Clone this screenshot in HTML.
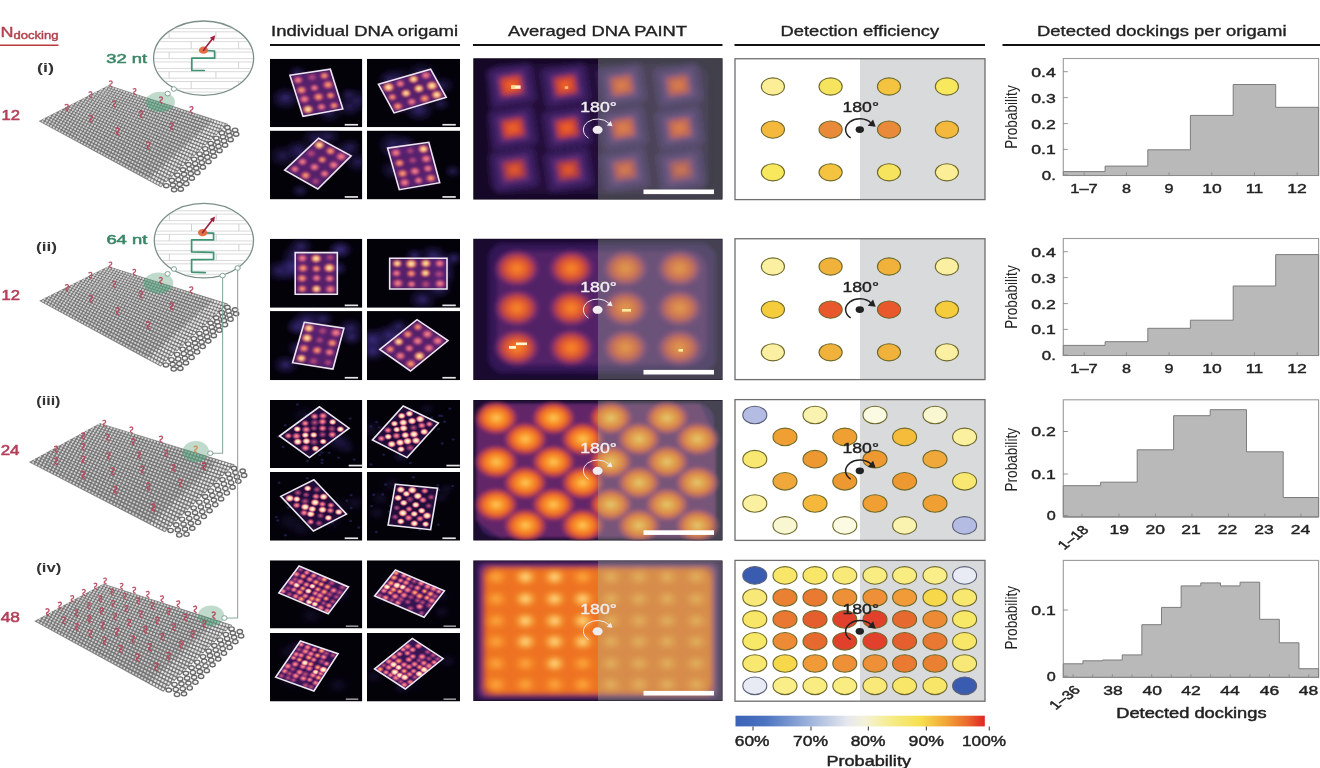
<!DOCTYPE html>
<html><head><meta charset="utf-8"><title>DNA origami figure</title>
<style>
html,body{margin:0;padding:0;background:#fff;}
body{width:1320px;height:768px;overflow:hidden;}
svg{display:block;font-family:"Liberation Sans", sans-serif;filter:blur(0.55px);}
</style></head><body>
<svg width="1320" height="768" viewBox="0 0 1320 768">
<rect width="1320" height="768" fill="#fff"/>
<text x="0.5" y="36.5" font-size="15" fill="#b3404e" textLength="13" lengthAdjust="spacingAndGlyphs" stroke="#b3404e" stroke-width="0.42">N</text>
<text x="13.5" y="38.5" font-size="10.5" fill="#b3404e" textLength="45" lengthAdjust="spacingAndGlyphs" stroke="#b3404e" stroke-width="0.42">docking</text>
<line x1="0" y1="45.2" x2="58.5" y2="45.2" stroke="#b83a3c" stroke-width="1.6" />
<text x="271" y="35.8" font-size="13.9" fill="#222" textLength="187" lengthAdjust="spacingAndGlyphs" stroke="#222" stroke-width="0.33">Individual DNA origami</text>
<line x1="270" y1="45" x2="460" y2="45" stroke="#111" stroke-width="2" />
<text x="508" y="35.8" font-size="13.9" fill="#222" textLength="179" lengthAdjust="spacingAndGlyphs" stroke="#222" stroke-width="0.33">Averaged DNA PAINT</text>
<line x1="473" y1="45" x2="722.5" y2="45" stroke="#111" stroke-width="2" />
<text x="780.5" y="35.8" font-size="13.9" fill="#222" textLength="158.7" lengthAdjust="spacingAndGlyphs" stroke="#222" stroke-width="0.33">Detection efficiency</text>
<line x1="734.5" y1="45" x2="985" y2="45" stroke="#111" stroke-width="2" />
<text x="1037" y="35.8" font-size="13.9" fill="#222" textLength="249.5" lengthAdjust="spacingAndGlyphs" stroke="#222" stroke-width="0.33">Detected dockings per origami</text>
<line x1="1002.5" y1="45" x2="1320" y2="45" stroke="#111" stroke-width="2" />
<text x="37" y="71.5" font-size="13.5" fill="#333" font-weight="bold" textLength="17" lengthAdjust="spacingAndGlyphs">(i)</text>
<text x="36" y="251" font-size="13.5" fill="#333" font-weight="bold" textLength="21" lengthAdjust="spacingAndGlyphs">(ii)</text>
<text x="36.3" y="405" font-size="13.5" fill="#333" font-weight="bold" textLength="24.2" lengthAdjust="spacingAndGlyphs">(iii)</text>
<text x="36.3" y="572.3" font-size="13.5" fill="#333" font-weight="bold" textLength="25.1" lengthAdjust="spacingAndGlyphs">(iv)</text>
<text x="1.5" y="120.3" font-size="13.8" fill="#b3405a" textLength="18.5" lengthAdjust="spacingAndGlyphs" stroke="#b3405a" stroke-width="0.55">12</text>
<text x="1.5" y="300.4" font-size="13.8" fill="#b3405a" textLength="18.5" lengthAdjust="spacingAndGlyphs" stroke="#b3405a" stroke-width="0.55">12</text>
<text x="0.7" y="454.7" font-size="13.8" fill="#b3405a" textLength="18.8" lengthAdjust="spacingAndGlyphs" stroke="#b3405a" stroke-width="0.55">24</text>
<text x="0.7" y="621.6" font-size="13.8" fill="#b3405a" textLength="19.3" lengthAdjust="spacingAndGlyphs" stroke="#b3405a" stroke-width="0.55">48</text>
<rect x="1063.3" y="58.5" width="255.3" height="117" fill="#fff" stroke="#9a9a9a" stroke-width="1.1"/>
<path d="M1063.3 175.5 L1063.3 171.6 L1105.1 171.6 L1105.1 166.1 L1147.8 166.1 L1147.8 149.8 L1190.4 149.8 L1190.4 115.4 L1233.2 115.4 L1233.2 84.5 L1275.7 84.5 L1275.7 107.3 L1318.6 107.3 L1318.6 175.5 Z" fill="#b9b9b9" stroke="#7c7c7c" stroke-width="1" stroke-linejoin="miter"/>
<line x1="1063.3" y1="175.5" x2="1318.6" y2="175.5" stroke="#8a8a8a" stroke-width="1.2" />
<line x1="1084.2" y1="175.5" x2="1084.2" y2="172.3" stroke="#8a8a8a" stroke-width="0.9" />
<line x1="1126.45" y1="175.5" x2="1126.45" y2="172.3" stroke="#8a8a8a" stroke-width="0.9" />
<line x1="1169.1" y1="175.5" x2="1169.1" y2="172.3" stroke="#8a8a8a" stroke-width="0.9" />
<line x1="1211.8" y1="175.5" x2="1211.8" y2="172.3" stroke="#8a8a8a" stroke-width="0.9" />
<line x1="1254.45" y1="175.5" x2="1254.45" y2="172.3" stroke="#8a8a8a" stroke-width="0.9" />
<line x1="1297.15" y1="175.5" x2="1297.15" y2="172.3" stroke="#8a8a8a" stroke-width="0.9" />
<line x1="1063.3" y1="71.7" x2="1067.8" y2="71.7" stroke="#8a8a8a" stroke-width="0.9" />
<text x="1031.3" y="76.6" font-size="13.5" fill="#222" textLength="24.5" lengthAdjust="spacingAndGlyphs" stroke="#222" stroke-width="0.42">0.4</text>
<line x1="1063.3" y1="97.6" x2="1067.8" y2="97.6" stroke="#8a8a8a" stroke-width="0.9" />
<text x="1031.3" y="102.5" font-size="13.5" fill="#222" textLength="24.5" lengthAdjust="spacingAndGlyphs" stroke="#222" stroke-width="0.42">0.3</text>
<line x1="1063.3" y1="123.6" x2="1067.8" y2="123.6" stroke="#8a8a8a" stroke-width="0.9" />
<text x="1031.3" y="128.5" font-size="13.5" fill="#222" textLength="24.5" lengthAdjust="spacingAndGlyphs" stroke="#222" stroke-width="0.42">0.2</text>
<line x1="1063.3" y1="149.4" x2="1067.8" y2="149.4" stroke="#8a8a8a" stroke-width="0.9" />
<text x="1031.3" y="154.3" font-size="13.5" fill="#222" textLength="24.5" lengthAdjust="spacingAndGlyphs" stroke="#222" stroke-width="0.42">0.1</text>
<line x1="1063.3" y1="175" x2="1067.8" y2="175" stroke="#8a8a8a" stroke-width="0.9" />
<text x="1041.8" y="179.9" font-size="13.5" fill="#222" textLength="14" lengthAdjust="spacingAndGlyphs" stroke="#222" stroke-width="0.42">0.</text>
<text x="1070.25" y="192.8" font-size="13.5" fill="#222" textLength="27.5" lengthAdjust="spacingAndGlyphs" stroke="#222" stroke-width="0.42">1–7</text>
<text x="1122.1" y="192.8" font-size="13.5" fill="#222" textLength="9" lengthAdjust="spacingAndGlyphs" stroke="#222" stroke-width="0.42">8</text>
<text x="1164.5" y="192.8" font-size="13.5" fill="#222" textLength="9" lengthAdjust="spacingAndGlyphs" stroke="#222" stroke-width="0.42">9</text>
<text x="1202.25" y="192.8" font-size="13.5" fill="#222" textLength="19.5" lengthAdjust="spacingAndGlyphs" stroke="#222" stroke-width="0.42">10</text>
<text x="1245.75" y="192.8" font-size="13.5" fill="#222" textLength="17.5" lengthAdjust="spacingAndGlyphs" stroke="#222" stroke-width="0.42">11</text>
<text x="1287.25" y="192.8" font-size="13.5" fill="#222" textLength="19.5" lengthAdjust="spacingAndGlyphs" stroke="#222" stroke-width="0.42">12</text>
<g transform="translate(1017.4 148.8) scale(1.3 1) rotate(-90)"><text x="0" y="0" font-size="12.3" fill="#222" textLength="63.5" lengthAdjust="spacingAndGlyphs">Probability</text></g>
<rect x="1063.3" y="238.5" width="255.3" height="117" fill="#fff" stroke="#9a9a9a" stroke-width="1.1"/>
<path d="M1063.3 355.5 L1063.3 345.4 L1105.1 345.4 L1105.1 341.7 L1147.8 341.7 L1147.8 328.3 L1190.4 328.3 L1190.4 320.2 L1233.2 320.2 L1233.2 286 L1275.7 286 L1275.7 254.6 L1318.6 254.6 L1318.6 355.5 Z" fill="#b9b9b9" stroke="#7c7c7c" stroke-width="1" stroke-linejoin="miter"/>
<line x1="1063.3" y1="355.5" x2="1318.6" y2="355.5" stroke="#8a8a8a" stroke-width="1.2" />
<line x1="1084.2" y1="355.5" x2="1084.2" y2="352.3" stroke="#8a8a8a" stroke-width="0.9" />
<line x1="1126.45" y1="355.5" x2="1126.45" y2="352.3" stroke="#8a8a8a" stroke-width="0.9" />
<line x1="1169.1" y1="355.5" x2="1169.1" y2="352.3" stroke="#8a8a8a" stroke-width="0.9" />
<line x1="1211.8" y1="355.5" x2="1211.8" y2="352.3" stroke="#8a8a8a" stroke-width="0.9" />
<line x1="1254.45" y1="355.5" x2="1254.45" y2="352.3" stroke="#8a8a8a" stroke-width="0.9" />
<line x1="1297.15" y1="355.5" x2="1297.15" y2="352.3" stroke="#8a8a8a" stroke-width="0.9" />
<line x1="1063.3" y1="251.7" x2="1067.8" y2="251.7" stroke="#8a8a8a" stroke-width="0.9" />
<text x="1031.3" y="256.6" font-size="13.5" fill="#222" textLength="24.5" lengthAdjust="spacingAndGlyphs" stroke="#222" stroke-width="0.42">0.4</text>
<line x1="1063.3" y1="277.6" x2="1067.8" y2="277.6" stroke="#8a8a8a" stroke-width="0.9" />
<text x="1031.3" y="282.5" font-size="13.5" fill="#222" textLength="24.5" lengthAdjust="spacingAndGlyphs" stroke="#222" stroke-width="0.42">0.3</text>
<line x1="1063.3" y1="303.6" x2="1067.8" y2="303.6" stroke="#8a8a8a" stroke-width="0.9" />
<text x="1031.3" y="308.5" font-size="13.5" fill="#222" textLength="24.5" lengthAdjust="spacingAndGlyphs" stroke="#222" stroke-width="0.42">0.2</text>
<line x1="1063.3" y1="329.4" x2="1067.8" y2="329.4" stroke="#8a8a8a" stroke-width="0.9" />
<text x="1031.3" y="334.3" font-size="13.5" fill="#222" textLength="24.5" lengthAdjust="spacingAndGlyphs" stroke="#222" stroke-width="0.42">0.1</text>
<line x1="1063.3" y1="355" x2="1067.8" y2="355" stroke="#8a8a8a" stroke-width="0.9" />
<text x="1041.8" y="359.9" font-size="13.5" fill="#222" textLength="14" lengthAdjust="spacingAndGlyphs" stroke="#222" stroke-width="0.42">0.</text>
<text x="1070.25" y="372.8" font-size="13.5" fill="#222" textLength="27.5" lengthAdjust="spacingAndGlyphs" stroke="#222" stroke-width="0.42">1–7</text>
<text x="1122.1" y="372.8" font-size="13.5" fill="#222" textLength="9" lengthAdjust="spacingAndGlyphs" stroke="#222" stroke-width="0.42">8</text>
<text x="1164.5" y="372.8" font-size="13.5" fill="#222" textLength="9" lengthAdjust="spacingAndGlyphs" stroke="#222" stroke-width="0.42">9</text>
<text x="1202.25" y="372.8" font-size="13.5" fill="#222" textLength="19.5" lengthAdjust="spacingAndGlyphs" stroke="#222" stroke-width="0.42">10</text>
<text x="1245.75" y="372.8" font-size="13.5" fill="#222" textLength="17.5" lengthAdjust="spacingAndGlyphs" stroke="#222" stroke-width="0.42">11</text>
<text x="1287.25" y="372.8" font-size="13.5" fill="#222" textLength="19.5" lengthAdjust="spacingAndGlyphs" stroke="#222" stroke-width="0.42">12</text>
<g transform="translate(1017.4 328.8) scale(1.3 1) rotate(-90)"><text x="0" y="0" font-size="12.3" fill="#222" textLength="63.5" lengthAdjust="spacingAndGlyphs">Probability</text></g>
<rect x="1063.3" y="399.8" width="255.3" height="117" fill="#fff" stroke="#9a9a9a" stroke-width="1.1"/>
<path d="M1063.3 516.8 L1063.3 485.7 L1100.6 485.7 L1100.6 482.2 L1137.2 482.2 L1137.2 449.8 L1173.6 449.8 L1173.6 415.7 L1210.2 415.7 L1210.2 409.7 L1246.5 409.7 L1246.5 451.8 L1283.2 451.8 L1283.2 497.5 L1318.6 497.5 L1318.6 516.8 Z" fill="#b9b9b9" stroke="#7c7c7c" stroke-width="1" stroke-linejoin="miter"/>
<line x1="1063.3" y1="516.8" x2="1318.6" y2="516.8" stroke="#8a8a8a" stroke-width="1.2" />
<line x1="1081.95" y1="516.8" x2="1081.95" y2="513.6" stroke="#8a8a8a" stroke-width="0.9" />
<line x1="1118.9" y1="516.8" x2="1118.9" y2="513.6" stroke="#8a8a8a" stroke-width="0.9" />
<line x1="1155.4" y1="516.8" x2="1155.4" y2="513.6" stroke="#8a8a8a" stroke-width="0.9" />
<line x1="1191.9" y1="516.8" x2="1191.9" y2="513.6" stroke="#8a8a8a" stroke-width="0.9" />
<line x1="1228.35" y1="516.8" x2="1228.35" y2="513.6" stroke="#8a8a8a" stroke-width="0.9" />
<line x1="1264.85" y1="516.8" x2="1264.85" y2="513.6" stroke="#8a8a8a" stroke-width="0.9" />
<line x1="1300.9" y1="516.8" x2="1300.9" y2="513.6" stroke="#8a8a8a" stroke-width="0.9" />
<line x1="1063.3" y1="431.5" x2="1067.8" y2="431.5" stroke="#8a8a8a" stroke-width="0.9" />
<text x="1031.3" y="436.4" font-size="13.5" fill="#222" textLength="24.5" lengthAdjust="spacingAndGlyphs" stroke="#222" stroke-width="0.42">0.2</text>
<line x1="1063.3" y1="474" x2="1067.8" y2="474" stroke="#8a8a8a" stroke-width="0.9" />
<text x="1031.3" y="478.9" font-size="13.5" fill="#222" textLength="24.5" lengthAdjust="spacingAndGlyphs" stroke="#222" stroke-width="0.42">0.1</text>
<line x1="1063.3" y1="515.5" x2="1067.8" y2="515.5" stroke="#8a8a8a" stroke-width="0.9" />
<text x="1046.8" y="520.4" font-size="13.5" fill="#222" textLength="9" lengthAdjust="spacingAndGlyphs" stroke="#222" stroke-width="0.42">0</text>
<text x="1109.45" y="534" font-size="13.5" fill="#222" textLength="19.5" lengthAdjust="spacingAndGlyphs" stroke="#222" stroke-width="0.42">19</text>
<text x="1145.55" y="534" font-size="13.5" fill="#222" textLength="19.5" lengthAdjust="spacingAndGlyphs" stroke="#222" stroke-width="0.42">20</text>
<text x="1181.25" y="534" font-size="13.5" fill="#222" textLength="19.5" lengthAdjust="spacingAndGlyphs" stroke="#222" stroke-width="0.42">21</text>
<text x="1217.75" y="534" font-size="13.5" fill="#222" textLength="19.5" lengthAdjust="spacingAndGlyphs" stroke="#222" stroke-width="0.42">22</text>
<text x="1254.25" y="534" font-size="13.5" fill="#222" textLength="19.5" lengthAdjust="spacingAndGlyphs" stroke="#222" stroke-width="0.42">23</text>
<text x="1290.75" y="534" font-size="13.5" fill="#222" textLength="19.5" lengthAdjust="spacingAndGlyphs" stroke="#222" stroke-width="0.42">24</text>
<g transform="translate(1077 540.5) scale(1.3 1) rotate(-45)"><text x="0" y="0" font-size="12.4" fill="#222" text-anchor="middle" stroke="#222" stroke-width="0.42">1–18</text></g>
<g transform="translate(1017.4 491.5) scale(1.3 1) rotate(-90)"><text x="0" y="0" font-size="12.3" fill="#222" textLength="63.5" lengthAdjust="spacingAndGlyphs">Probability</text></g>
<rect x="1063.3" y="560.4" width="255.3" height="117" fill="#fff" stroke="#9a9a9a" stroke-width="1.1"/>
<path d="M1063.3 677.4 L1063.3 663.8 L1082.94 663.8 L1082.94 660.8 L1102.58 660.8 L1102.58 660 L1122.22 660 L1122.22 654.9 L1141.85 654.9 L1141.85 624.7 L1161.49 624.7 L1161.49 607.4 L1181.13 607.4 L1181.13 585.9 L1200.77 585.9 L1200.77 582.9 L1220.41 582.9 L1220.41 585.9 L1240.05 585.9 L1240.05 582.2 L1259.68 582.2 L1259.68 619.3 L1279.32 619.3 L1279.32 642.8 L1298.96 642.8 L1298.96 668.7 L1318.6 668.7 L1318.6 677.4 Z" fill="#b9b9b9" stroke="#7c7c7c" stroke-width="1" stroke-linejoin="miter"/>
<line x1="1063.3" y1="677.4" x2="1318.6" y2="677.4" stroke="#8a8a8a" stroke-width="1.2" />
<line x1="1073.12" y1="677.4" x2="1073.12" y2="674.2" stroke="#8a8a8a" stroke-width="0.9" />
<line x1="1092.76" y1="677.4" x2="1092.76" y2="674.2" stroke="#8a8a8a" stroke-width="0.9" />
<line x1="1112.4" y1="677.4" x2="1112.4" y2="674.2" stroke="#8a8a8a" stroke-width="0.9" />
<line x1="1132.03" y1="677.4" x2="1132.03" y2="674.2" stroke="#8a8a8a" stroke-width="0.9" />
<line x1="1151.67" y1="677.4" x2="1151.67" y2="674.2" stroke="#8a8a8a" stroke-width="0.9" />
<line x1="1171.31" y1="677.4" x2="1171.31" y2="674.2" stroke="#8a8a8a" stroke-width="0.9" />
<line x1="1190.95" y1="677.4" x2="1190.95" y2="674.2" stroke="#8a8a8a" stroke-width="0.9" />
<line x1="1210.59" y1="677.4" x2="1210.59" y2="674.2" stroke="#8a8a8a" stroke-width="0.9" />
<line x1="1230.23" y1="677.4" x2="1230.23" y2="674.2" stroke="#8a8a8a" stroke-width="0.9" />
<line x1="1249.87" y1="677.4" x2="1249.87" y2="674.2" stroke="#8a8a8a" stroke-width="0.9" />
<line x1="1269.5" y1="677.4" x2="1269.5" y2="674.2" stroke="#8a8a8a" stroke-width="0.9" />
<line x1="1289.14" y1="677.4" x2="1289.14" y2="674.2" stroke="#8a8a8a" stroke-width="0.9" />
<line x1="1308.78" y1="677.4" x2="1308.78" y2="674.2" stroke="#8a8a8a" stroke-width="0.9" />
<line x1="1063.3" y1="610" x2="1067.8" y2="610" stroke="#8a8a8a" stroke-width="0.9" />
<text x="1031.3" y="614.9" font-size="13.5" fill="#222" textLength="24.5" lengthAdjust="spacingAndGlyphs" stroke="#222" stroke-width="0.42">0.1</text>
<line x1="1063.3" y1="676.2" x2="1067.8" y2="676.2" stroke="#8a8a8a" stroke-width="0.9" />
<text x="1046.8" y="681.1" font-size="13.5" fill="#222" textLength="9" lengthAdjust="spacingAndGlyphs" stroke="#222" stroke-width="0.42">0</text>
<text x="1103.25" y="695" font-size="13.5" fill="#222" textLength="19.5" lengthAdjust="spacingAndGlyphs" stroke="#222" stroke-width="0.42">38</text>
<text x="1142.55" y="695" font-size="13.5" fill="#222" textLength="19.5" lengthAdjust="spacingAndGlyphs" stroke="#222" stroke-width="0.42">40</text>
<text x="1181.25" y="695" font-size="13.5" fill="#222" textLength="19.5" lengthAdjust="spacingAndGlyphs" stroke="#222" stroke-width="0.42">42</text>
<text x="1220.25" y="695" font-size="13.5" fill="#222" textLength="19.5" lengthAdjust="spacingAndGlyphs" stroke="#222" stroke-width="0.42">44</text>
<text x="1259.75" y="695" font-size="13.5" fill="#222" textLength="19.5" lengthAdjust="spacingAndGlyphs" stroke="#222" stroke-width="0.42">46</text>
<text x="1298.85" y="695" font-size="13.5" fill="#222" textLength="19.5" lengthAdjust="spacingAndGlyphs" stroke="#222" stroke-width="0.42">48</text>
<g transform="translate(1068.5 700.5) scale(1.3 1) rotate(-45)"><text x="0" y="0" font-size="12.4" fill="#222" text-anchor="middle" stroke="#222" stroke-width="0.42">1–36</text></g>
<g transform="translate(1017.4 649.5) scale(1.3 1) rotate(-90)"><text x="0" y="0" font-size="12.3" fill="#222" textLength="63.5" lengthAdjust="spacingAndGlyphs">Probability</text></g>
<text x="1116.2" y="717.7" font-size="14.2" fill="#222" textLength="150.4" lengthAdjust="spacingAndGlyphs" stroke="#222" stroke-width="0.45">Detected dockings</text>
<rect x="735" y="58.75" width="250" height="140.85" fill="#fff"/>
<rect x="860" y="58.75" width="125" height="140.85" fill="#d9dadc"/>
<ellipse cx="772.9" cy="86.5" rx="11.6" ry="8.6" fill="#fbee96" stroke="#6f6a2c" stroke-width="1.1"/>
<ellipse cx="830.6" cy="86.5" rx="11.6" ry="8.6" fill="#f7e45e" stroke="#6f6a2c" stroke-width="1.1"/>
<ellipse cx="889" cy="86.5" rx="11.6" ry="8.6" fill="#f4c440" stroke="#6f6a2c" stroke-width="1.1"/>
<ellipse cx="946.9" cy="86.5" rx="11.6" ry="8.6" fill="#f8e85e" stroke="#6f6a2c" stroke-width="1.1"/>
<ellipse cx="772.9" cy="129.6" rx="11.6" ry="8.6" fill="#f3b83c" stroke="#6f6a2c" stroke-width="1.1"/>
<ellipse cx="830.6" cy="129.6" rx="11.6" ry="8.6" fill="#e98a3a" stroke="#6f6a2c" stroke-width="1.1"/>
<ellipse cx="889" cy="129.6" rx="11.6" ry="8.6" fill="#e98a3a" stroke="#6f6a2c" stroke-width="1.1"/>
<ellipse cx="946.9" cy="129.6" rx="11.6" ry="8.6" fill="#f3b83c" stroke="#6f6a2c" stroke-width="1.1"/>
<ellipse cx="772.9" cy="172.3" rx="11.6" ry="8.6" fill="#f8e85e" stroke="#6f6a2c" stroke-width="1.1"/>
<ellipse cx="830.6" cy="172.3" rx="11.6" ry="8.6" fill="#f4c440" stroke="#6f6a2c" stroke-width="1.1"/>
<ellipse cx="889" cy="172.3" rx="11.6" ry="8.6" fill="#f7e45e" stroke="#6f6a2c" stroke-width="1.1"/>
<ellipse cx="946.9" cy="172.3" rx="11.6" ry="8.6" fill="#fbee96" stroke="#6f6a2c" stroke-width="1.1"/>
<rect x="735" y="58.75" width="250" height="140.85" fill="none" stroke="#6e6e6e" stroke-width="1.3"/>
<text x="842.5" y="112" font-size="13.8" fill="#222" textLength="36.5" lengthAdjust="spacingAndGlyphs" stroke="#222" stroke-width="0.4">180°</text>
<path d="M850.67 137.87 A14.2 10.8 0 1 1 870.99 122.95" fill="none" stroke="#222" stroke-width="1.5"/>
<path d="M875.69 126.75 L867.69 125.75 L873.09 119.55 Z" fill="#222"/>
<ellipse cx="859.8" cy="129.6" rx="4.2" ry="3.36" fill="#222"/>
<rect x="735" y="238.75" width="250" height="140.85" fill="#fff"/>
<rect x="860" y="238.75" width="125" height="140.85" fill="#d9dadc"/>
<ellipse cx="772.9" cy="266.5" rx="11.6" ry="8.6" fill="#fbf0a2" stroke="#6f6a2c" stroke-width="1.1"/>
<ellipse cx="830.6" cy="266.5" rx="11.6" ry="8.6" fill="#f1b23c" stroke="#6f6a2c" stroke-width="1.1"/>
<ellipse cx="889" cy="266.5" rx="11.6" ry="8.6" fill="#f1b23c" stroke="#6f6a2c" stroke-width="1.1"/>
<ellipse cx="946.9" cy="266.5" rx="11.6" ry="8.6" fill="#fbf0a2" stroke="#6f6a2c" stroke-width="1.1"/>
<ellipse cx="772.9" cy="309.6" rx="11.6" ry="8.6" fill="#f5cc3c" stroke="#6f6a2c" stroke-width="1.1"/>
<ellipse cx="830.6" cy="309.6" rx="11.6" ry="8.6" fill="#e8582c" stroke="#6f6a2c" stroke-width="1.1"/>
<ellipse cx="889" cy="309.6" rx="11.6" ry="8.6" fill="#e8582c" stroke="#6f6a2c" stroke-width="1.1"/>
<ellipse cx="946.9" cy="309.6" rx="11.6" ry="8.6" fill="#f5cc3c" stroke="#6f6a2c" stroke-width="1.1"/>
<ellipse cx="772.9" cy="352.3" rx="11.6" ry="8.6" fill="#fbf0a2" stroke="#6f6a2c" stroke-width="1.1"/>
<ellipse cx="830.6" cy="352.3" rx="11.6" ry="8.6" fill="#f1b23c" stroke="#6f6a2c" stroke-width="1.1"/>
<ellipse cx="889" cy="352.3" rx="11.6" ry="8.6" fill="#f1b23c" stroke="#6f6a2c" stroke-width="1.1"/>
<ellipse cx="946.9" cy="352.3" rx="11.6" ry="8.6" fill="#fbf0a2" stroke="#6f6a2c" stroke-width="1.1"/>
<rect x="735" y="238.75" width="250" height="140.85" fill="none" stroke="#6e6e6e" stroke-width="1.3"/>
<text x="842.5" y="292" font-size="13.8" fill="#222" textLength="36.5" lengthAdjust="spacingAndGlyphs" stroke="#222" stroke-width="0.4">180°</text>
<path d="M850.67 317.87 A14.2 10.8 0 1 1 870.99 302.95" fill="none" stroke="#222" stroke-width="1.5"/>
<path d="M875.69 306.75 L867.69 305.75 L873.09 299.55 Z" fill="#222"/>
<ellipse cx="859.8" cy="309.6" rx="4.2" ry="3.36" fill="#222"/>
<rect x="735" y="399.6" width="250" height="140.8" fill="#fff"/>
<rect x="860" y="399.6" width="125" height="140.8" fill="#d9dadc"/>
<ellipse cx="754.8" cy="415" rx="12" ry="8.8" fill="#b4bce4" stroke="#5a6078" stroke-width="1.1"/>
<ellipse cx="815" cy="415" rx="12" ry="8.8" fill="#faf3b0" stroke="#6f6a2c" stroke-width="1.1"/>
<ellipse cx="875" cy="415" rx="12" ry="8.8" fill="#fbfae2" stroke="#6f6a2c" stroke-width="1.1"/>
<ellipse cx="935" cy="415" rx="12" ry="8.8" fill="#f8f7d2" stroke="#6f6a2c" stroke-width="1.1"/>
<ellipse cx="785" cy="436.9" rx="12" ry="8.8" fill="#f0a032" stroke="#6f6a2c" stroke-width="1.1"/>
<ellipse cx="844.8" cy="436.9" rx="12" ry="8.8" fill="#f0a032" stroke="#6f6a2c" stroke-width="1.1"/>
<ellipse cx="904.6" cy="436.9" rx="12" ry="8.8" fill="#f5bb3a" stroke="#6f6a2c" stroke-width="1.1"/>
<ellipse cx="964.6" cy="436.9" rx="12" ry="8.8" fill="#faf0a0" stroke="#6f6a2c" stroke-width="1.1"/>
<ellipse cx="754.8" cy="459.2" rx="12" ry="8.8" fill="#f8e872" stroke="#6f6a2c" stroke-width="1.1"/>
<ellipse cx="815" cy="459.2" rx="12" ry="8.8" fill="#ee9832" stroke="#6f6a2c" stroke-width="1.1"/>
<ellipse cx="875" cy="459.2" rx="12" ry="8.8" fill="#ee9832" stroke="#6f6a2c" stroke-width="1.1"/>
<ellipse cx="935" cy="459.2" rx="12" ry="8.8" fill="#f0a83a" stroke="#6f6a2c" stroke-width="1.1"/>
<ellipse cx="785" cy="481.3" rx="12" ry="8.8" fill="#f0a83a" stroke="#6f6a2c" stroke-width="1.1"/>
<ellipse cx="844.8" cy="481.3" rx="12" ry="8.8" fill="#ee9832" stroke="#6f6a2c" stroke-width="1.1"/>
<ellipse cx="904.6" cy="481.3" rx="12" ry="8.8" fill="#ee9832" stroke="#6f6a2c" stroke-width="1.1"/>
<ellipse cx="964.6" cy="481.3" rx="12" ry="8.8" fill="#f8e872" stroke="#6f6a2c" stroke-width="1.1"/>
<ellipse cx="754.8" cy="503.5" rx="12" ry="8.8" fill="#faf0a0" stroke="#6f6a2c" stroke-width="1.1"/>
<ellipse cx="815" cy="503.5" rx="12" ry="8.8" fill="#f5b83a" stroke="#6f6a2c" stroke-width="1.1"/>
<ellipse cx="875" cy="503.5" rx="12" ry="8.8" fill="#f0a032" stroke="#6f6a2c" stroke-width="1.1"/>
<ellipse cx="935" cy="503.5" rx="12" ry="8.8" fill="#f0a032" stroke="#6f6a2c" stroke-width="1.1"/>
<ellipse cx="785" cy="525.4" rx="12" ry="8.8" fill="#f8f7d2" stroke="#6f6a2c" stroke-width="1.1"/>
<ellipse cx="844.8" cy="525.4" rx="12" ry="8.8" fill="#fbfae2" stroke="#6f6a2c" stroke-width="1.1"/>
<ellipse cx="904.6" cy="525.4" rx="12" ry="8.8" fill="#faf3b0" stroke="#6f6a2c" stroke-width="1.1"/>
<ellipse cx="964.6" cy="525.4" rx="12" ry="8.8" fill="#b4bce4" stroke="#5a6078" stroke-width="1.1"/>
<rect x="735" y="399.6" width="250" height="140.8" fill="none" stroke="#6e6e6e" stroke-width="1.3"/>
<text x="842.5" y="452.6" font-size="13.8" fill="#222" textLength="36.5" lengthAdjust="spacingAndGlyphs" stroke="#222" stroke-width="0.4">180°</text>
<path d="M850.67 479.07 A14.2 10.8 0 1 1 870.99 464.15" fill="none" stroke="#222" stroke-width="1.5"/>
<path d="M875.69 467.95 L867.69 466.95 L873.09 460.75 Z" fill="#222"/>
<ellipse cx="859.8" cy="470.8" rx="4.2" ry="3.36" fill="#222"/>
<rect x="735" y="560.4" width="250" height="140.8" fill="#fff"/>
<rect x="860" y="560.4" width="125" height="140.8" fill="#d9dadc"/>
<ellipse cx="754.8" cy="575.4" rx="12" ry="8.8" fill="#3a5cb0" stroke="#5a6078" stroke-width="1.1"/>
<ellipse cx="785" cy="575.4" rx="12" ry="8.8" fill="#f8e668" stroke="#6f6a2c" stroke-width="1.1"/>
<ellipse cx="815" cy="575.4" rx="12" ry="8.8" fill="#f8e668" stroke="#6f6a2c" stroke-width="1.1"/>
<ellipse cx="844.8" cy="575.4" rx="12" ry="8.8" fill="#f9e978" stroke="#6f6a2c" stroke-width="1.1"/>
<ellipse cx="875" cy="575.4" rx="12" ry="8.8" fill="#f9ec80" stroke="#6f6a2c" stroke-width="1.1"/>
<ellipse cx="904.6" cy="575.4" rx="12" ry="8.8" fill="#f9ec80" stroke="#6f6a2c" stroke-width="1.1"/>
<ellipse cx="935" cy="575.4" rx="12" ry="8.8" fill="#faee88" stroke="#6f6a2c" stroke-width="1.1"/>
<ellipse cx="964.6" cy="575.4" rx="12" ry="8.8" fill="#e8eaf4" stroke="#5a6078" stroke-width="1.1"/>
<ellipse cx="754.8" cy="597.5" rx="12" ry="8.8" fill="#f8e878" stroke="#6f6a2c" stroke-width="1.1"/>
<ellipse cx="785" cy="597.5" rx="12" ry="8.8" fill="#ea8032" stroke="#6f6a2c" stroke-width="1.1"/>
<ellipse cx="815" cy="597.5" rx="12" ry="8.8" fill="#ea7a32" stroke="#6f6a2c" stroke-width="1.1"/>
<ellipse cx="844.8" cy="597.5" rx="12" ry="8.8" fill="#ee9038" stroke="#6f6a2c" stroke-width="1.1"/>
<ellipse cx="875" cy="597.5" rx="12" ry="8.8" fill="#ee9038" stroke="#6f6a2c" stroke-width="1.1"/>
<ellipse cx="904.6" cy="597.5" rx="12" ry="8.8" fill="#f09a38" stroke="#6f6a2c" stroke-width="1.1"/>
<ellipse cx="935" cy="597.5" rx="12" ry="8.8" fill="#f6d84a" stroke="#6f6a2c" stroke-width="1.1"/>
<ellipse cx="964.6" cy="597.5" rx="12" ry="8.8" fill="#f8e870" stroke="#6f6a2c" stroke-width="1.1"/>
<ellipse cx="754.8" cy="619.4" rx="12" ry="8.8" fill="#f8e668" stroke="#6f6a2c" stroke-width="1.1"/>
<ellipse cx="785" cy="619.4" rx="12" ry="8.8" fill="#e87832" stroke="#6f6a2c" stroke-width="1.1"/>
<ellipse cx="815" cy="619.4" rx="12" ry="8.8" fill="#e45e2e" stroke="#6f6a2c" stroke-width="1.1"/>
<ellipse cx="844.8" cy="619.4" rx="12" ry="8.8" fill="#e0402c" stroke="#6f6a2c" stroke-width="1.1"/>
<ellipse cx="875" cy="619.4" rx="12" ry="8.8" fill="#e0402c" stroke="#6f6a2c" stroke-width="1.1"/>
<ellipse cx="904.6" cy="619.4" rx="12" ry="8.8" fill="#e66a30" stroke="#6f6a2c" stroke-width="1.1"/>
<ellipse cx="935" cy="619.4" rx="12" ry="8.8" fill="#ec8a36" stroke="#6f6a2c" stroke-width="1.1"/>
<ellipse cx="964.6" cy="619.4" rx="12" ry="8.8" fill="#f8e868" stroke="#6f6a2c" stroke-width="1.1"/>
<ellipse cx="754.8" cy="641.3" rx="12" ry="8.8" fill="#f8e868" stroke="#6f6a2c" stroke-width="1.1"/>
<ellipse cx="785" cy="641.3" rx="12" ry="8.8" fill="#ec8a36" stroke="#6f6a2c" stroke-width="1.1"/>
<ellipse cx="815" cy="641.3" rx="12" ry="8.8" fill="#e66a30" stroke="#6f6a2c" stroke-width="1.1"/>
<ellipse cx="844.8" cy="641.3" rx="12" ry="8.8" fill="#e0402c" stroke="#6f6a2c" stroke-width="1.1"/>
<ellipse cx="875" cy="641.3" rx="12" ry="8.8" fill="#e0402c" stroke="#6f6a2c" stroke-width="1.1"/>
<ellipse cx="904.6" cy="641.3" rx="12" ry="8.8" fill="#e45e2e" stroke="#6f6a2c" stroke-width="1.1"/>
<ellipse cx="935" cy="641.3" rx="12" ry="8.8" fill="#e87832" stroke="#6f6a2c" stroke-width="1.1"/>
<ellipse cx="964.6" cy="641.3" rx="12" ry="8.8" fill="#f8e668" stroke="#6f6a2c" stroke-width="1.1"/>
<ellipse cx="754.8" cy="663.5" rx="12" ry="8.8" fill="#f8e870" stroke="#6f6a2c" stroke-width="1.1"/>
<ellipse cx="785" cy="663.5" rx="12" ry="8.8" fill="#f6d84a" stroke="#6f6a2c" stroke-width="1.1"/>
<ellipse cx="815" cy="663.5" rx="12" ry="8.8" fill="#f09a38" stroke="#6f6a2c" stroke-width="1.1"/>
<ellipse cx="844.8" cy="663.5" rx="12" ry="8.8" fill="#ee9038" stroke="#6f6a2c" stroke-width="1.1"/>
<ellipse cx="875" cy="663.5" rx="12" ry="8.8" fill="#ee9038" stroke="#6f6a2c" stroke-width="1.1"/>
<ellipse cx="904.6" cy="663.5" rx="12" ry="8.8" fill="#ea7a32" stroke="#6f6a2c" stroke-width="1.1"/>
<ellipse cx="935" cy="663.5" rx="12" ry="8.8" fill="#ea8032" stroke="#6f6a2c" stroke-width="1.1"/>
<ellipse cx="964.6" cy="663.5" rx="12" ry="8.8" fill="#f8e878" stroke="#6f6a2c" stroke-width="1.1"/>
<ellipse cx="754.8" cy="685.8" rx="12" ry="8.8" fill="#e8eaf4" stroke="#5a6078" stroke-width="1.1"/>
<ellipse cx="785" cy="685.8" rx="12" ry="8.8" fill="#faee88" stroke="#6f6a2c" stroke-width="1.1"/>
<ellipse cx="815" cy="685.8" rx="12" ry="8.8" fill="#f9ec80" stroke="#6f6a2c" stroke-width="1.1"/>
<ellipse cx="844.8" cy="685.8" rx="12" ry="8.8" fill="#f9ec80" stroke="#6f6a2c" stroke-width="1.1"/>
<ellipse cx="875" cy="685.8" rx="12" ry="8.8" fill="#f9e978" stroke="#6f6a2c" stroke-width="1.1"/>
<ellipse cx="904.6" cy="685.8" rx="12" ry="8.8" fill="#f8e668" stroke="#6f6a2c" stroke-width="1.1"/>
<ellipse cx="935" cy="685.8" rx="12" ry="8.8" fill="#f8e668" stroke="#6f6a2c" stroke-width="1.1"/>
<ellipse cx="964.6" cy="685.8" rx="12" ry="8.8" fill="#3a5cb0" stroke="#5a6078" stroke-width="1.1"/>
<rect x="735" y="560.4" width="250" height="140.8" fill="none" stroke="#6e6e6e" stroke-width="1.3"/>
<text x="842.5" y="613.6" font-size="13.8" fill="#222" textLength="36.5" lengthAdjust="spacingAndGlyphs" stroke="#222" stroke-width="0.4">180°</text>
<path d="M850.67 639.57 A14.2 10.8 0 1 1 870.99 624.65" fill="none" stroke="#222" stroke-width="1.5"/>
<path d="M875.69 628.45 L867.69 627.45 L873.09 621.25 Z" fill="#222"/>
<ellipse cx="859.8" cy="631.3" rx="4.2" ry="3.36" fill="#222"/>
<defs><linearGradient id="cbar" x1="0" x2="1" y1="0" y2="0"><stop offset="0" stop-color="#3a62b8"/><stop offset="0.12" stop-color="#4c74c0"/><stop offset="0.3" stop-color="#9fb4dc"/><stop offset="0.45" stop-color="#e6e8ee"/><stop offset="0.52" stop-color="#f4f2d8"/><stop offset="0.62" stop-color="#f6ec8c"/><stop offset="0.74" stop-color="#f6e04e"/><stop offset="0.84" stop-color="#f2a838"/><stop offset="0.93" stop-color="#ea6a2c"/><stop offset="1" stop-color="#df2424"/></linearGradient></defs>
<rect x="735.5" y="715.7" width="249.3" height="10.7" fill="url(#cbar)"/>
<line x1="753" y1="726.4" x2="753" y2="730.6" stroke="#555" stroke-width="1.2" />
<line x1="811" y1="726.4" x2="811" y2="730.6" stroke="#555" stroke-width="1.2" />
<line x1="868.4" y1="726.4" x2="868.4" y2="730.6" stroke="#555" stroke-width="1.2" />
<line x1="926.4" y1="726.4" x2="926.4" y2="730.6" stroke="#555" stroke-width="1.2" />
<line x1="989.3" y1="726.4" x2="989.3" y2="730.6" stroke="#555" stroke-width="1.2" />
<text x="734.8" y="745.8" font-size="14.2" fill="#222" textLength="34.7" lengthAdjust="spacingAndGlyphs" stroke="#222" stroke-width="0.42">60%</text>
<text x="793" y="745.8" font-size="14.2" fill="#222" textLength="35" lengthAdjust="spacingAndGlyphs" stroke="#222" stroke-width="0.42">70%</text>
<text x="850.7" y="745.8" font-size="14.2" fill="#222" textLength="34.8" lengthAdjust="spacingAndGlyphs" stroke="#222" stroke-width="0.42">80%</text>
<text x="908.6" y="745.8" font-size="14.2" fill="#222" textLength="35.3" lengthAdjust="spacingAndGlyphs" stroke="#222" stroke-width="0.42">90%</text>
<text x="962" y="745.8" font-size="14.2" fill="#222" textLength="44" lengthAdjust="spacingAndGlyphs" stroke="#222" stroke-width="0.42">100%</text>
<text x="826.4" y="765.6" font-size="14.4" fill="#222" textLength="84.6" lengthAdjust="spacingAndGlyphs" stroke="#222" stroke-width="0.42">Probability</text>
<defs>
<radialGradient id="gHaloP"><stop offset="0" stop-color="#6a3590" stop-opacity="0.95"/><stop offset="0.55" stop-color="#53287e" stop-opacity="0.8"/><stop offset="1" stop-color="#3a1a60" stop-opacity="0"/></radialGradient>
<radialGradient id="gCoreO"><stop offset="0" stop-color="#f6742c" stop-opacity="1"/><stop offset="0.5" stop-color="#e85a2a" stop-opacity="0.95"/><stop offset="0.8" stop-color="#c03c50" stop-opacity="0.6"/><stop offset="1" stop-color="#8a3070" stop-opacity="0"/></radialGradient>
<radialGradient id="gCoreO2"><stop offset="0" stop-color="#f78c2c" stop-opacity="1"/><stop offset="0.3" stop-color="#ee6a28" stop-opacity="1"/><stop offset="0.6" stop-color="#d24a3c" stop-opacity="0.9"/><stop offset="0.82" stop-color="#8e3470" stop-opacity="0.6"/><stop offset="1" stop-color="#5a2a78" stop-opacity="0"/></radialGradient>
<radialGradient id="gHaze"><stop offset="0" stop-color="#5a2a80" stop-opacity="0.9"/><stop offset="0.7" stop-color="#4a2272" stop-opacity="0.8"/><stop offset="1" stop-color="#2a1048" stop-opacity="0"/></radialGradient>
<radialGradient id="gSpot3"><stop offset="0" stop-color="#fdc858" stop-opacity="1"/><stop offset="0.28" stop-color="#fa9a2c" stop-opacity="1"/><stop offset="0.55" stop-color="#ee6c28" stop-opacity="1"/><stop offset="0.75" stop-color="#d04a44" stop-opacity="0.8"/><stop offset="0.9" stop-color="#9a3468" stop-opacity="0.45"/><stop offset="1" stop-color="#7a2870" stop-opacity="0"/></radialGradient>
<radialGradient id="gSpot4"><stop offset="0" stop-color="#fdb444" stop-opacity="0.95"/><stop offset="0.45" stop-color="#f99430" stop-opacity="0.7"/><stop offset="1" stop-color="#f07a22" stop-opacity="0"/></radialGradient>
<radialGradient id="gSpot4b"><stop offset="0" stop-color="#fde498" stop-opacity="1"/><stop offset="0.35" stop-color="#fdbc50" stop-opacity="0.85"/><stop offset="1" stop-color="#f07a22" stop-opacity="0"/></radialGradient>
</defs>
<clipPath id="avc1"><rect x="473.3" y="58.3" width="249.2" height="141.3"/></clipPath>
<filter id="avb1" x="-5%" y="-5%" width="110%" height="110%"><feGaussianBlur stdDeviation="2.7"/></filter>
<g clip-path="url(#avc1)">
<rect x="473.3" y="58.3" width="249.2" height="141.3" fill="#150826"/>
<g filter="url(#avb1)">
<rect x="488" y="64" width="220" height="130" fill="#26103e" fill-opacity="0.8" rx="14"/>
<g transform="rotate(-9 511.4 85.4)">
<rect x="488.4" y="65.4" width="46" height="40" fill="#40206a" fill-opacity="0.75" rx="6"/>
<rect x="495.4" y="71.4" width="32" height="28" fill="#62307f" fill-opacity="0.7" rx="4"/>
<rect x="500.9" y="76.4" width="21" height="18" fill="#d2442e" fill-opacity="1" rx="3"/>
<rect x="505.9" y="80.9" width="11" height="9" fill="#ee602a" fill-opacity="1" rx="2"/>
</g>
<g transform="rotate(-9 565.5 85.4)">
<rect x="542.5" y="65.4" width="46" height="40" fill="#40206a" fill-opacity="0.75" rx="6"/>
<rect x="549.5" y="71.4" width="32" height="28" fill="#62307f" fill-opacity="0.7" rx="4"/>
<rect x="555" y="76.4" width="21" height="18" fill="#d2442e" fill-opacity="0.95" rx="3"/>
<rect x="560" y="80.9" width="11" height="9" fill="#ee602a" fill-opacity="0.95" rx="2"/>
</g>
<g transform="rotate(-9 621.8 85.4)">
<rect x="598.8" y="65.4" width="46" height="40" fill="#40206a" fill-opacity="0.75" rx="6"/>
<rect x="605.8" y="71.4" width="32" height="28" fill="#62307f" fill-opacity="0.7" rx="4"/>
<rect x="611.3" y="76.4" width="21" height="18" fill="#d2442e" fill-opacity="0.95" rx="3"/>
<rect x="616.3" y="80.9" width="11" height="9" fill="#ee602a" fill-opacity="0.95" rx="2"/>
</g>
<g transform="rotate(-9 678.1 85.4)">
<rect x="655.1" y="65.4" width="46" height="40" fill="#40206a" fill-opacity="0.75" rx="6"/>
<rect x="662.1" y="71.4" width="32" height="28" fill="#62307f" fill-opacity="0.7" rx="4"/>
<rect x="667.6" y="76.4" width="21" height="18" fill="#d2442e" fill-opacity="0.9" rx="3"/>
<rect x="672.6" y="80.9" width="11" height="9" fill="#ee602a" fill-opacity="0.9" rx="2"/>
</g>
<g transform="rotate(-9 512.9 128.1)">
<rect x="489.9" y="108.1" width="46" height="40" fill="#40206a" fill-opacity="0.75" rx="6"/>
<rect x="496.9" y="114.1" width="32" height="28" fill="#62307f" fill-opacity="0.7" rx="4"/>
<rect x="502.4" y="119.1" width="21" height="18" fill="#d2442e" fill-opacity="0.95" rx="3"/>
<rect x="507.4" y="123.6" width="11" height="9" fill="#ee602a" fill-opacity="0.95" rx="2"/>
</g>
<g transform="rotate(-9 567 128.1)">
<rect x="544" y="108.1" width="46" height="40" fill="#40206a" fill-opacity="0.75" rx="6"/>
<rect x="551" y="114.1" width="32" height="28" fill="#62307f" fill-opacity="0.7" rx="4"/>
<rect x="556.5" y="119.1" width="21" height="18" fill="#d2442e" fill-opacity="0.95" rx="3"/>
<rect x="561.5" y="123.6" width="11" height="9" fill="#ee602a" fill-opacity="0.95" rx="2"/>
</g>
<g transform="rotate(-9 623.3 128.1)">
<rect x="600.3" y="108.1" width="46" height="40" fill="#40206a" fill-opacity="0.75" rx="6"/>
<rect x="607.3" y="114.1" width="32" height="28" fill="#62307f" fill-opacity="0.7" rx="4"/>
<rect x="612.8" y="119.1" width="21" height="18" fill="#d2442e" fill-opacity="1" rx="3"/>
<rect x="617.8" y="123.6" width="11" height="9" fill="#ee602a" fill-opacity="1" rx="2"/>
</g>
<g transform="rotate(-9 679.6 128.1)">
<rect x="656.6" y="108.1" width="46" height="40" fill="#40206a" fill-opacity="0.75" rx="6"/>
<rect x="663.6" y="114.1" width="32" height="28" fill="#62307f" fill-opacity="0.7" rx="4"/>
<rect x="669.1" y="119.1" width="21" height="18" fill="#d2442e" fill-opacity="0.95" rx="3"/>
<rect x="674.1" y="123.6" width="11" height="9" fill="#ee602a" fill-opacity="0.95" rx="2"/>
</g>
<g transform="rotate(-9 514.4 169.8)">
<rect x="491.4" y="149.8" width="46" height="40" fill="#40206a" fill-opacity="0.75" rx="6"/>
<rect x="498.4" y="155.8" width="32" height="28" fill="#62307f" fill-opacity="0.7" rx="4"/>
<rect x="503.9" y="160.8" width="21" height="18" fill="#d2442e" fill-opacity="0.75" rx="3"/>
<rect x="508.9" y="165.3" width="11" height="9" fill="#ee602a" fill-opacity="0.75" rx="2"/>
</g>
<g transform="rotate(-9 568.5 169.8)">
<rect x="545.5" y="149.8" width="46" height="40" fill="#40206a" fill-opacity="0.75" rx="6"/>
<rect x="552.5" y="155.8" width="32" height="28" fill="#62307f" fill-opacity="0.7" rx="4"/>
<rect x="558" y="160.8" width="21" height="18" fill="#d2442e" fill-opacity="0.75" rx="3"/>
<rect x="563" y="165.3" width="11" height="9" fill="#ee602a" fill-opacity="0.75" rx="2"/>
</g>
<g transform="rotate(-9 624.8 169.8)">
<rect x="601.8" y="149.8" width="46" height="40" fill="#40206a" fill-opacity="0.75" rx="6"/>
<rect x="608.8" y="155.8" width="32" height="28" fill="#62307f" fill-opacity="0.7" rx="4"/>
<rect x="614.3" y="160.8" width="21" height="18" fill="#d2442e" fill-opacity="0.8" rx="3"/>
<rect x="619.3" y="165.3" width="11" height="9" fill="#ee602a" fill-opacity="0.8" rx="2"/>
</g>
<g transform="rotate(-9 681.1 169.8)">
<rect x="658.1" y="149.8" width="46" height="40" fill="#40206a" fill-opacity="0.75" rx="6"/>
<rect x="665.1" y="155.8" width="32" height="28" fill="#62307f" fill-opacity="0.7" rx="4"/>
<rect x="670.6" y="160.8" width="21" height="18" fill="#d2442e" fill-opacity="0.65" rx="3"/>
<rect x="675.6" y="165.3" width="11" height="9" fill="#ee602a" fill-opacity="0.65" rx="2"/>
</g>
</g>
<rect x="598" y="58.3" width="124.5" height="141.3" fill="#a9c2a2" fill-opacity="0.3"/>
<rect x="473.3" y="58.3" width="249.2" height="141.3" fill="none" stroke="#15101c" stroke-width="1.2" stroke-opacity="0.8"/>
<rect x="643.5" y="189.5" width="70.5" height="4.6" fill="#fff"/>
</g>
<text x="580.3" y="112" font-size="13.8" fill="#f0ecf0" textLength="36.5" lengthAdjust="spacingAndGlyphs" stroke="#f0ecf0" stroke-width="0.4">180°</text>
<path d="M588.47 138.07 A14.2 10.8 0 1 1 608.79 123.15" fill="none" stroke="#f0ecf0" stroke-width="1.0"/>
<path d="M612.59 126.22 L606.83 125.5 L610.72 121.04 Z" fill="#f0ecf0"/>
<ellipse cx="597.6" cy="129.8" rx="5" ry="4" fill="#f0ecf0"/><rect x="511.2" y="85.4" width="9.4" height="3.4" fill="#fff6d0"/><rect x="511.2" y="85.4" width="4" height="3.4" fill="#fdd890"/><rect x="564.8" y="86.3" width="3.4" height="2.6" fill="#fdc070"/>
<clipPath id="avc2"><rect x="473.3" y="238.75" width="249.2" height="141.25"/></clipPath>
<filter id="avb2" x="-5%" y="-5%" width="110%" height="110%"><feGaussianBlur stdDeviation="2.2"/></filter>
<g clip-path="url(#avc2)">
<rect x="473.3" y="238.75" width="249.2" height="141.25" fill="#1a0a30"/>
<g filter="url(#avb2)">
<rect x="488" y="243" width="228" height="130" fill="#34165a" fill-opacity="0.9" rx="16"/>
<rect x="497" y="251" width="210" height="114" fill="#56226a" fill-opacity="0.85" rx="18"/>
<rect x="493" y="249" width="48" height="39" fill="url(#gCoreO2)" rx="14"/>
<rect x="547.3" y="249" width="48" height="39" fill="url(#gCoreO2)" rx="14"/>
<rect x="601.4" y="249" width="48" height="39" fill="url(#gCoreO2)" rx="14"/>
<rect x="655.6" y="249" width="48" height="39" fill="url(#gCoreO2)" rx="14"/>
<rect x="493" y="288.6" width="48" height="39" fill="url(#gCoreO2)" rx="14"/>
<rect x="547.3" y="288.6" width="48" height="39" fill="url(#gCoreO2)" rx="14"/>
<rect x="601.4" y="288.6" width="48" height="39" fill="url(#gCoreO2)" rx="14"/>
<rect x="655.6" y="288.6" width="48" height="39" fill="url(#gCoreO2)" rx="14"/>
<rect x="493" y="328.2" width="48" height="39" fill="url(#gCoreO2)" rx="14"/>
<rect x="547.3" y="328.2" width="48" height="39" fill="url(#gCoreO2)" rx="14"/>
<rect x="601.4" y="328.2" width="48" height="39" fill="url(#gCoreO2)" rx="14"/>
<rect x="655.6" y="328.2" width="48" height="39" fill="url(#gCoreO2)" rx="14"/>
</g>
<rect x="598" y="238.75" width="124.5" height="141.25" fill="#a9c2a2" fill-opacity="0.3"/>
<rect x="473.3" y="238.75" width="249.2" height="141.25" fill="none" stroke="#15101c" stroke-width="1.2" stroke-opacity="0.8"/>
<rect x="643.5" y="369.9" width="70.5" height="4.6" fill="#fff"/>
</g>
<text x="580.3" y="292" font-size="13.8" fill="#f0ecf0" textLength="36.5" lengthAdjust="spacingAndGlyphs" stroke="#f0ecf0" stroke-width="0.4">180°</text>
<path d="M588.47 318.07 A14.2 10.8 0 1 1 608.79 303.15" fill="none" stroke="#f0ecf0" stroke-width="1.0"/>
<path d="M612.59 306.22 L606.83 305.5 L610.72 301.04 Z" fill="#f0ecf0"/>
<ellipse cx="597.6" cy="309.8" rx="5" ry="4" fill="#f0ecf0"/><rect x="516" y="342.5" width="11" height="2.6" fill="#fff6d0"/><rect x="509" y="346" width="7" height="2.8" fill="#fff6d0"/><rect x="622" y="309" width="9" height="2.6" fill="#fde9a0"/><rect x="678.5" y="349" width="4.5" height="2.6" fill="#fdf0a0"/>
<clipPath id="avc3"><rect x="473.3" y="400" width="249.2" height="140.4"/></clipPath>
<filter id="avb3" x="-5%" y="-5%" width="110%" height="110%"><feGaussianBlur stdDeviation="1.8"/></filter>
<g clip-path="url(#avc3)">
<rect x="473.3" y="400" width="249.2" height="140.4" fill="#1c0c30"/>
<g filter="url(#avb3)">
<rect x="478" y="403" width="236" height="134" fill="#3e1a5e" fill-opacity="0.95" rx="18"/>
<polygon points="485,404 700,404 716,440 716,520 690,538 500,538 476,520 476,420" fill="#642668" fill-opacity="0.95"/>
<ellipse cx="496.3" cy="418" rx="23" ry="17.8" fill="url(#gSpot3)"/>
<ellipse cx="553.5" cy="418" rx="23" ry="17.8" fill="url(#gSpot3)"/>
<ellipse cx="610.8" cy="418" rx="23" ry="17.8" fill="url(#gSpot3)"/>
<ellipse cx="667" cy="418" rx="23" ry="17.8" fill="url(#gSpot3)"/>
<ellipse cx="525.4" cy="439" rx="23" ry="17.8" fill="url(#gSpot3)"/>
<ellipse cx="582.7" cy="439" rx="23" ry="17.8" fill="url(#gSpot3)"/>
<ellipse cx="639" cy="439" rx="23" ry="17.8" fill="url(#gSpot3)"/>
<ellipse cx="697.3" cy="439" rx="23" ry="17.8" fill="url(#gSpot3)"/>
<ellipse cx="496.3" cy="461.9" rx="23" ry="17.8" fill="url(#gSpot3)"/>
<ellipse cx="553.5" cy="461.9" rx="23" ry="17.8" fill="url(#gSpot3)"/>
<ellipse cx="610.8" cy="461.9" rx="23" ry="17.8" fill="url(#gSpot3)"/>
<ellipse cx="667" cy="461.9" rx="23" ry="17.8" fill="url(#gSpot3)"/>
<ellipse cx="525.4" cy="482.7" rx="23" ry="17.8" fill="url(#gSpot3)"/>
<ellipse cx="582.7" cy="482.7" rx="23" ry="17.8" fill="url(#gSpot3)"/>
<ellipse cx="639" cy="482.7" rx="23" ry="17.8" fill="url(#gSpot3)"/>
<ellipse cx="697.3" cy="482.7" rx="23" ry="17.8" fill="url(#gSpot3)"/>
<ellipse cx="496.3" cy="504.6" rx="23" ry="17.8" fill="url(#gSpot3)"/>
<ellipse cx="553.5" cy="504.6" rx="23" ry="17.8" fill="url(#gSpot3)"/>
<ellipse cx="610.8" cy="504.6" rx="23" ry="17.8" fill="url(#gSpot3)"/>
<ellipse cx="667" cy="504.6" rx="23" ry="17.8" fill="url(#gSpot3)"/>
<ellipse cx="525.4" cy="525.4" rx="23" ry="17.8" fill="url(#gSpot3)"/>
<ellipse cx="582.7" cy="525.4" rx="23" ry="17.8" fill="url(#gSpot3)"/>
<ellipse cx="639" cy="525.4" rx="23" ry="17.8" fill="url(#gSpot3)"/>
<ellipse cx="697.3" cy="525.4" rx="23" ry="17.8" fill="url(#gSpot3)"/>
</g>
<rect x="598" y="400" width="124.5" height="140.4" fill="#a9c2a2" fill-opacity="0.3"/>
<rect x="473.3" y="400" width="249.2" height="140.4" fill="none" stroke="#15101c" stroke-width="1.2" stroke-opacity="0.8"/>
<rect x="643.5" y="530.3" width="70.5" height="4.6" fill="#fff"/>
</g>
<text x="580.3" y="452.6" font-size="13.8" fill="#f0ecf0" textLength="36.5" lengthAdjust="spacingAndGlyphs" stroke="#f0ecf0" stroke-width="0.4">180°</text>
<path d="M588.47 479.07 A14.2 10.8 0 1 1 608.79 464.15" fill="none" stroke="#f0ecf0" stroke-width="1.0"/>
<path d="M612.59 467.22 L606.83 466.5 L610.72 462.04 Z" fill="#f0ecf0"/>
<ellipse cx="597.6" cy="470.8" rx="5" ry="4" fill="#f0ecf0"/>
<clipPath id="avc4"><rect x="473.3" y="560.4" width="249.2" height="140.6"/></clipPath>
<filter id="avb4" x="-5%" y="-5%" width="110%" height="110%"><feGaussianBlur stdDeviation="2.2"/></filter>
<g clip-path="url(#avc4)">
<rect x="473.3" y="560.4" width="249.2" height="140.6" fill="#2a123e"/>
<g filter="url(#avb4)">
<rect x="478" y="563" width="240" height="135" fill="#5a2a78" rx="6"/>
<rect x="482" y="566" width="232" height="130" fill="#b8483c" rx="8"/>
<rect x="486" y="569" width="225" height="124" fill="#ee7220" rx="10"/>
<ellipse cx="496.25" cy="577.08" rx="14" ry="10.5" fill="url(#gSpot4)"/>
<ellipse cx="525.42" cy="577.08" rx="14" ry="10.5" fill="url(#gSpot4b)"/>
<ellipse cx="554.58" cy="577.08" rx="14" ry="10.5" fill="url(#gSpot4b)"/>
<ellipse cx="582.71" cy="577.08" rx="14" ry="10.5" fill="url(#gSpot4)"/>
<ellipse cx="610.83" cy="577.08" rx="14" ry="10.5" fill="url(#gSpot4)"/>
<ellipse cx="638.96" cy="577.08" rx="14" ry="10.5" fill="url(#gSpot4)"/>
<ellipse cx="667.08" cy="577.08" rx="14" ry="10.5" fill="url(#gSpot4)"/>
<ellipse cx="696.25" cy="577.08" rx="14" ry="10.5" fill="url(#gSpot4)"/>
<ellipse cx="496.25" cy="598.96" rx="14" ry="10.5" fill="url(#gSpot4)"/>
<ellipse cx="525.42" cy="598.96" rx="14" ry="10.5" fill="url(#gSpot4b)"/>
<ellipse cx="554.58" cy="598.96" rx="14" ry="10.5" fill="url(#gSpot4b)"/>
<ellipse cx="582.71" cy="598.96" rx="14" ry="10.5" fill="url(#gSpot4b)"/>
<ellipse cx="610.83" cy="598.96" rx="14" ry="10.5" fill="url(#gSpot4)"/>
<ellipse cx="638.96" cy="598.96" rx="14" ry="10.5" fill="url(#gSpot4)"/>
<ellipse cx="667.08" cy="598.96" rx="14" ry="10.5" fill="url(#gSpot4)"/>
<ellipse cx="696.25" cy="598.96" rx="14" ry="10.5" fill="url(#gSpot4)"/>
<ellipse cx="496.25" cy="620.83" rx="14" ry="10.5" fill="url(#gSpot4)"/>
<ellipse cx="525.42" cy="620.83" rx="14" ry="10.5" fill="url(#gSpot4b)"/>
<ellipse cx="554.58" cy="620.83" rx="14" ry="10.5" fill="url(#gSpot4b)"/>
<ellipse cx="582.71" cy="620.83" rx="14" ry="10.5" fill="url(#gSpot4b)"/>
<ellipse cx="610.83" cy="620.83" rx="14" ry="10.5" fill="url(#gSpot4)"/>
<ellipse cx="638.96" cy="620.83" rx="14" ry="10.5" fill="url(#gSpot4)"/>
<ellipse cx="667.08" cy="620.83" rx="14" ry="10.5" fill="url(#gSpot4)"/>
<ellipse cx="696.25" cy="620.83" rx="14" ry="10.5" fill="url(#gSpot4)"/>
<ellipse cx="496.25" cy="641.67" rx="14" ry="10.5" fill="url(#gSpot4)"/>
<ellipse cx="525.42" cy="641.67" rx="14" ry="10.5" fill="url(#gSpot4b)"/>
<ellipse cx="554.58" cy="641.67" rx="14" ry="10.5" fill="url(#gSpot4b)"/>
<ellipse cx="582.71" cy="641.67" rx="14" ry="10.5" fill="url(#gSpot4b)"/>
<ellipse cx="610.83" cy="641.67" rx="14" ry="10.5" fill="url(#gSpot4)"/>
<ellipse cx="638.96" cy="641.67" rx="14" ry="10.5" fill="url(#gSpot4)"/>
<ellipse cx="667.08" cy="641.67" rx="14" ry="10.5" fill="url(#gSpot4)"/>
<ellipse cx="696.25" cy="641.67" rx="14" ry="10.5" fill="url(#gSpot4)"/>
<ellipse cx="496.25" cy="663.54" rx="14" ry="10.5" fill="url(#gSpot4)"/>
<ellipse cx="525.42" cy="663.54" rx="14" ry="10.5" fill="url(#gSpot4)"/>
<ellipse cx="554.58" cy="663.54" rx="14" ry="10.5" fill="url(#gSpot4b)"/>
<ellipse cx="582.71" cy="663.54" rx="14" ry="10.5" fill="url(#gSpot4)"/>
<ellipse cx="610.83" cy="663.54" rx="14" ry="10.5" fill="url(#gSpot4)"/>
<ellipse cx="638.96" cy="663.54" rx="14" ry="10.5" fill="url(#gSpot4)"/>
<ellipse cx="667.08" cy="663.54" rx="14" ry="10.5" fill="url(#gSpot4)"/>
<ellipse cx="696.25" cy="663.54" rx="14" ry="10.5" fill="url(#gSpot4)"/>
<ellipse cx="496.25" cy="684.38" rx="14" ry="10.5" fill="url(#gSpot4)"/>
<ellipse cx="525.42" cy="684.38" rx="14" ry="10.5" fill="url(#gSpot4)"/>
<ellipse cx="554.58" cy="684.38" rx="14" ry="10.5" fill="url(#gSpot4)"/>
<ellipse cx="582.71" cy="684.38" rx="14" ry="10.5" fill="url(#gSpot4)"/>
<ellipse cx="610.83" cy="684.38" rx="14" ry="10.5" fill="url(#gSpot4)"/>
<ellipse cx="638.96" cy="684.38" rx="14" ry="10.5" fill="url(#gSpot4)"/>
<ellipse cx="667.08" cy="684.38" rx="14" ry="10.5" fill="url(#gSpot4)"/>
<ellipse cx="696.25" cy="684.38" rx="14" ry="10.5" fill="url(#gSpot4)"/>
</g>
<rect x="598" y="560.4" width="124.5" height="140.6" fill="#a9c2a2" fill-opacity="0.33"/>
<rect x="473.3" y="560.4" width="249.2" height="140.6" fill="none" stroke="#15101c" stroke-width="1.2" stroke-opacity="0.8"/>
<rect x="643.5" y="690.9" width="70.5" height="4.6" fill="#fff"/>
</g>
<text x="580.3" y="613.6" font-size="13.8" fill="#f0ecf0" textLength="36.5" lengthAdjust="spacingAndGlyphs" stroke="#f0ecf0" stroke-width="0.4">180°</text>
<path d="M588.47 639.57 A14.2 10.8 0 1 1 608.79 624.65" fill="none" stroke="#f0ecf0" stroke-width="1.0"/>
<path d="M612.59 627.72 L606.83 627 L610.72 622.54 Z" fill="#f0ecf0"/>
<ellipse cx="597.6" cy="631.3" rx="5" ry="4" fill="#f0ecf0"/>
<defs>
<radialGradient id="sB"><stop offset="0" stop-color="#fffbe0"/><stop offset="0.3" stop-color="#fdd28a"/><stop offset="0.55" stop-color="#f4845c" stop-opacity="0.95"/><stop offset="0.8" stop-color="#c0407a" stop-opacity="0.6"/><stop offset="1" stop-color="#7a2a80" stop-opacity="0"/></radialGradient>
<radialGradient id="sM"><stop offset="0" stop-color="#fdc08a"/><stop offset="0.35" stop-color="#f27a60" stop-opacity="0.95"/><stop offset="0.7" stop-color="#b83a7a" stop-opacity="0.6"/><stop offset="1" stop-color="#6a2a80" stop-opacity="0"/></radialGradient>
<radialGradient id="sD"><stop offset="0" stop-color="#e0607a" stop-opacity="0.9"/><stop offset="0.6" stop-color="#a0387e" stop-opacity="0.5"/><stop offset="1" stop-color="#5a2a80" stop-opacity="0"/></radialGradient>
<radialGradient id="hz"><stop offset="0" stop-color="#3a2c7c" stop-opacity="0.85"/><stop offset="1" stop-color="#1a1040" stop-opacity="0"/></radialGradient>
<radialGradient id="sW"><stop offset="0" stop-color="#fffdf0"/><stop offset="0.35" stop-color="#fde0b8"/><stop offset="0.6" stop-color="#f08a88" stop-opacity="0.95"/><stop offset="0.82" stop-color="#b03a84" stop-opacity="0.55"/><stop offset="1" stop-color="#5a2280" stop-opacity="0"/></radialGradient>
<radialGradient id="sP"><stop offset="0" stop-color="#f8a090"/><stop offset="0.4" stop-color="#e0607e" stop-opacity="0.95"/><stop offset="0.75" stop-color="#a0367e" stop-opacity="0.55"/><stop offset="1" stop-color="#5a2280" stop-opacity="0"/></radialGradient>
<filter id="smb12" x="-10%" y="-10%" width="120%" height="120%"><feGaussianBlur stdDeviation="0.85"/></filter>
<filter id="smb24" x="-10%" y="-10%" width="120%" height="120%"><feGaussianBlur stdDeviation="0.5"/></filter>
<filter id="smb48" x="-10%" y="-10%" width="120%" height="120%"><feGaussianBlur stdDeviation="0.7"/></filter>
</defs>
<clipPath id="sc00"><rect x="270" y="58.75" width="92.3" height="68.45"/></clipPath>
<g clip-path="url(#sc00)">
<rect x="270" y="58.75" width="92.3" height="68.45" fill="#030208"/>
<g filter="url(#smb12)">
<ellipse cx="285.19" cy="99.24" rx="17.61" ry="13.55" fill="url(#hz)" opacity="0.75"/>
<ellipse cx="285.61" cy="97.21" rx="14.98" ry="11.52" fill="url(#hz)" opacity="0.75"/>
<ellipse cx="329.16" cy="112.95" rx="15.31" ry="11.78" fill="url(#hz)" opacity="0.75"/>
<ellipse cx="322.5" cy="77.13" rx="12.77" ry="9.82" fill="url(#hz)" opacity="0.75"/>
<ellipse cx="348.75" cy="107" rx="15.81" ry="12.16" fill="url(#hz)" opacity="0.75"/>
<ellipse cx="357.16" cy="100.16" rx="17.93" ry="13.79" fill="url(#hz)" opacity="0.75"/>
<ellipse cx="297.2" cy="72.66" rx="11.63" ry="8.94" fill="url(#hz)" opacity="0.75"/>
<ellipse cx="348.43" cy="94.56" rx="10.86" ry="8.36" fill="url(#hz)" opacity="0.75"/>
<ellipse cx="325.95" cy="109.33" rx="10.63" ry="8.18" fill="url(#hz)" opacity="0.75"/>
<polygon points="289.9,75.2 330.3,69.2 342.8,109 303,116.3" fill="#5c2274" fill-opacity="0.9"/>
<ellipse cx="298.1" cy="80.09" rx="5.98" ry="4.67" fill="url(#sP)"/>
<ellipse cx="312.1" cy="77.24" rx="6.55" ry="5.11" fill="url(#sD)"/>
<ellipse cx="324.38" cy="75.74" rx="5.74" ry="4.47" fill="url(#sM)"/>
<ellipse cx="301.48" cy="90.13" rx="6.56" ry="5.11" fill="url(#sM)"/>
<ellipse cx="314.46" cy="87.93" rx="5.31" ry="4.14" fill="url(#sP)"/>
<ellipse cx="328.01" cy="84.78" rx="6.76" ry="5.27" fill="url(#sM)"/>
<ellipse cx="304.5" cy="99.17" rx="6.46" ry="5.04" fill="url(#sP)"/>
<ellipse cx="318.49" cy="96.96" rx="6.73" ry="5.25" fill="url(#sM)"/>
<ellipse cx="330.58" cy="95.52" rx="5.46" ry="4.26" fill="url(#sM)"/>
<ellipse cx="307.99" cy="109.37" rx="6.13" ry="4.78" fill="url(#sB)"/>
<ellipse cx="321.47" cy="106.93" rx="5.5" ry="4.29" fill="url(#sP)"/>
<ellipse cx="334.03" cy="105.6" rx="5.62" ry="4.38" fill="url(#sM)"/>
</g>
<polygon points="289.9,75.2 330.3,69.2 342.8,109 303,116.3" fill="none" stroke="#ece6f0" stroke-width="1.6" stroke-linejoin="miter"/>
<rect x="344.7" y="123.9" width="13.4" height="1.7" fill="#e8e4e8"/>
</g>
<clipPath id="sc01"><rect x="367" y="58.75" width="93" height="68.45"/></clipPath>
<g clip-path="url(#sc01)">
<rect x="367" y="58.75" width="93" height="68.45" fill="#030208"/>
<g filter="url(#smb12)">
<ellipse cx="421.28" cy="72.85" rx="17.3" ry="13.31" fill="url(#hz)" opacity="0.75"/>
<ellipse cx="419.46" cy="110.85" rx="17.06" ry="13.13" fill="url(#hz)" opacity="0.75"/>
<ellipse cx="398.14" cy="78.51" rx="18.12" ry="13.94" fill="url(#hz)" opacity="0.75"/>
<ellipse cx="418.33" cy="108.86" rx="16.43" ry="12.64" fill="url(#hz)" opacity="0.75"/>
<ellipse cx="399.52" cy="107.65" rx="10.97" ry="8.44" fill="url(#hz)" opacity="0.75"/>
<ellipse cx="440.43" cy="103.53" rx="12.3" ry="9.46" fill="url(#hz)" opacity="0.75"/>
<ellipse cx="389.34" cy="78.92" rx="13.94" ry="10.72" fill="url(#hz)" opacity="0.75"/>
<ellipse cx="442.42" cy="85.35" rx="14.88" ry="11.45" fill="url(#hz)" opacity="0.75"/>
<ellipse cx="428.69" cy="78.09" rx="11.6" ry="8.92" fill="url(#hz)" opacity="0.75"/>
<polygon points="378.5,84.3 430.6,69.2 446.2,97.3 394.1,112.9" fill="#5c2274" fill-opacity="0.9"/>
<ellipse cx="388.54" cy="87.31" rx="6.71" ry="5.23" fill="url(#sB)"/>
<ellipse cx="392.33" cy="97.16" rx="5.46" ry="4.26" fill="url(#sM)"/>
<ellipse cx="397.83" cy="106.41" rx="6.35" ry="4.95" fill="url(#sM)"/>
<ellipse cx="400.26" cy="83.71" rx="5.74" ry="4.48" fill="url(#sP)"/>
<ellipse cx="406.02" cy="93.24" rx="5.65" ry="4.4" fill="url(#sB)"/>
<ellipse cx="411.74" cy="101.84" rx="5.72" ry="4.46" fill="url(#sP)"/>
<ellipse cx="413.54" cy="79.17" rx="5.71" ry="4.45" fill="url(#sB)"/>
<ellipse cx="418.89" cy="88.59" rx="5.85" ry="4.56" fill="url(#sB)"/>
<ellipse cx="424.69" cy="98.56" rx="6.62" ry="5.16" fill="url(#sM)"/>
<ellipse cx="425.9" cy="75.39" rx="6.17" ry="4.81" fill="url(#sP)"/>
<ellipse cx="431.95" cy="85.8" rx="6.65" ry="5.19" fill="url(#sB)"/>
<ellipse cx="436.75" cy="94.82" rx="6.25" ry="4.87" fill="url(#sB)"/>
</g>
<polygon points="378.5,84.3 430.6,69.2 446.2,97.3 394.1,112.9" fill="none" stroke="#ece6f0" stroke-width="1.6" stroke-linejoin="miter"/>
<rect x="442.4" y="123.9" width="13.4" height="1.7" fill="#e8e4e8"/>
</g>
<clipPath id="sc10"><rect x="270" y="130.6" width="92.3" height="68.8"/></clipPath>
<g clip-path="url(#sc10)">
<rect x="270" y="130.6" width="92.3" height="68.8" fill="#030208"/>
<g filter="url(#smb12)">
<ellipse cx="300.23" cy="190.55" rx="10.99" ry="8.45" fill="url(#hz)" opacity="0.75"/>
<ellipse cx="282.89" cy="155.93" rx="17.42" ry="13.4" fill="url(#hz)" opacity="0.75"/>
<ellipse cx="315.14" cy="138.03" rx="16.59" ry="12.76" fill="url(#hz)" opacity="0.75"/>
<ellipse cx="342.3" cy="153.2" rx="15.74" ry="12.11" fill="url(#hz)" opacity="0.75"/>
<ellipse cx="350.25" cy="146.99" rx="13.65" ry="10.5" fill="url(#hz)" opacity="0.75"/>
<ellipse cx="328" cy="136.35" rx="14.87" ry="11.44" fill="url(#hz)" opacity="0.75"/>
<ellipse cx="297.65" cy="148.93" rx="14.94" ry="11.5" fill="url(#hz)" opacity="0.75"/>
<ellipse cx="300.87" cy="153.43" rx="15.39" ry="11.84" fill="url(#hz)" opacity="0.75"/>
<ellipse cx="357.86" cy="162.15" rx="16.08" ry="12.37" fill="url(#hz)" opacity="0.75"/>
<polygon points="284.7,170.2 318.6,138.2 351.1,155.9 317.8,189" fill="#5c2274" fill-opacity="0.9"/>
<ellipse cx="294.88" cy="169.19" rx="5.35" ry="4.17" fill="url(#sP)"/>
<ellipse cx="305.61" cy="175.51" rx="6.34" ry="4.94" fill="url(#sM)"/>
<ellipse cx="315.73" cy="181.29" rx="5.69" ry="4.43" fill="url(#sD)"/>
<ellipse cx="302.53" cy="161.76" rx="5.61" ry="4.37" fill="url(#sP)"/>
<ellipse cx="314.53" cy="167.13" rx="5.96" ry="4.65" fill="url(#sP)"/>
<ellipse cx="324.64" cy="173.77" rx="5.6" ry="4.37" fill="url(#sP)"/>
<ellipse cx="311.21" cy="153.43" rx="6.61" ry="5.15" fill="url(#sD)"/>
<ellipse cx="322.19" cy="159.72" rx="5.51" ry="4.3" fill="url(#sM)"/>
<ellipse cx="333.71" cy="165.02" rx="6.36" ry="4.96" fill="url(#sP)"/>
<ellipse cx="319.37" cy="145.05" rx="5.97" ry="4.66" fill="url(#sB)"/>
<ellipse cx="330.47" cy="151.06" rx="6.23" ry="4.86" fill="url(#sM)"/>
<ellipse cx="341.16" cy="156.66" rx="6.76" ry="5.27" fill="url(#sP)"/>
</g>
<polygon points="284.7,170.2 318.6,138.2 351.1,155.9 317.8,189" fill="none" stroke="#ece6f0" stroke-width="1.6" stroke-linejoin="miter"/>
<rect x="344.7" y="196.1" width="13.4" height="1.7" fill="#e8e4e8"/>
</g>
<clipPath id="sc11"><rect x="367" y="130.6" width="93" height="68.8"/></clipPath>
<g clip-path="url(#sc11)">
<rect x="367" y="130.6" width="93" height="68.8" fill="#030208"/>
<g filter="url(#smb12)">
<ellipse cx="452.77" cy="171.21" rx="10.72" ry="8.25" fill="url(#hz)" opacity="0.75"/>
<ellipse cx="405.37" cy="143.18" rx="12.81" ry="9.85" fill="url(#hz)" opacity="0.75"/>
<ellipse cx="419.22" cy="151.5" rx="11.46" ry="8.82" fill="url(#hz)" opacity="0.75"/>
<ellipse cx="393.74" cy="169.84" rx="16.87" ry="12.98" fill="url(#hz)" opacity="0.75"/>
<ellipse cx="415.71" cy="182.25" rx="10.77" ry="8.28" fill="url(#hz)" opacity="0.75"/>
<ellipse cx="393.02" cy="150.2" rx="15.31" ry="11.78" fill="url(#hz)" opacity="0.75"/>
<ellipse cx="392.36" cy="143.37" rx="17.88" ry="13.75" fill="url(#hz)" opacity="0.75"/>
<ellipse cx="403.93" cy="149.65" rx="14.11" ry="10.85" fill="url(#hz)" opacity="0.75"/>
<ellipse cx="422.79" cy="178.83" rx="14.08" ry="10.83" fill="url(#hz)" opacity="0.75"/>
<polygon points="387.6,148.1 428.8,142.3 439.7,182.7 399.3,189.7" fill="#5c2274" fill-opacity="0.9"/>
<ellipse cx="395.94" cy="152.85" rx="6.43" ry="5.01" fill="url(#sP)"/>
<ellipse cx="410.36" cy="150.8" rx="5.44" ry="4.24" fill="url(#sD)"/>
<ellipse cx="423.43" cy="149.06" rx="5.98" ry="4.66" fill="url(#sB)"/>
<ellipse cx="399.57" cy="163.06" rx="6.15" ry="4.79" fill="url(#sM)"/>
<ellipse cx="412.7" cy="160.29" rx="5.99" ry="4.67" fill="url(#sD)"/>
<ellipse cx="426.18" cy="158.84" rx="6.52" ry="5.08" fill="url(#sP)"/>
<ellipse cx="402.58" cy="173.49" rx="6.64" ry="5.17" fill="url(#sM)"/>
<ellipse cx="414.96" cy="171.25" rx="6.48" ry="5.05" fill="url(#sP)"/>
<ellipse cx="428.01" cy="168.52" rx="5.82" ry="4.54" fill="url(#sP)"/>
<ellipse cx="404.64" cy="182.56" rx="6.44" ry="5.02" fill="url(#sP)"/>
<ellipse cx="418.51" cy="180.48" rx="5.4" ry="4.21" fill="url(#sP)"/>
<ellipse cx="430.82" cy="178.19" rx="6.47" ry="5.05" fill="url(#sM)"/>
</g>
<polygon points="387.6,148.1 428.8,142.3 439.7,182.7 399.3,189.7" fill="none" stroke="#ece6f0" stroke-width="1.6" stroke-linejoin="miter"/>
<rect x="442.4" y="196.1" width="13.4" height="1.7" fill="#e8e4e8"/>
</g>
<clipPath id="sc20"><rect x="270" y="238.75" width="92.3" height="69.05"/></clipPath>
<g clip-path="url(#sc20)">
<rect x="270" y="238.75" width="92.3" height="69.05" fill="#030208"/>
<g filter="url(#smb12)">
<ellipse cx="280.06" cy="270.74" rx="16.95" ry="13.04" fill="url(#hz)" opacity="1.0"/>
<ellipse cx="300.89" cy="246.34" rx="14.24" ry="10.96" fill="url(#hz)" opacity="1.0"/>
<ellipse cx="337.42" cy="268.46" rx="12.13" ry="9.33" fill="url(#hz)" opacity="1.0"/>
<ellipse cx="289.81" cy="270.24" rx="16.08" ry="12.37" fill="url(#hz)" opacity="1.0"/>
<ellipse cx="295.71" cy="256.12" rx="16.98" ry="13.06" fill="url(#hz)" opacity="1.0"/>
<ellipse cx="290.88" cy="266.31" rx="13.37" ry="10.29" fill="url(#hz)" opacity="1.0"/>
<ellipse cx="338.96" cy="249.9" rx="12.02" ry="9.25" fill="url(#hz)" opacity="1.0"/>
<ellipse cx="340.98" cy="249.61" rx="14.49" ry="11.15" fill="url(#hz)" opacity="1.0"/>
<ellipse cx="293.98" cy="265.64" rx="14.58" ry="11.22" fill="url(#hz)" opacity="1.0"/>
<polygon points="295.2,252.6 337.3,252.6 337.3,294.2 295.2,294.2" fill="#5c2274" fill-opacity="0.9"/>
<ellipse cx="302.34" cy="258.24" rx="6.14" ry="4.79" fill="url(#sP)"/>
<ellipse cx="316.11" cy="258.56" rx="6.1" ry="4.76" fill="url(#sB)"/>
<ellipse cx="330.1" cy="257.56" rx="5.71" ry="4.45" fill="url(#sD)"/>
<ellipse cx="303" cy="268.24" rx="6.51" ry="5.08" fill="url(#sM)"/>
<ellipse cx="316.44" cy="268.78" rx="5.59" ry="4.36" fill="url(#sM)"/>
<ellipse cx="329.38" cy="267.9" rx="6.46" ry="5.04" fill="url(#sB)"/>
<ellipse cx="302.07" cy="278.36" rx="6.32" ry="4.93" fill="url(#sM)"/>
<ellipse cx="316.62" cy="278.08" rx="5.46" ry="4.26" fill="url(#sP)"/>
<ellipse cx="329.66" cy="278.57" rx="5.68" ry="4.43" fill="url(#sP)"/>
<ellipse cx="302.22" cy="288.83" rx="5.86" ry="4.57" fill="url(#sM)"/>
<ellipse cx="316.46" cy="288.96" rx="5.61" ry="4.37" fill="url(#sB)"/>
<ellipse cx="330.32" cy="289.22" rx="6.57" ry="5.12" fill="url(#sP)"/>
</g>
<polygon points="295.2,252.6 337.3,252.6 337.3,294.2 295.2,294.2" fill="none" stroke="#ece6f0" stroke-width="1.6" stroke-linejoin="miter"/>
<rect x="344.7" y="304.5" width="13.4" height="1.7" fill="#e8e4e8"/>
</g>
<clipPath id="sc21"><rect x="367" y="238.75" width="93" height="69.05"/></clipPath>
<g clip-path="url(#sc21)">
<rect x="367" y="238.75" width="93" height="69.05" fill="#030208"/>
<g filter="url(#smb12)">
<ellipse cx="422.35" cy="299.45" rx="16.72" ry="12.86" fill="url(#hz)" opacity="1.0"/>
<ellipse cx="440.77" cy="262.55" rx="12.86" ry="9.89" fill="url(#hz)" opacity="1.0"/>
<ellipse cx="440.66" cy="265.35" rx="18.19" ry="13.99" fill="url(#hz)" opacity="1.0"/>
<ellipse cx="436.12" cy="262.94" rx="12.27" ry="9.44" fill="url(#hz)" opacity="1.0"/>
<ellipse cx="414.52" cy="255.4" rx="11.16" ry="8.58" fill="url(#hz)" opacity="1.0"/>
<ellipse cx="433.02" cy="255.41" rx="16.56" ry="12.74" fill="url(#hz)" opacity="1.0"/>
<ellipse cx="438.94" cy="288.37" rx="15.74" ry="12.11" fill="url(#hz)" opacity="1.0"/>
<ellipse cx="443.04" cy="275.6" rx="15.72" ry="12.09" fill="url(#hz)" opacity="1.0"/>
<ellipse cx="453.84" cy="258.06" rx="11.3" ry="8.69" fill="url(#hz)" opacity="1.0"/>
<polygon points="389.7,258.3 447,258.3 447,289 389.7,289" fill="#5c2274" fill-opacity="0.9"/>
<ellipse cx="397.23" cy="263.54" rx="5.37" ry="4.18" fill="url(#sB)"/>
<ellipse cx="396.64" cy="273.29" rx="5.53" ry="4.31" fill="url(#sP)"/>
<ellipse cx="397.83" cy="283.3" rx="6.77" ry="5.28" fill="url(#sP)"/>
<ellipse cx="411.22" cy="263.84" rx="6.71" ry="5.23" fill="url(#sB)"/>
<ellipse cx="411.31" cy="273.57" rx="6" ry="4.68" fill="url(#sM)"/>
<ellipse cx="411.6" cy="284.19" rx="5.33" ry="4.16" fill="url(#sP)"/>
<ellipse cx="425.8" cy="263.41" rx="5.98" ry="4.66" fill="url(#sB)"/>
<ellipse cx="425.44" cy="273.07" rx="5.55" ry="4.33" fill="url(#sB)"/>
<ellipse cx="425.74" cy="284.21" rx="6.49" ry="5.06" fill="url(#sD)"/>
<ellipse cx="439.71" cy="263.52" rx="5.91" ry="4.61" fill="url(#sP)"/>
<ellipse cx="439.16" cy="274.14" rx="6.5" ry="5.07" fill="url(#sD)"/>
<ellipse cx="440.05" cy="283.67" rx="6.46" ry="5.03" fill="url(#sP)"/>
</g>
<polygon points="389.7,258.3 447,258.3 447,289 389.7,289" fill="none" stroke="#ece6f0" stroke-width="1.6" stroke-linejoin="miter"/>
<rect x="442.4" y="304.5" width="13.4" height="1.7" fill="#e8e4e8"/>
</g>
<clipPath id="sc30"><rect x="270" y="311.1" width="92.3" height="69.1"/></clipPath>
<g clip-path="url(#sc30)">
<rect x="270" y="311.1" width="92.3" height="69.1" fill="#030208"/>
<g filter="url(#smb12)">
<ellipse cx="350.14" cy="328.5" rx="15.82" ry="12.17" fill="url(#hz)" opacity="1.0"/>
<ellipse cx="322.47" cy="319.34" rx="13.56" ry="10.43" fill="url(#hz)" opacity="1.0"/>
<ellipse cx="314.67" cy="330.25" rx="13.07" ry="10.05" fill="url(#hz)" opacity="1.0"/>
<ellipse cx="298.19" cy="348.36" rx="13.17" ry="10.13" fill="url(#hz)" opacity="1.0"/>
<ellipse cx="296.42" cy="327.05" rx="12.21" ry="9.39" fill="url(#hz)" opacity="1.0"/>
<ellipse cx="351.45" cy="337.08" rx="13.03" ry="10.03" fill="url(#hz)" opacity="1.0"/>
<ellipse cx="300.71" cy="325.88" rx="14.56" ry="11.2" fill="url(#hz)" opacity="1.0"/>
<ellipse cx="285.75" cy="364.71" rx="15.41" ry="11.85" fill="url(#hz)" opacity="1.0"/>
<ellipse cx="307.2" cy="320.47" rx="18.04" ry="13.88" fill="url(#hz)" opacity="1.0"/>
<polygon points="304.3,322.3 343.9,328.1 332.9,369 292.6,362.7" fill="#5c2274" fill-opacity="0.9"/>
<ellipse cx="308.88" cy="328.25" rx="5.86" ry="4.57" fill="url(#sB)"/>
<ellipse cx="322.64" cy="331.05" rx="6.12" ry="4.77" fill="url(#sD)"/>
<ellipse cx="335.94" cy="332.79" rx="6.78" ry="5.28" fill="url(#sP)"/>
<ellipse cx="307.08" cy="337.99" rx="6.19" ry="4.83" fill="url(#sB)"/>
<ellipse cx="319.78" cy="340.11" rx="5.55" ry="4.32" fill="url(#sD)"/>
<ellipse cx="332.27" cy="343.02" rx="6.21" ry="4.84" fill="url(#sM)"/>
<ellipse cx="303.97" cy="348.36" rx="6.09" ry="4.75" fill="url(#sM)"/>
<ellipse cx="317.12" cy="350.28" rx="6.28" ry="4.89" fill="url(#sM)"/>
<ellipse cx="329.46" cy="352.25" rx="5.75" ry="4.48" fill="url(#sP)"/>
<ellipse cx="301.36" cy="358.38" rx="5.54" ry="4.32" fill="url(#sB)"/>
<ellipse cx="313.51" cy="361.15" rx="6.41" ry="5" fill="url(#sD)"/>
<ellipse cx="328.14" cy="362.54" rx="5.42" ry="4.22" fill="url(#sD)"/>
</g>
<polygon points="304.3,322.3 343.9,328.1 332.9,369 292.6,362.7" fill="none" stroke="#ece6f0" stroke-width="1.6" stroke-linejoin="miter"/>
<rect x="344.7" y="376.9" width="13.4" height="1.7" fill="#e8e4e8"/>
</g>
<clipPath id="sc31"><rect x="367" y="311.1" width="93" height="69.1"/></clipPath>
<g clip-path="url(#sc31)">
<rect x="367" y="311.1" width="93" height="69.1" fill="#030208"/>
<g filter="url(#smb12)">
<ellipse cx="372.33" cy="349.32" rx="12.3" ry="9.46" fill="url(#hz)" opacity="1.0"/>
<ellipse cx="373.15" cy="340.93" rx="16.04" ry="12.34" fill="url(#hz)" opacity="1.0"/>
<ellipse cx="372.62" cy="351.04" rx="16.77" ry="12.9" fill="url(#hz)" opacity="1.0"/>
<ellipse cx="395.58" cy="335.36" rx="15.27" ry="11.75" fill="url(#hz)" opacity="1.0"/>
<ellipse cx="389.88" cy="350.01" rx="10.81" ry="8.31" fill="url(#hz)" opacity="1.0"/>
<ellipse cx="391.04" cy="342.31" rx="13.85" ry="10.66" fill="url(#hz)" opacity="1.0"/>
<ellipse cx="398.79" cy="326.47" rx="12.44" ry="9.57" fill="url(#hz)" opacity="1.0"/>
<ellipse cx="388.03" cy="334.83" rx="16.47" ry="12.67" fill="url(#hz)" opacity="1.0"/>
<ellipse cx="372.17" cy="339.42" rx="17.83" ry="13.72" fill="url(#hz)" opacity="1.0"/>
<polygon points="379.8,349.4 417,319.7 448,340.6 410.5,371" fill="#5c2274" fill-opacity="0.9"/>
<ellipse cx="390.16" cy="349.27" rx="5.71" ry="4.45" fill="url(#sM)"/>
<ellipse cx="400.41" cy="355.92" rx="6.24" ry="4.87" fill="url(#sP)"/>
<ellipse cx="410.81" cy="363.85" rx="6.76" ry="5.27" fill="url(#sM)"/>
<ellipse cx="398.68" cy="341.75" rx="5.4" ry="4.21" fill="url(#sB)"/>
<ellipse cx="409.29" cy="348.37" rx="5.46" ry="4.26" fill="url(#sP)"/>
<ellipse cx="419.47" cy="356.08" rx="6.31" ry="4.92" fill="url(#sB)"/>
<ellipse cx="407.78" cy="334.3" rx="6.02" ry="4.69" fill="url(#sM)"/>
<ellipse cx="417.75" cy="341.01" rx="6.55" ry="5.1" fill="url(#sP)"/>
<ellipse cx="429.05" cy="348.11" rx="6.23" ry="4.86" fill="url(#sP)"/>
<ellipse cx="417.92" cy="326.97" rx="5.69" ry="4.44" fill="url(#sM)"/>
<ellipse cx="427.37" cy="334.11" rx="6.77" ry="5.28" fill="url(#sP)"/>
<ellipse cx="437.75" cy="340.83" rx="6.67" ry="5.2" fill="url(#sP)"/>
</g>
<polygon points="379.8,349.4 417,319.7 448,340.6 410.5,371" fill="none" stroke="#ece6f0" stroke-width="1.6" stroke-linejoin="miter"/>
<rect x="442.4" y="376.9" width="13.4" height="1.7" fill="#e8e4e8"/>
</g>
<clipPath id="sc40"><rect x="270" y="400" width="92.3" height="68"/></clipPath>
<g clip-path="url(#sc40)">
<rect x="270" y="400" width="92.3" height="68" fill="#030208"/>
<g filter="url(#smb24)">
<ellipse cx="346.96" cy="448.21" rx="11.01" ry="8.47" fill="url(#hz)" opacity="0.3"/>
<ellipse cx="342.87" cy="443.71" rx="14.18" ry="10.91" fill="url(#hz)" opacity="0.3"/>
<ellipse cx="303.7" cy="414.64" rx="16.45" ry="12.65" fill="url(#hz)" opacity="0.3"/>
<ellipse cx="336.67" cy="440.3" rx="15.56" ry="11.97" fill="url(#hz)" opacity="0.3"/>
<ellipse cx="337.99" cy="441.55" rx="16.05" ry="12.35" fill="url(#hz)" opacity="0.3"/>
<ellipse cx="332.89" cy="420.54" rx="1.5" ry="1.2" fill="#34307e" opacity="0.5"/>
<ellipse cx="285.33" cy="425.18" rx="1.5" ry="1.2" fill="#34307e" opacity="0.5"/>
<ellipse cx="335.65" cy="425.72" rx="1.5" ry="1.2" fill="#34307e" opacity="0.5"/>
<ellipse cx="283.13" cy="446.98" rx="1.5" ry="1.2" fill="#34307e" opacity="0.5"/>
<ellipse cx="322.13" cy="459.95" rx="1.5" ry="1.2" fill="#34307e" opacity="0.5"/>
<ellipse cx="354.12" cy="459.63" rx="1.5" ry="1.2" fill="#34307e" opacity="0.5"/>
<ellipse cx="310.8" cy="452.79" rx="1.5" ry="1.2" fill="#34307e" opacity="0.5"/>
<ellipse cx="299.3" cy="422.69" rx="1.5" ry="1.2" fill="#34307e" opacity="0.5"/>
<ellipse cx="307.48" cy="460.95" rx="1.5" ry="1.2" fill="#34307e" opacity="0.5"/>
<ellipse cx="350.21" cy="418.39" rx="1.5" ry="1.2" fill="#34307e" opacity="0.5"/>
<ellipse cx="304.21" cy="425.66" rx="1.5" ry="1.2" fill="#34307e" opacity="0.5"/>
<ellipse cx="304.35" cy="427.53" rx="1.5" ry="1.2" fill="#34307e" opacity="0.5"/>
<ellipse cx="306.45" cy="415.09" rx="1.5" ry="1.2" fill="#34307e" opacity="0.5"/>
<ellipse cx="321.66" cy="452.42" rx="1.5" ry="1.2" fill="#34307e" opacity="0.5"/>
<ellipse cx="319.65" cy="454.86" rx="1.5" ry="1.2" fill="#34307e" opacity="0.5"/>
<ellipse cx="321.57" cy="413.95" rx="1.5" ry="1.2" fill="#34307e" opacity="0.5"/>
<ellipse cx="338.5" cy="457.62" rx="1.5" ry="1.2" fill="#34307e" opacity="0.5"/>
<ellipse cx="297.29" cy="404.38" rx="1.5" ry="1.2" fill="#34307e" opacity="0.5"/>
<ellipse cx="317.5" cy="436.74" rx="1.5" ry="1.2" fill="#34307e" opacity="0.5"/>
<ellipse cx="321.97" cy="462.92" rx="1.5" ry="1.2" fill="#34307e" opacity="0.5"/>
<ellipse cx="329.2" cy="452.87" rx="1.5" ry="1.2" fill="#34307e" opacity="0.5"/>
<ellipse cx="278.53" cy="436.9" rx="1.5" ry="1.2" fill="#34307e" opacity="0.5"/>
<polygon points="279.5,436 319.4,406.8 349.1,428.2 309.5,457.6" fill="#220e3c" fill-opacity="0.9"/>
<ellipse cx="288.33" cy="435.83" rx="4.21" ry="3.37" fill="url(#sP)"/>
<ellipse cx="297.25" cy="429.11" rx="4.3" ry="3.44" fill="url(#sW)"/>
<ellipse cx="305.19" cy="423.32" rx="4.49" ry="3.59" fill="url(#sP)"/>
<ellipse cx="314.52" cy="416.41" rx="4.61" ry="3.68" fill="url(#sP)"/>
<ellipse cx="296.46" cy="436.05" rx="5.08" ry="4.06" fill="url(#sP)"/>
<ellipse cx="306.2" cy="429.54" rx="5.01" ry="4.01" fill="url(#sP)"/>
<ellipse cx="314.71" cy="422.53" rx="5.13" ry="4.1" fill="url(#sD)"/>
<ellipse cx="323.1" cy="415.84" rx="4.95" ry="3.96" fill="url(#sP)"/>
<ellipse cx="297.74" cy="441.78" rx="4.88" ry="3.91" fill="url(#sW)"/>
<ellipse cx="305.35" cy="435.12" rx="4.28" ry="3.42" fill="url(#sW)"/>
<ellipse cx="313.96" cy="428.31" rx="4.12" ry="3.29" fill="url(#sD)"/>
<ellipse cx="322.54" cy="421.7" rx="4.92" ry="3.94" fill="url(#sP)"/>
<ellipse cx="306.42" cy="441.17" rx="4.71" ry="3.77" fill="url(#sW)"/>
<ellipse cx="313.75" cy="434.95" rx="4.26" ry="3.41" fill="url(#sW)"/>
<ellipse cx="322.62" cy="428.34" rx="4.72" ry="3.78" fill="url(#sP)"/>
<ellipse cx="332.64" cy="422.01" rx="4.24" ry="3.4" fill="url(#sW)"/>
<ellipse cx="305.48" cy="447.98" rx="4.97" ry="3.98" fill="url(#sP)"/>
<ellipse cx="314.02" cy="441.9" rx="5.08" ry="4.06" fill="url(#sD)"/>
<ellipse cx="322.6" cy="434.57" rx="4.59" ry="3.67" fill="url(#sD)"/>
<ellipse cx="331.8" cy="428.79" rx="4.95" ry="3.96" fill="url(#sD)"/>
<ellipse cx="315.46" cy="448.54" rx="4.36" ry="3.49" fill="url(#sW)"/>
<ellipse cx="323.15" cy="441.54" rx="4.06" ry="3.25" fill="url(#sW)"/>
<ellipse cx="332.28" cy="434.65" rx="4.85" ry="3.88" fill="url(#sP)"/>
<ellipse cx="340.35" cy="429.24" rx="4.41" ry="3.53" fill="url(#sW)"/>
</g>
<polygon points="279.5,436 319.4,406.8 349.1,428.2 309.5,457.6" fill="none" stroke="#ece6f0" stroke-width="1.6" stroke-linejoin="miter"/>
<rect x="348.7" y="464.7" width="13.4" height="1.7" fill="#e8e4e8"/>
</g>
<clipPath id="sc41"><rect x="367" y="400" width="93" height="68"/></clipPath>
<g clip-path="url(#sc41)">
<rect x="367" y="400" width="93" height="68" fill="#030208"/>
<g filter="url(#smb24)">
<ellipse cx="371" cy="429.16" rx="18.15" ry="13.96" fill="url(#hz)" opacity="0.3"/>
<ellipse cx="401.96" cy="454.24" rx="11.58" ry="8.9" fill="url(#hz)" opacity="0.3"/>
<ellipse cx="407.91" cy="417.32" rx="16.81" ry="12.93" fill="url(#hz)" opacity="0.3"/>
<ellipse cx="427.21" cy="409.22" rx="11.04" ry="8.49" fill="url(#hz)" opacity="0.3"/>
<ellipse cx="400.78" cy="457" rx="11.16" ry="8.58" fill="url(#hz)" opacity="0.3"/>
<ellipse cx="411.77" cy="432.06" rx="1.5" ry="1.2" fill="#34307e" opacity="0.5"/>
<ellipse cx="453.13" cy="439.37" rx="1.5" ry="1.2" fill="#34307e" opacity="0.5"/>
<ellipse cx="444.59" cy="421.82" rx="1.5" ry="1.2" fill="#34307e" opacity="0.5"/>
<ellipse cx="438.67" cy="428.85" rx="1.5" ry="1.2" fill="#34307e" opacity="0.5"/>
<ellipse cx="449.76" cy="408.64" rx="1.5" ry="1.2" fill="#34307e" opacity="0.5"/>
<ellipse cx="441.89" cy="415.92" rx="1.5" ry="1.2" fill="#34307e" opacity="0.5"/>
<ellipse cx="417.27" cy="435.59" rx="1.5" ry="1.2" fill="#34307e" opacity="0.5"/>
<ellipse cx="383.71" cy="454.58" rx="1.5" ry="1.2" fill="#34307e" opacity="0.5"/>
<ellipse cx="397.09" cy="422.27" rx="1.5" ry="1.2" fill="#34307e" opacity="0.5"/>
<ellipse cx="376.61" cy="421.95" rx="1.5" ry="1.2" fill="#34307e" opacity="0.5"/>
<ellipse cx="410.65" cy="447.34" rx="1.5" ry="1.2" fill="#34307e" opacity="0.5"/>
<ellipse cx="401.29" cy="445.6" rx="1.5" ry="1.2" fill="#34307e" opacity="0.5"/>
<ellipse cx="379.2" cy="427.44" rx="1.5" ry="1.2" fill="#34307e" opacity="0.5"/>
<ellipse cx="410.17" cy="462.95" rx="1.5" ry="1.2" fill="#34307e" opacity="0.5"/>
<ellipse cx="442.19" cy="443.54" rx="1.5" ry="1.2" fill="#34307e" opacity="0.5"/>
<ellipse cx="371.07" cy="426.38" rx="1.5" ry="1.2" fill="#34307e" opacity="0.5"/>
<ellipse cx="431.77" cy="417.72" rx="1.5" ry="1.2" fill="#34307e" opacity="0.5"/>
<ellipse cx="419.08" cy="431.4" rx="1.5" ry="1.2" fill="#34307e" opacity="0.5"/>
<ellipse cx="370.91" cy="464.48" rx="1.5" ry="1.2" fill="#34307e" opacity="0.5"/>
<ellipse cx="439.55" cy="415.82" rx="1.5" ry="1.2" fill="#34307e" opacity="0.5"/>
<ellipse cx="423.6" cy="421" rx="1.5" ry="1.2" fill="#34307e" opacity="0.5"/>
<ellipse cx="402.71" cy="436.47" rx="1.5" ry="1.2" fill="#34307e" opacity="0.5"/>
<polygon points="372.5,439.9 403.2,406 438.4,423 407.1,457.6" fill="#220e3c" fill-opacity="0.9"/>
<ellipse cx="381.36" cy="438.56" rx="4.42" ry="3.54" fill="url(#sP)"/>
<ellipse cx="387.96" cy="430.23" rx="4.42" ry="3.54" fill="url(#sP)"/>
<ellipse cx="394.49" cy="423.64" rx="4.16" ry="3.32" fill="url(#sW)"/>
<ellipse cx="401.7" cy="415.88" rx="4.5" ry="3.6" fill="url(#sW)"/>
<ellipse cx="388.2" cy="436.67" rx="4.3" ry="3.44" fill="url(#sW)"/>
<ellipse cx="396.76" cy="429.56" rx="4.13" ry="3.31" fill="url(#sW)"/>
<ellipse cx="403.3" cy="422.59" rx="4.78" ry="3.82" fill="url(#sW)"/>
<ellipse cx="409.4" cy="413.7" rx="4.42" ry="3.54" fill="url(#sW)"/>
<ellipse cx="391.71" cy="444.14" rx="4.84" ry="3.87" fill="url(#sW)"/>
<ellipse cx="396.48" cy="435.79" rx="4.73" ry="3.79" fill="url(#sP)"/>
<ellipse cx="403.58" cy="428.24" rx="4.78" ry="3.83" fill="url(#sW)"/>
<ellipse cx="412.06" cy="420.99" rx="4.94" ry="3.95" fill="url(#sW)"/>
<ellipse cx="400.12" cy="442.54" rx="4.91" ry="3.93" fill="url(#sW)"/>
<ellipse cx="405.36" cy="435.16" rx="4.61" ry="3.69" fill="url(#sW)"/>
<ellipse cx="413.55" cy="427.71" rx="4.63" ry="3.7" fill="url(#sD)"/>
<ellipse cx="420.27" cy="419.05" rx="5.11" ry="4.09" fill="url(#sW)"/>
<ellipse cx="401.07" cy="449.21" rx="4.33" ry="3.46" fill="url(#sW)"/>
<ellipse cx="407.54" cy="441.17" rx="5.1" ry="4.08" fill="url(#sW)"/>
<ellipse cx="413.98" cy="434.21" rx="5.15" ry="4.12" fill="url(#sW)"/>
<ellipse cx="421.85" cy="425.52" rx="4.68" ry="3.74" fill="url(#sP)"/>
<ellipse cx="410.21" cy="447.82" rx="5.17" ry="4.13" fill="url(#sD)"/>
<ellipse cx="416.01" cy="440.6" rx="4.98" ry="3.98" fill="url(#sW)"/>
<ellipse cx="424.16" cy="431.77" rx="4.7" ry="3.76" fill="url(#sW)"/>
<ellipse cx="429.36" cy="424.07" rx="4.14" ry="3.31" fill="url(#sP)"/>
</g>
<polygon points="372.5,439.9 403.2,406 438.4,423 407.1,457.6" fill="none" stroke="#ece6f0" stroke-width="1.6" stroke-linejoin="miter"/>
<rect x="446.4" y="464.7" width="13.4" height="1.7" fill="#e8e4e8"/>
</g>
<clipPath id="sc50"><rect x="270" y="472" width="92.3" height="68.7"/></clipPath>
<g clip-path="url(#sc50)">
<rect x="270" y="472" width="92.3" height="68.7" fill="#030208"/>
<g filter="url(#smb24)">
<ellipse cx="354.67" cy="502.93" rx="15.54" ry="11.95" fill="url(#hz)" opacity="0.3"/>
<ellipse cx="301.16" cy="528.56" rx="16.15" ry="12.43" fill="url(#hz)" opacity="0.3"/>
<ellipse cx="289.01" cy="521.3" rx="16.67" ry="12.82" fill="url(#hz)" opacity="0.3"/>
<ellipse cx="338.33" cy="507.1" rx="14.05" ry="10.81" fill="url(#hz)" opacity="0.3"/>
<ellipse cx="331.67" cy="521.28" rx="14.84" ry="11.42" fill="url(#hz)" opacity="0.3"/>
<ellipse cx="287.99" cy="507.59" rx="1.5" ry="1.2" fill="#34307e" opacity="0.5"/>
<ellipse cx="295.75" cy="510.62" rx="1.5" ry="1.2" fill="#34307e" opacity="0.5"/>
<ellipse cx="301.66" cy="515.23" rx="1.5" ry="1.2" fill="#34307e" opacity="0.5"/>
<ellipse cx="276.27" cy="517.07" rx="1.5" ry="1.2" fill="#34307e" opacity="0.5"/>
<ellipse cx="285.49" cy="535.15" rx="1.5" ry="1.2" fill="#34307e" opacity="0.5"/>
<ellipse cx="324.79" cy="504.46" rx="1.5" ry="1.2" fill="#34307e" opacity="0.5"/>
<ellipse cx="308.51" cy="514.11" rx="1.5" ry="1.2" fill="#34307e" opacity="0.5"/>
<ellipse cx="332.49" cy="522.53" rx="1.5" ry="1.2" fill="#34307e" opacity="0.5"/>
<ellipse cx="337.87" cy="505.46" rx="1.5" ry="1.2" fill="#34307e" opacity="0.5"/>
<ellipse cx="358.84" cy="527.56" rx="1.5" ry="1.2" fill="#34307e" opacity="0.5"/>
<ellipse cx="346.79" cy="500.65" rx="1.5" ry="1.2" fill="#34307e" opacity="0.5"/>
<ellipse cx="310.45" cy="510.49" rx="1.5" ry="1.2" fill="#34307e" opacity="0.5"/>
<ellipse cx="351.12" cy="507.98" rx="1.5" ry="1.2" fill="#34307e" opacity="0.5"/>
<ellipse cx="318.31" cy="502.1" rx="1.5" ry="1.2" fill="#34307e" opacity="0.5"/>
<ellipse cx="351.04" cy="495.11" rx="1.5" ry="1.2" fill="#34307e" opacity="0.5"/>
<ellipse cx="277.72" cy="520.49" rx="1.5" ry="1.2" fill="#34307e" opacity="0.5"/>
<ellipse cx="350.68" cy="520.9" rx="1.5" ry="1.2" fill="#34307e" opacity="0.5"/>
<ellipse cx="324.57" cy="522.14" rx="1.5" ry="1.2" fill="#34307e" opacity="0.5"/>
<ellipse cx="299.3" cy="512.21" rx="1.5" ry="1.2" fill="#34307e" opacity="0.5"/>
<ellipse cx="279.02" cy="482.8" rx="1.5" ry="1.2" fill="#34307e" opacity="0.5"/>
<ellipse cx="311.57" cy="506.52" rx="1.5" ry="1.2" fill="#34307e" opacity="0.5"/>
<ellipse cx="307.24" cy="478.26" rx="1.5" ry="1.2" fill="#34307e" opacity="0.5"/>
<polygon points="280.8,496.4 313.9,479.7 346.5,514.1 313.4,531" fill="#220e3c" fill-opacity="0.9"/>
<ellipse cx="289.72" cy="498.3" rx="5.08" ry="4.06" fill="url(#sW)"/>
<ellipse cx="296.63" cy="505.29" rx="4.52" ry="3.62" fill="url(#sP)"/>
<ellipse cx="304.11" cy="512.8" rx="4.69" ry="3.75" fill="url(#sP)"/>
<ellipse cx="310.57" cy="521.87" rx="4.19" ry="3.35" fill="url(#sP)"/>
<ellipse cx="296.78" cy="499.13" rx="4.32" ry="3.46" fill="url(#sW)"/>
<ellipse cx="305.18" cy="506.94" rx="5.06" ry="4.05" fill="url(#sW)"/>
<ellipse cx="310.75" cy="514.05" rx="4.71" ry="3.77" fill="url(#sW)"/>
<ellipse cx="319.01" cy="523.2" rx="4.4" ry="3.52" fill="url(#sD)"/>
<ellipse cx="297.84" cy="492.75" rx="4.58" ry="3.67" fill="url(#sD)"/>
<ellipse cx="305.08" cy="501.31" rx="5.06" ry="4.05" fill="url(#sD)"/>
<ellipse cx="312.3" cy="509.07" rx="4.58" ry="3.67" fill="url(#sW)"/>
<ellipse cx="320.57" cy="515.66" rx="4.28" ry="3.42" fill="url(#sD)"/>
<ellipse cx="306.15" cy="494.81" rx="4.11" ry="3.29" fill="url(#sD)"/>
<ellipse cx="315.1" cy="502.48" rx="5.06" ry="4.05" fill="url(#sW)"/>
<ellipse cx="322.51" cy="509.73" rx="4.83" ry="3.87" fill="url(#sW)"/>
<ellipse cx="328.39" cy="517.84" rx="4.3" ry="3.44" fill="url(#sW)"/>
<ellipse cx="307.7" cy="488.4" rx="4.25" ry="3.4" fill="url(#sW)"/>
<ellipse cx="315.91" cy="496.43" rx="4.47" ry="3.58" fill="url(#sP)"/>
<ellipse cx="322.38" cy="504.17" rx="4.31" ry="3.45" fill="url(#sP)"/>
<ellipse cx="330.39" cy="510.51" rx="4.36" ry="3.49" fill="url(#sP)"/>
<ellipse cx="316.88" cy="489.54" rx="4.55" ry="3.64" fill="url(#sD)"/>
<ellipse cx="323.61" cy="496.77" rx="4.72" ry="3.78" fill="url(#sW)"/>
<ellipse cx="330.87" cy="505.25" rx="4.15" ry="3.32" fill="url(#sP)"/>
<ellipse cx="338.72" cy="512.01" rx="4.36" ry="3.49" fill="url(#sW)"/>
</g>
<polygon points="280.8,496.4 313.9,479.7 346.5,514.1 313.4,531" fill="none" stroke="#ece6f0" stroke-width="1.6" stroke-linejoin="miter"/>
<rect x="344.7" y="537.4" width="13.4" height="1.7" fill="#e8e4e8"/>
</g>
<clipPath id="sc51"><rect x="367" y="472" width="93" height="68.7"/></clipPath>
<g clip-path="url(#sc51)">
<rect x="367" y="472" width="93" height="68.7" fill="#030208"/>
<g filter="url(#smb24)">
<ellipse cx="446.62" cy="488.78" rx="10.66" ry="8.2" fill="url(#hz)" opacity="0.3"/>
<ellipse cx="377.01" cy="512.98" rx="13.4" ry="10.31" fill="url(#hz)" opacity="0.3"/>
<ellipse cx="441.32" cy="497.21" rx="11.8" ry="9.08" fill="url(#hz)" opacity="0.3"/>
<ellipse cx="380.39" cy="498.32" rx="13.21" ry="10.16" fill="url(#hz)" opacity="0.3"/>
<ellipse cx="392.38" cy="484.44" rx="14.43" ry="11.1" fill="url(#hz)" opacity="0.3"/>
<ellipse cx="413.99" cy="528.01" rx="1.5" ry="1.2" fill="#34307e" opacity="0.5"/>
<ellipse cx="429.53" cy="507.64" rx="1.5" ry="1.2" fill="#34307e" opacity="0.5"/>
<ellipse cx="452.78" cy="485.9" rx="1.5" ry="1.2" fill="#34307e" opacity="0.5"/>
<ellipse cx="437.83" cy="485.36" rx="1.5" ry="1.2" fill="#34307e" opacity="0.5"/>
<ellipse cx="422.9" cy="489.76" rx="1.5" ry="1.2" fill="#34307e" opacity="0.5"/>
<ellipse cx="408.32" cy="523.47" rx="1.5" ry="1.2" fill="#34307e" opacity="0.5"/>
<ellipse cx="438.43" cy="524.6" rx="1.5" ry="1.2" fill="#34307e" opacity="0.5"/>
<ellipse cx="390.53" cy="505.67" rx="1.5" ry="1.2" fill="#34307e" opacity="0.5"/>
<ellipse cx="389.25" cy="511.37" rx="1.5" ry="1.2" fill="#34307e" opacity="0.5"/>
<ellipse cx="413.41" cy="477.22" rx="1.5" ry="1.2" fill="#34307e" opacity="0.5"/>
<ellipse cx="421.92" cy="519.81" rx="1.5" ry="1.2" fill="#34307e" opacity="0.5"/>
<ellipse cx="419.82" cy="529.73" rx="1.5" ry="1.2" fill="#34307e" opacity="0.5"/>
<ellipse cx="385.66" cy="484.52" rx="1.5" ry="1.2" fill="#34307e" opacity="0.5"/>
<ellipse cx="371.55" cy="506.11" rx="1.5" ry="1.2" fill="#34307e" opacity="0.5"/>
<ellipse cx="407.81" cy="502.69" rx="1.5" ry="1.2" fill="#34307e" opacity="0.5"/>
<ellipse cx="392.88" cy="525.07" rx="1.5" ry="1.2" fill="#34307e" opacity="0.5"/>
<ellipse cx="376.31" cy="531.89" rx="1.5" ry="1.2" fill="#34307e" opacity="0.5"/>
<ellipse cx="419.49" cy="509.06" rx="1.5" ry="1.2" fill="#34307e" opacity="0.5"/>
<ellipse cx="438.87" cy="489.92" rx="1.5" ry="1.2" fill="#34307e" opacity="0.5"/>
<ellipse cx="382.72" cy="494.5" rx="1.5" ry="1.2" fill="#34307e" opacity="0.5"/>
<ellipse cx="373.68" cy="494.71" rx="1.5" ry="1.2" fill="#34307e" opacity="0.5"/>
<ellipse cx="424.04" cy="507.95" rx="1.5" ry="1.2" fill="#34307e" opacity="0.5"/>
<polygon points="395.4,484.2 437.6,488.1 430.6,529.7 388.1,525" fill="#220e3c" fill-opacity="0.9"/>
<ellipse cx="400.82" cy="489.67" rx="4.83" ry="3.86" fill="url(#sW)"/>
<ellipse cx="398.17" cy="497.87" rx="4.51" ry="3.61" fill="url(#sW)"/>
<ellipse cx="396.83" cy="507.86" rx="4.1" ry="3.28" fill="url(#sD)"/>
<ellipse cx="395.13" cy="516.95" rx="4.21" ry="3.37" fill="url(#sD)"/>
<ellipse cx="406.39" cy="493.79" rx="4.32" ry="3.46" fill="url(#sW)"/>
<ellipse cx="403.76" cy="502.83" rx="4.39" ry="3.51" fill="url(#sW)"/>
<ellipse cx="402.9" cy="513.03" rx="5.17" ry="4.14" fill="url(#sW)"/>
<ellipse cx="400.82" cy="521.38" rx="4.33" ry="3.47" fill="url(#sW)"/>
<ellipse cx="412.29" cy="490.13" rx="5.1" ry="4.08" fill="url(#sW)"/>
<ellipse cx="409.98" cy="499.4" rx="4.74" ry="3.79" fill="url(#sD)"/>
<ellipse cx="409.05" cy="509.04" rx="4.12" ry="3.29" fill="url(#sP)"/>
<ellipse cx="408.64" cy="517.83" rx="4.71" ry="3.77" fill="url(#sP)"/>
<ellipse cx="417.78" cy="496.02" rx="5" ry="4" fill="url(#sW)"/>
<ellipse cx="415.76" cy="504.85" rx="4.44" ry="3.55" fill="url(#sW)"/>
<ellipse cx="414.24" cy="513.91" rx="4.28" ry="3.42" fill="url(#sW)"/>
<ellipse cx="414.36" cy="523.45" rx="4.55" ry="3.64" fill="url(#sW)"/>
<ellipse cx="424.83" cy="490.88" rx="4.28" ry="3.42" fill="url(#sP)"/>
<ellipse cx="423.01" cy="500.02" rx="4.46" ry="3.57" fill="url(#sP)"/>
<ellipse cx="421.7" cy="510.69" rx="4.35" ry="3.48" fill="url(#sW)"/>
<ellipse cx="420.05" cy="518.68" rx="4.35" ry="3.48" fill="url(#sP)"/>
<ellipse cx="431.14" cy="497.14" rx="4.45" ry="3.56" fill="url(#sD)"/>
<ellipse cx="428.6" cy="505.84" rx="4.07" ry="3.26" fill="url(#sD)"/>
<ellipse cx="427.03" cy="515.71" rx="5.04" ry="4.03" fill="url(#sW)"/>
<ellipse cx="425.62" cy="524.11" rx="4.11" ry="3.29" fill="url(#sW)"/>
</g>
<polygon points="395.4,484.2 437.6,488.1 430.6,529.7 388.1,525" fill="none" stroke="#ece6f0" stroke-width="1.6" stroke-linejoin="miter"/>
<rect x="442.4" y="537.4" width="13.4" height="1.7" fill="#e8e4e8"/>
</g>
<clipPath id="sc60"><rect x="270" y="560.3" width="92.3" height="68.2"/></clipPath>
<g clip-path="url(#sc60)">
<rect x="270" y="560.3" width="92.3" height="68.2" fill="#030208"/>
<g filter="url(#smb48)">
<ellipse cx="336.61" cy="594.13" rx="15.04" ry="11.57" fill="url(#hz)" opacity="0.3"/>
<ellipse cx="340.41" cy="593.7" rx="13.71" ry="10.54" fill="url(#hz)" opacity="0.3"/>
<ellipse cx="291.13" cy="585.37" rx="15.91" ry="12.24" fill="url(#hz)" opacity="0.3"/>
<ellipse cx="311.27" cy="615.54" rx="15.6" ry="12" fill="url(#hz)" opacity="0.3"/>
<ellipse cx="328.65" cy="603.92" rx="12.59" ry="9.68" fill="url(#hz)" opacity="0.3"/>
<polygon points="278.8,592.9 299.1,566 348.5,586.9 328.2,613.7" fill="#3c1658" fill-opacity="0.9"/>
<ellipse cx="283.07" cy="591.17" rx="4.1" ry="3.24" fill="url(#sP)"/>
<ellipse cx="288.09" cy="588.29" rx="4.48" ry="3.54" fill="url(#sD)"/>
<ellipse cx="291.67" cy="582.66" rx="4.59" ry="3.63" fill="url(#sP)"/>
<ellipse cx="295.07" cy="579.29" rx="4.59" ry="3.63" fill="url(#sD)"/>
<ellipse cx="296.5" cy="574.18" rx="4.55" ry="3.6" fill="url(#sP)"/>
<ellipse cx="300.47" cy="569.61" rx="3.93" ry="3.11" fill="url(#sD)"/>
<ellipse cx="289.4" cy="594.34" rx="4.17" ry="3.3" fill="url(#sD)"/>
<ellipse cx="293.85" cy="589.67" rx="4.05" ry="3.2" fill="url(#sP)"/>
<ellipse cx="296.64" cy="585.12" rx="4.24" ry="3.35" fill="url(#sW)"/>
<ellipse cx="300.26" cy="581.59" rx="4.62" ry="3.66" fill="url(#sP)"/>
<ellipse cx="303.17" cy="576.16" rx="4.29" ry="3.39" fill="url(#sM)"/>
<ellipse cx="306.79" cy="572.59" rx="3.93" ry="3.11" fill="url(#sP)"/>
<ellipse cx="295.68" cy="596.29" rx="4.22" ry="3.34" fill="url(#sP)"/>
<ellipse cx="299.7" cy="592.26" rx="4.83" ry="3.82" fill="url(#sM)"/>
<ellipse cx="302.81" cy="588.42" rx="4.07" ry="3.22" fill="url(#sM)"/>
<ellipse cx="306.38" cy="584.54" rx="4.26" ry="3.37" fill="url(#sP)"/>
<ellipse cx="309.81" cy="579.28" rx="4.54" ry="3.59" fill="url(#sP)"/>
<ellipse cx="313.59" cy="575.62" rx="4.17" ry="3.29" fill="url(#sP)"/>
<ellipse cx="301.28" cy="599.02" rx="4.85" ry="3.83" fill="url(#sM)"/>
<ellipse cx="305.31" cy="595.96" rx="4.2" ry="3.32" fill="url(#sP)"/>
<ellipse cx="308.35" cy="591.08" rx="4.08" ry="3.22" fill="url(#sW)"/>
<ellipse cx="312.38" cy="586.22" rx="3.87" ry="3.06" fill="url(#sW)"/>
<ellipse cx="315.94" cy="582.06" rx="4.4" ry="3.48" fill="url(#sM)"/>
<ellipse cx="319.67" cy="578.33" rx="4.47" ry="3.54" fill="url(#sD)"/>
<ellipse cx="309.21" cy="601.86" rx="4.24" ry="3.35" fill="url(#sW)"/>
<ellipse cx="312.1" cy="598.5" rx="4.62" ry="3.65" fill="url(#sM)"/>
<ellipse cx="315.29" cy="593.34" rx="4.04" ry="3.2" fill="url(#sP)"/>
<ellipse cx="317.88" cy="589.35" rx="4.27" ry="3.37" fill="url(#sM)"/>
<ellipse cx="321.13" cy="584.27" rx="4.12" ry="3.26" fill="url(#sM)"/>
<ellipse cx="324.18" cy="579.45" rx="4.42" ry="3.5" fill="url(#sM)"/>
<ellipse cx="314.88" cy="604.1" rx="3.98" ry="3.15" fill="url(#sW)"/>
<ellipse cx="317.72" cy="599.78" rx="4.7" ry="3.72" fill="url(#sM)"/>
<ellipse cx="320.11" cy="595.52" rx="4.81" ry="3.8" fill="url(#sP)"/>
<ellipse cx="324.18" cy="591.86" rx="4.73" ry="3.74" fill="url(#sM)"/>
<ellipse cx="327.37" cy="586.85" rx="4.64" ry="3.67" fill="url(#sM)"/>
<ellipse cx="331.8" cy="582.82" rx="4.78" ry="3.78" fill="url(#sD)"/>
<ellipse cx="320.77" cy="607.8" rx="4.63" ry="3.66" fill="url(#sP)"/>
<ellipse cx="323.56" cy="603.15" rx="4" ry="3.17" fill="url(#sD)"/>
<ellipse cx="326.09" cy="598.61" rx="4.07" ry="3.22" fill="url(#sM)"/>
<ellipse cx="329.68" cy="594.38" rx="4.91" ry="3.88" fill="url(#sD)"/>
<ellipse cx="333.59" cy="590.37" rx="4.55" ry="3.6" fill="url(#sP)"/>
<ellipse cx="327.08" cy="610.62" rx="4.18" ry="3.3" fill="url(#sP)"/>
<ellipse cx="328.86" cy="605.5" rx="4.22" ry="3.34" fill="url(#sP)"/>
<ellipse cx="332.81" cy="601.52" rx="4.27" ry="3.38" fill="url(#sD)"/>
<ellipse cx="336.32" cy="596.83" rx="4.18" ry="3.3" fill="url(#sD)"/>
<ellipse cx="339.64" cy="592.56" rx="4.92" ry="3.89" fill="url(#sD)"/>
<ellipse cx="342.44" cy="587.33" rx="4.73" ry="3.74" fill="url(#sD)"/>
</g>
<polygon points="278.8,592.9 299.1,566 348.5,586.9 328.2,613.7" fill="none" stroke="#ece6f0" stroke-width="1.6" stroke-linejoin="miter"/>
<rect x="345.8" y="625.5" width="12.5" height="1.3" fill="#b8b4b8"/>
</g>
<clipPath id="sc61"><rect x="367" y="560.3" width="93" height="68.2"/></clipPath>
<g clip-path="url(#sc61)">
<rect x="367" y="560.3" width="93" height="68.2" fill="#030208"/>
<g filter="url(#smb48)">
<ellipse cx="441.71" cy="611.58" rx="12.36" ry="9.51" fill="url(#hz)" opacity="0.3"/>
<ellipse cx="386.63" cy="594.72" rx="12.92" ry="9.94" fill="url(#hz)" opacity="0.3"/>
<ellipse cx="442.29" cy="596.33" rx="11.52" ry="8.86" fill="url(#hz)" opacity="0.3"/>
<ellipse cx="390.95" cy="580.3" rx="12.17" ry="9.37" fill="url(#hz)" opacity="0.3"/>
<ellipse cx="381.32" cy="595.77" rx="12.42" ry="9.56" fill="url(#hz)" opacity="0.3"/>
<polygon points="374.6,596 395.4,570 444.4,590.8 424.1,617.3" fill="#3c1658" fill-opacity="0.9"/>
<ellipse cx="379.28" cy="595.74" rx="4.94" ry="3.91" fill="url(#sD)"/>
<ellipse cx="384.01" cy="590.71" rx="4.32" ry="3.41" fill="url(#sP)"/>
<ellipse cx="387.09" cy="586.81" rx="4.46" ry="3.53" fill="url(#sW)"/>
<ellipse cx="390.95" cy="583.13" rx="4.88" ry="3.86" fill="url(#sM)"/>
<ellipse cx="394.05" cy="577.55" rx="4.77" ry="3.77" fill="url(#sM)"/>
<ellipse cx="396.12" cy="573.12" rx="4.05" ry="3.2" fill="url(#sM)"/>
<ellipse cx="385.59" cy="597.78" rx="4.68" ry="3.7" fill="url(#sP)"/>
<ellipse cx="390.42" cy="592.7" rx="4.1" ry="3.24" fill="url(#sM)"/>
<ellipse cx="393.44" cy="589.58" rx="4.74" ry="3.75" fill="url(#sM)"/>
<ellipse cx="396.92" cy="585.35" rx="4.73" ry="3.74" fill="url(#sW)"/>
<ellipse cx="400.58" cy="580.48" rx="3.98" ry="3.15" fill="url(#sP)"/>
<ellipse cx="403.89" cy="575.6" rx="4.14" ry="3.27" fill="url(#sP)"/>
<ellipse cx="391.84" cy="600.16" rx="4.11" ry="3.25" fill="url(#sD)"/>
<ellipse cx="395.17" cy="596.3" rx="4.74" ry="3.75" fill="url(#sP)"/>
<ellipse cx="399.75" cy="591.51" rx="4.17" ry="3.3" fill="url(#sM)"/>
<ellipse cx="402.77" cy="587.04" rx="4.23" ry="3.34" fill="url(#sW)"/>
<ellipse cx="406.02" cy="582.69" rx="4.46" ry="3.52" fill="url(#sP)"/>
<ellipse cx="408.68" cy="578.81" rx="4.02" ry="3.18" fill="url(#sM)"/>
<ellipse cx="397.95" cy="602.7" rx="4.41" ry="3.49" fill="url(#sP)"/>
<ellipse cx="400.89" cy="599.29" rx="4.89" ry="3.87" fill="url(#sD)"/>
<ellipse cx="404.05" cy="595.16" rx="4.68" ry="3.7" fill="url(#sP)"/>
<ellipse cx="407.67" cy="589.94" rx="4.9" ry="3.88" fill="url(#sP)"/>
<ellipse cx="411.16" cy="586.07" rx="4.06" ry="3.21" fill="url(#sD)"/>
<ellipse cx="414.34" cy="581.25" rx="4.22" ry="3.33" fill="url(#sD)"/>
<ellipse cx="407.86" cy="601.9" rx="4.1" ry="3.24" fill="url(#sD)"/>
<ellipse cx="410.98" cy="597.08" rx="4.55" ry="3.59" fill="url(#sD)"/>
<ellipse cx="414.75" cy="592.59" rx="4.77" ry="3.77" fill="url(#sM)"/>
<ellipse cx="417.44" cy="587.92" rx="4.32" ry="3.42" fill="url(#sP)"/>
<ellipse cx="421.1" cy="583.29" rx="4.49" ry="3.55" fill="url(#sP)"/>
<ellipse cx="410.52" cy="608.36" rx="4.35" ry="3.44" fill="url(#sD)"/>
<ellipse cx="417.54" cy="600.35" rx="4.21" ry="3.33" fill="url(#sD)"/>
<ellipse cx="419.56" cy="596.03" rx="4.8" ry="3.8" fill="url(#sM)"/>
<ellipse cx="424.48" cy="591.16" rx="4.12" ry="3.26" fill="url(#sM)"/>
<ellipse cx="427.74" cy="586.62" rx="4.76" ry="3.76" fill="url(#sP)"/>
<ellipse cx="419.63" cy="606.54" rx="4.74" ry="3.75" fill="url(#sP)"/>
<ellipse cx="422.59" cy="602.39" rx="4.08" ry="3.23" fill="url(#sD)"/>
<ellipse cx="427.06" cy="597.81" rx="4.47" ry="3.53" fill="url(#sM)"/>
<ellipse cx="430.55" cy="593.93" rx="4.73" ry="3.74" fill="url(#sM)"/>
<ellipse cx="433.77" cy="588.61" rx="4.84" ry="3.83" fill="url(#sP)"/>
<ellipse cx="421.45" cy="613.18" rx="3.98" ry="3.15" fill="url(#sD)"/>
<ellipse cx="429.39" cy="605.39" rx="4.78" ry="3.78" fill="url(#sD)"/>
<ellipse cx="431.82" cy="600.61" rx="4.93" ry="3.9" fill="url(#sP)"/>
<ellipse cx="435.14" cy="596.34" rx="4.65" ry="3.68" fill="url(#sD)"/>
<ellipse cx="438.79" cy="591.43" rx="3.89" ry="3.07" fill="url(#sP)"/>
</g>
<polygon points="374.6,596 395.4,570 444.4,590.8 424.1,617.3" fill="none" stroke="#ece6f0" stroke-width="1.6" stroke-linejoin="miter"/>
<rect x="443.5" y="625.5" width="12.5" height="1.3" fill="#b8b4b8"/>
</g>
<clipPath id="sc70"><rect x="270" y="633" width="92.3" height="68.5"/></clipPath>
<g clip-path="url(#sc70)">
<rect x="270" y="633" width="92.3" height="68.5" fill="#030208"/>
<g filter="url(#smb48)">
<ellipse cx="288.79" cy="652.11" rx="15.1" ry="11.62" fill="url(#hz)" opacity="0.3"/>
<ellipse cx="298.72" cy="649.55" rx="11.4" ry="8.77" fill="url(#hz)" opacity="0.3"/>
<ellipse cx="296.37" cy="645.41" rx="11.41" ry="8.77" fill="url(#hz)" opacity="0.3"/>
<ellipse cx="337.73" cy="685.12" rx="15.16" ry="11.66" fill="url(#hz)" opacity="0.3"/>
<ellipse cx="291.53" cy="679.37" rx="18.16" ry="13.97" fill="url(#hz)" opacity="0.3"/>
<polygon points="275.6,677.2 300.4,641 338.1,653.8 313.9,691" fill="#3c1658" fill-opacity="0.9"/>
<ellipse cx="281.48" cy="675.76" rx="4.33" ry="3.42" fill="url(#sD)"/>
<ellipse cx="288.03" cy="677.91" rx="4.41" ry="3.49" fill="url(#sD)"/>
<ellipse cx="293.5" cy="680.06" rx="4.12" ry="3.26" fill="url(#sD)"/>
<ellipse cx="305.63" cy="685.3" rx="4.87" ry="3.85" fill="url(#sD)"/>
<ellipse cx="311.19" cy="687.03" rx="4.35" ry="3.44" fill="url(#sD)"/>
<ellipse cx="284.82" cy="671.11" rx="4.34" ry="3.43" fill="url(#sP)"/>
<ellipse cx="289.52" cy="673.53" rx="4.59" ry="3.63" fill="url(#sD)"/>
<ellipse cx="295.8" cy="675.78" rx="4.83" ry="3.82" fill="url(#sP)"/>
<ellipse cx="303.38" cy="678.28" rx="4.75" ry="3.76" fill="url(#sP)"/>
<ellipse cx="309.74" cy="679.71" rx="3.98" ry="3.14" fill="url(#sP)"/>
<ellipse cx="315.62" cy="682.87" rx="4.27" ry="3.38" fill="url(#sP)"/>
<ellipse cx="287.85" cy="666.22" rx="4.84" ry="3.82" fill="url(#sP)"/>
<ellipse cx="292.81" cy="669.14" rx="4.37" ry="3.46" fill="url(#sD)"/>
<ellipse cx="299.59" cy="672.16" rx="4.59" ry="3.63" fill="url(#sP)"/>
<ellipse cx="305.38" cy="674.14" rx="4.94" ry="3.9" fill="url(#sD)"/>
<ellipse cx="312.95" cy="675.14" rx="4.62" ry="3.66" fill="url(#sP)"/>
<ellipse cx="318.45" cy="677.59" rx="4.3" ry="3.4" fill="url(#sM)"/>
<ellipse cx="295.22" cy="664.18" rx="4.67" ry="3.69" fill="url(#sP)"/>
<ellipse cx="302.91" cy="666.51" rx="4.54" ry="3.59" fill="url(#sP)"/>
<ellipse cx="309.22" cy="668.49" rx="4.66" ry="3.68" fill="url(#sP)"/>
<ellipse cx="315.64" cy="672" rx="3.89" ry="3.07" fill="url(#sW)"/>
<ellipse cx="320.76" cy="673.54" rx="3.9" ry="3.08" fill="url(#sP)"/>
<ellipse cx="293.58" cy="657.75" rx="3.99" ry="3.15" fill="url(#sP)"/>
<ellipse cx="299.32" cy="659.65" rx="4" ry="3.17" fill="url(#sM)"/>
<ellipse cx="304.94" cy="662.85" rx="4.42" ry="3.5" fill="url(#sW)"/>
<ellipse cx="310.64" cy="664.13" rx="4.31" ry="3.41" fill="url(#sM)"/>
<ellipse cx="317.75" cy="667.31" rx="4.47" ry="3.53" fill="url(#sM)"/>
<ellipse cx="323.31" cy="669.68" rx="4.78" ry="3.78" fill="url(#sW)"/>
<ellipse cx="296.23" cy="654.19" rx="4.31" ry="3.41" fill="url(#sP)"/>
<ellipse cx="301.12" cy="655.21" rx="4.31" ry="3.41" fill="url(#sP)"/>
<ellipse cx="308.88" cy="657.36" rx="4.66" ry="3.68" fill="url(#sM)"/>
<ellipse cx="313.76" cy="659.74" rx="3.9" ry="3.08" fill="url(#sP)"/>
<ellipse cx="321.6" cy="661.49" rx="4.56" ry="3.61" fill="url(#sD)"/>
<ellipse cx="326.52" cy="663.74" rx="3.95" ry="3.13" fill="url(#sP)"/>
<ellipse cx="299" cy="649.4" rx="4.22" ry="3.34" fill="url(#sD)"/>
<ellipse cx="305.37" cy="651.28" rx="4.89" ry="3.86" fill="url(#sP)"/>
<ellipse cx="310.98" cy="653.8" rx="4.29" ry="3.4" fill="url(#sP)"/>
<ellipse cx="317.47" cy="655.51" rx="4.27" ry="3.37" fill="url(#sM)"/>
<ellipse cx="323.72" cy="656.95" rx="4.33" ry="3.43" fill="url(#sP)"/>
<ellipse cx="301.18" cy="644.49" rx="4.11" ry="3.25" fill="url(#sP)"/>
<ellipse cx="307.66" cy="647.2" rx="4.39" ry="3.47" fill="url(#sP)"/>
<ellipse cx="314.23" cy="649.66" rx="3.88" ry="3.07" fill="url(#sP)"/>
<ellipse cx="321.64" cy="650.81" rx="4.51" ry="3.56" fill="url(#sM)"/>
<ellipse cx="326.38" cy="653.31" rx="4.27" ry="3.37" fill="url(#sD)"/>
<ellipse cx="333" cy="655.27" rx="4.21" ry="3.33" fill="url(#sD)"/>
</g>
<polygon points="275.6,677.2 300.4,641 338.1,653.8 313.9,691" fill="none" stroke="#ece6f0" stroke-width="1.6" stroke-linejoin="miter"/>
<rect x="345.8" y="698.5" width="12.5" height="1.3" fill="#b8b4b8"/>
</g>
<clipPath id="sc71"><rect x="367" y="633" width="93" height="68.5"/></clipPath>
<g clip-path="url(#sc71)">
<rect x="367" y="633" width="93" height="68.5" fill="#030208"/>
<g filter="url(#smb48)">
<ellipse cx="409.34" cy="648.48" rx="11.12" ry="8.56" fill="url(#hz)" opacity="0.3"/>
<ellipse cx="408.5" cy="682.31" rx="16.61" ry="12.77" fill="url(#hz)" opacity="0.3"/>
<ellipse cx="373.65" cy="676.25" rx="13.54" ry="10.41" fill="url(#hz)" opacity="0.3"/>
<ellipse cx="400.93" cy="688.08" rx="11.07" ry="8.51" fill="url(#hz)" opacity="0.3"/>
<ellipse cx="447.41" cy="660.97" rx="12.96" ry="9.97" fill="url(#hz)" opacity="0.3"/>
<polygon points="374.6,668.9 412.3,638.4 443.1,658.5 405.3,689" fill="#3c1658" fill-opacity="0.9"/>
<ellipse cx="380.12" cy="669.26" rx="4.54" ry="3.59" fill="url(#sM)"/>
<ellipse cx="385.99" cy="672.27" rx="3.89" ry="3.08" fill="url(#sP)"/>
<ellipse cx="390.6" cy="675.04" rx="3.88" ry="3.06" fill="url(#sP)"/>
<ellipse cx="396.03" cy="677.78" rx="4.93" ry="3.9" fill="url(#sP)"/>
<ellipse cx="400.7" cy="681.56" rx="4.34" ry="3.43" fill="url(#sD)"/>
<ellipse cx="404.34" cy="684.77" rx="4.34" ry="3.43" fill="url(#sP)"/>
<ellipse cx="383.79" cy="665.36" rx="3.95" ry="3.12" fill="url(#sD)"/>
<ellipse cx="388.82" cy="667.51" rx="4.46" ry="3.53" fill="url(#sP)"/>
<ellipse cx="394.84" cy="672.1" rx="4.9" ry="3.87" fill="url(#sW)"/>
<ellipse cx="399.83" cy="675.26" rx="4.32" ry="3.41" fill="url(#sW)"/>
<ellipse cx="404.73" cy="677.26" rx="4.81" ry="3.8" fill="url(#sW)"/>
<ellipse cx="410.21" cy="681.99" rx="4.28" ry="3.38" fill="url(#sP)"/>
<ellipse cx="389.02" cy="661.53" rx="4.61" ry="3.65" fill="url(#sP)"/>
<ellipse cx="393.57" cy="664.51" rx="4.67" ry="3.69" fill="url(#sW)"/>
<ellipse cx="398.61" cy="667.43" rx="4.24" ry="3.35" fill="url(#sW)"/>
<ellipse cx="404.14" cy="671.09" rx="4.43" ry="3.5" fill="url(#sM)"/>
<ellipse cx="409.61" cy="674.23" rx="4.26" ry="3.36" fill="url(#sP)"/>
<ellipse cx="414.9" cy="677.14" rx="4.22" ry="3.34" fill="url(#sD)"/>
<ellipse cx="394.07" cy="656.94" rx="4.66" ry="3.68" fill="url(#sP)"/>
<ellipse cx="398.67" cy="660.98" rx="4.76" ry="3.76" fill="url(#sM)"/>
<ellipse cx="404.12" cy="664.69" rx="4.53" ry="3.58" fill="url(#sP)"/>
<ellipse cx="409" cy="666.79" rx="4.36" ry="3.45" fill="url(#sP)"/>
<ellipse cx="413.64" cy="671.07" rx="3.98" ry="3.15" fill="url(#sP)"/>
<ellipse cx="419.26" cy="673.9" rx="4.62" ry="3.65" fill="url(#sW)"/>
<ellipse cx="399.53" cy="654.01" rx="4.03" ry="3.19" fill="url(#sP)"/>
<ellipse cx="408.86" cy="659.57" rx="4.45" ry="3.51" fill="url(#sP)"/>
<ellipse cx="414.54" cy="664.15" rx="4.5" ry="3.56" fill="url(#sP)"/>
<ellipse cx="419.7" cy="667.12" rx="4.26" ry="3.37" fill="url(#sM)"/>
<ellipse cx="424.25" cy="669.69" rx="4.79" ry="3.79" fill="url(#sW)"/>
<ellipse cx="403.25" cy="649.44" rx="3.89" ry="3.08" fill="url(#sP)"/>
<ellipse cx="407.4" cy="653.11" rx="4.14" ry="3.27" fill="url(#sP)"/>
<ellipse cx="412.77" cy="656.45" rx="4.18" ry="3.3" fill="url(#sP)"/>
<ellipse cx="419.1" cy="660.3" rx="4.04" ry="3.2" fill="url(#sD)"/>
<ellipse cx="423.87" cy="663.08" rx="4.45" ry="3.52" fill="url(#sP)"/>
<ellipse cx="429" cy="665.94" rx="4.86" ry="3.84" fill="url(#sP)"/>
<ellipse cx="407.5" cy="646.55" rx="4.88" ry="3.86" fill="url(#sP)"/>
<ellipse cx="412.56" cy="649.75" rx="4.36" ry="3.44" fill="url(#sP)"/>
<ellipse cx="422.09" cy="656.69" rx="4.89" ry="3.87" fill="url(#sP)"/>
<ellipse cx="428.88" cy="658.64" rx="3.95" ry="3.12" fill="url(#sD)"/>
<ellipse cx="434.12" cy="662.27" rx="4" ry="3.16" fill="url(#sP)"/>
<ellipse cx="418.54" cy="645.94" rx="4.48" ry="3.55" fill="url(#sP)"/>
<ellipse cx="427.64" cy="652" rx="4.07" ry="3.22" fill="url(#sD)"/>
<ellipse cx="433.08" cy="655.4" rx="4.08" ry="3.23" fill="url(#sD)"/>
<ellipse cx="437.65" cy="658.92" rx="3.95" ry="3.13" fill="url(#sD)"/>
</g>
<polygon points="374.6,668.9 412.3,638.4 443.1,658.5 405.3,689" fill="none" stroke="#ece6f0" stroke-width="1.6" stroke-linejoin="miter"/>
<rect x="443.5" y="698.5" width="12.5" height="1.3" fill="#b8b4b8"/>
</g>
<ellipse cx="160.3" cy="101.9" rx="14.6" ry="10.2" fill="#b9d6c6" fill-opacity="0.9"/>
<clipPath id="shc0"><polygon points="108.4,85.5 240.5,128.3 174,194 39.1,121"/></clipPath>
<polygon points="108.4,85.5 227.95,124.23 161.18,187.06 39.1,121" fill="#7f7f7f"/>
<path d="M108.4 85.5L227.95 124.23M105.51 86.98L225.17 126.85M102.62 88.46L222.39 129.47M99.74 89.94L219.6 132.09M96.85 91.42L216.82 134.71M93.96 92.9L214.04 137.32M91.08 94.38L211.26 139.94M88.19 95.85L208.48 142.56M85.3 97.33L205.7 145.18M82.41 98.81L202.91 147.8M79.53 100.29L200.13 150.41M76.64 101.77L197.35 153.03M73.75 103.25L194.57 155.65M70.86 104.73L191.79 158.27M67.97 106.21L189 160.89M65.09 107.69L186.22 163.5M62.2 109.17L183.44 166.12M59.31 110.65L180.66 168.74M56.42 112.12L177.88 171.36M53.54 113.6L175.09 173.98M50.65 115.08L172.31 176.59M47.76 116.56L169.53 179.21M44.88 118.04L166.75 181.83M41.99 119.52L163.97 184.45M39.1 121L161.18 187.06" stroke="#686868" stroke-width="0.6" fill="none"/>
<path d="M107.64 86.47h0.01M110.4 87.37h0.01M113.15 88.28h0.01M115.9 89.18h0.01M118.66 90.08h0.01M121.41 90.99h0.01M124.16 91.89h0.01M126.92 92.8h0.01M129.67 93.7h0.01M132.42 94.61h0.01M135.18 95.51h0.01M137.93 96.42h0.01M140.68 97.32h0.01M143.44 98.23h0.01M146.19 99.13h0.01M148.94 100.04h0.01M151.7 100.94h0.01M154.45 101.85h0.01M157.2 102.75h0.01M159.96 103.66h0.01M162.71 104.56h0.01M165.46 105.47h0.01M168.22 106.37h0.01M170.97 107.28h0.01M173.72 108.18h0.01M176.48 109.09h0.01M179.23 109.99h0.01M181.98 110.89h0.01M184.74 111.8h0.01M187.49 112.7h0.01M190.24 113.61h0.01M193 114.51h0.01M195.75 115.42h0.01M198.5 116.32h0.01M201.26 117.23h0.01M204.01 118.13h0.01M206.76 119.04h0.01M209.52 119.94h0.01M212.27 120.85h0.01M106.14 88.42h0.01M108.89 89.35h0.01M111.65 90.28h0.01M114.4 91.21h0.01M117.16 92.14h0.01M119.91 93.07h0.01M122.67 94h0.01M125.43 94.93h0.01M128.18 95.86h0.01M130.94 96.8h0.01M133.69 97.73h0.01M136.45 98.66h0.01M139.2 99.59h0.01M141.96 100.52h0.01M144.72 101.45h0.01M147.47 102.38h0.01M150.23 103.31h0.01M152.98 104.24h0.01M155.74 105.17h0.01M158.49 106.11h0.01M161.25 107.04h0.01M164.01 107.97h0.01M166.76 108.9h0.01M169.52 109.83h0.01M172.27 110.76h0.01M175.03 111.69h0.01M177.78 112.62h0.01M180.54 113.55h0.01M183.3 114.48h0.01M186.05 115.42h0.01M188.81 116.35h0.01M191.56 117.28h0.01M194.32 118.21h0.01M197.07 119.14h0.01M199.83 120.07h0.01M202.59 121h0.01M205.34 121.93h0.01M208.1 122.86h0.01M101.87 89.44h0.01M104.63 90.39h0.01M107.39 91.35h0.01M110.15 92.31h0.01M112.9 93.27h0.01M115.66 94.22h0.01M118.42 95.18h0.01M121.18 96.14h0.01M123.94 97.09h0.01M126.69 98.05h0.01M129.45 99.01h0.01M132.21 99.97h0.01M134.97 100.92h0.01M137.73 101.88h0.01M140.49 102.84h0.01M143.24 103.8h0.01M146 104.75h0.01M148.76 105.71h0.01M151.52 106.67h0.01M154.28 107.62h0.01M157.03 108.58h0.01M159.79 109.54h0.01M162.55 110.5h0.01M165.31 111.45h0.01M168.07 112.41h0.01M170.82 113.37h0.01M173.58 114.32h0.01M176.34 115.28h0.01M179.1 116.24h0.01M181.86 117.2h0.01M184.62 118.15h0.01M187.37 119.11h0.01M190.13 120.07h0.01M192.89 121.02h0.01M195.65 121.98h0.01M198.41 122.94h0.01M201.16 123.9h0.01M203.92 124.85h0.01M206.68 125.81h0.01M100.36 91.41h0.01M103.12 92.4h0.01M105.89 93.38h0.01M108.65 94.36h0.01M111.41 95.35h0.01M114.17 96.33h0.01M116.93 97.32h0.01M119.69 98.3h0.01M122.45 99.28h0.01M125.21 100.27h0.01M127.97 101.25h0.01M130.73 102.23h0.01M133.49 103.22h0.01M136.25 104.2h0.01M139.01 105.18h0.01M141.77 106.17h0.01M144.53 107.15h0.01M147.29 108.13h0.01M150.05 109.12h0.01M152.82 110.1h0.01M155.58 111.08h0.01M158.34 112.07h0.01M161.1 113.05h0.01M163.86 114.03h0.01M166.62 115.02h0.01M169.38 116h0.01M172.14 116.98h0.01M174.9 117.97h0.01M177.66 118.95h0.01M180.42 119.93h0.01M183.18 120.92h0.01M185.94 121.9h0.01M188.7 122.88h0.01M191.46 123.87h0.01M194.22 124.85h0.01M196.98 125.83h0.01M199.75 126.82h0.01M202.51 127.8h0.01M96.1 92.41h0.01M98.86 93.42h0.01M101.62 94.43h0.01M104.39 95.44h0.01M107.15 96.45h0.01M109.91 97.46h0.01M112.68 98.47h0.01M115.44 99.48h0.01M118.2 100.49h0.01M120.96 101.5h0.01M123.73 102.51h0.01M126.49 103.51h0.01M129.25 104.52h0.01M132.02 105.53h0.01M134.78 106.54h0.01M137.54 107.55h0.01M140.31 108.56h0.01M143.07 109.57h0.01M145.83 110.58h0.01M148.59 111.59h0.01M151.36 112.6h0.01M154.12 113.61h0.01M156.88 114.62h0.01M159.65 115.63h0.01M162.41 116.64h0.01M165.17 117.65h0.01M167.94 118.66h0.01M170.7 119.67h0.01M173.46 120.68h0.01M176.22 121.69h0.01M178.99 122.7h0.01M181.75 123.71h0.01M184.51 124.72h0.01M187.28 125.73h0.01M190.04 126.74h0.01M192.8 127.75h0.01M195.57 128.76h0.01M198.33 129.77h0.01M201.09 130.77h0.01M94.59 94.41h0.01M97.36 95.45h0.01M100.12 96.48h0.01M102.89 97.52h0.01M105.65 98.56h0.01M108.42 99.59h0.01M111.19 100.63h0.01M113.95 101.66h0.01M116.72 102.7h0.01M119.48 103.73h0.01M122.25 104.77h0.01M125.01 105.81h0.01M127.78 106.84h0.01M130.54 107.88h0.01M133.31 108.91h0.01M136.07 109.95h0.01M138.84 110.99h0.01M141.61 112.02h0.01M144.37 113.06h0.01M147.14 114.09h0.01M149.9 115.13h0.01M152.67 116.17h0.01M155.43 117.2h0.01M158.2 118.24h0.01M160.96 119.27h0.01M163.73 120.31h0.01M166.49 121.34h0.01M169.26 122.38h0.01M172.03 123.42h0.01M174.79 124.45h0.01M177.56 125.49h0.01M180.32 126.52h0.01M183.09 127.56h0.01M185.85 128.6h0.01M188.62 129.63h0.01M191.38 130.67h0.01M194.15 131.7h0.01M196.91 132.74h0.01M90.32 95.38h0.01M93.09 96.44h0.01M95.86 97.5h0.01M98.63 98.57h0.01M101.39 99.63h0.01M104.16 100.69h0.01M106.93 101.75h0.01M109.7 102.81h0.01M112.47 103.88h0.01M115.23 104.94h0.01M118 106h0.01M120.77 107.06h0.01M123.54 108.12h0.01M126.31 109.19h0.01M129.07 110.25h0.01M131.84 111.31h0.01M134.61 112.37h0.01M137.38 113.44h0.01M140.15 114.5h0.01M142.91 115.56h0.01M145.68 116.62h0.01M148.45 117.68h0.01M151.22 118.75h0.01M153.98 119.81h0.01M156.75 120.87h0.01M159.52 121.93h0.01M162.29 122.99h0.01M165.06 124.06h0.01M167.82 125.12h0.01M170.59 126.18h0.01M173.36 127.24h0.01M176.13 128.3h0.01M178.9 129.37h0.01M181.66 130.43h0.01M184.43 131.49h0.01M187.2 132.55h0.01M189.97 133.61h0.01M192.73 134.68h0.01M195.5 135.74h0.01M88.82 97.41h0.01M91.59 98.5h0.01M94.36 99.59h0.01M97.13 100.67h0.01M99.9 101.76h0.01M102.67 102.85h0.01M105.44 103.94h0.01M108.21 105.03h0.01M110.98 106.12h0.01M113.75 107.2h0.01M116.52 108.29h0.01M119.29 109.38h0.01M122.07 110.47h0.01M124.84 111.56h0.01M127.61 112.65h0.01M130.38 113.73h0.01M133.15 114.82h0.01M135.92 115.91h0.01M138.69 117h0.01M141.46 118.09h0.01M144.23 119.18h0.01M147 120.26h0.01M149.77 121.35h0.01M152.54 122.44h0.01M155.31 123.53h0.01M158.08 124.62h0.01M160.85 125.71h0.01M163.62 126.79h0.01M166.39 127.88h0.01M169.16 128.97h0.01M171.93 130.06h0.01M174.7 131.15h0.01M177.47 132.23h0.01M180.24 133.32h0.01M183.01 134.41h0.01M185.78 135.5h0.01M188.55 136.59h0.01M191.32 137.68h0.01M84.55 98.35h0.01M87.32 99.47h0.01M90.09 100.58h0.01M92.87 101.7h0.01M95.64 102.81h0.01M98.41 103.92h0.01M101.19 105.04h0.01M103.96 106.15h0.01M106.73 107.27h0.01M109.5 108.38h0.01M112.28 109.5h0.01M115.05 110.61h0.01M117.82 111.73h0.01M120.6 112.84h0.01M123.37 113.95h0.01M126.14 115.07h0.01M128.91 116.18h0.01M131.69 117.3h0.01M134.46 118.41h0.01M137.23 119.53h0.01M140 120.64h0.01M142.78 121.76h0.01M145.55 122.87h0.01M148.32 123.98h0.01M151.1 125.1h0.01M153.87 126.21h0.01M156.64 127.33h0.01M159.41 128.44h0.01M162.19 129.56h0.01M164.96 130.67h0.01M167.73 131.79h0.01M170.5 132.9h0.01M173.28 134.02h0.01M176.05 135.13h0.01M178.82 136.24h0.01M181.6 137.36h0.01M184.37 138.47h0.01M187.14 139.59h0.01M189.91 140.7h0.01M83.05 100.41h0.01M85.83 101.55h0.01M88.6 102.69h0.01M91.38 103.83h0.01M94.15 104.97h0.01M96.93 106.11h0.01M99.7 107.25h0.01M102.48 108.39h0.01M105.25 109.53h0.01M108.03 110.67h0.01M110.8 111.81h0.01M113.58 112.96h0.01M116.35 114.1h0.01M119.13 115.24h0.01M121.9 116.38h0.01M124.68 117.52h0.01M127.45 118.66h0.01M130.23 119.8h0.01M133 120.94h0.01M135.78 122.08h0.01M138.55 123.22h0.01M141.33 124.36h0.01M144.1 125.5h0.01M146.88 126.64h0.01M149.65 127.78h0.01M152.43 128.93h0.01M155.2 130.07h0.01M157.98 131.21h0.01M160.75 132.35h0.01M163.53 133.49h0.01M166.31 134.63h0.01M169.08 135.77h0.01M171.86 136.91h0.01M174.63 138.05h0.01M177.41 139.19h0.01M180.18 140.33h0.01M182.96 141.47h0.01M185.73 142.61h0.01M78.78 101.32h0.01M81.55 102.49h0.01M84.33 103.66h0.01M87.11 104.82h0.01M89.89 105.99h0.01M92.66 107.16h0.01M95.44 108.32h0.01M98.22 109.49h0.01M101 110.66h0.01M103.77 111.83h0.01M106.55 112.99h0.01M109.33 114.16h0.01M112.11 115.33h0.01M114.88 116.49h0.01M117.66 117.66h0.01M120.44 118.83h0.01M123.22 119.99h0.01M125.99 121.16h0.01M128.77 122.33h0.01M131.55 123.49h0.01M134.33 124.66h0.01M137.11 125.83h0.01M139.88 127h0.01M142.66 128.16h0.01M145.44 129.33h0.01M148.22 130.5h0.01M150.99 131.66h0.01M153.77 132.83h0.01M156.55 134h0.01M159.33 135.16h0.01M162.1 136.33h0.01M164.88 137.5h0.01M167.66 138.66h0.01M170.44 139.83h0.01M173.21 141h0.01M175.99 142.17h0.01M178.77 143.33h0.01M181.55 144.5h0.01M184.32 145.67h0.01M77.28 103.41h0.01M80.06 104.6h0.01M82.84 105.79h0.01M85.62 106.98h0.01M88.4 108.18h0.01M91.18 109.37h0.01M93.96 110.56h0.01M96.74 111.76h0.01M99.52 112.95h0.01M102.3 114.14h0.01M105.08 115.34h0.01M107.86 116.53h0.01M110.64 117.72h0.01M113.42 118.92h0.01M116.2 120.11h0.01M118.98 121.3h0.01M121.76 122.5h0.01M124.54 123.69h0.01M127.32 124.88h0.01M130.1 126.07h0.01M132.88 127.27h0.01M135.66 128.46h0.01M138.44 129.65h0.01M141.22 130.85h0.01M144 132.04h0.01M146.78 133.23h0.01M149.56 134.43h0.01M152.34 135.62h0.01M155.12 136.81h0.01M157.9 138.01h0.01M160.68 139.2h0.01M163.46 140.39h0.01M166.24 141.59h0.01M169.02 142.78h0.01M171.8 143.97h0.01M174.58 145.17h0.01M177.36 146.36h0.01M180.14 147.55h0.01M73 104.29h0.01M75.78 105.51h0.01M78.57 106.73h0.01M81.35 107.95h0.01M84.13 109.17h0.01M86.91 110.39h0.01M89.7 111.61h0.01M92.48 112.83h0.01M95.26 114.05h0.01M98.04 115.27h0.01M100.83 116.49h0.01M103.61 117.71h0.01M106.39 118.93h0.01M109.17 120.15h0.01M111.96 121.37h0.01M114.74 122.58h0.01M117.52 123.8h0.01M120.3 125.02h0.01M123.09 126.24h0.01M125.87 127.46h0.01M128.65 128.68h0.01M131.43 129.9h0.01M134.22 131.12h0.01M137 132.34h0.01M139.78 133.56h0.01M142.56 134.78h0.01M145.35 136h0.01M148.13 137.22h0.01M150.91 138.44h0.01M153.69 139.66h0.01M156.48 140.88h0.01M159.26 142.09h0.01M162.04 143.31h0.01M164.82 144.53h0.01M167.61 145.75h0.01M170.39 146.97h0.01M173.17 148.19h0.01M175.95 149.41h0.01M178.74 150.63h0.01M71.51 106.4h0.01M74.29 107.65h0.01M77.08 108.89h0.01M79.86 110.14h0.01M82.65 111.39h0.01M85.43 112.63h0.01M88.22 113.88h0.01M91 115.12h0.01M93.79 116.37h0.01M96.57 117.61h0.01M99.36 118.86h0.01M102.14 120.1h0.01M104.93 121.35h0.01M107.71 122.6h0.01M110.5 123.84h0.01M113.28 125.09h0.01M116.07 126.33h0.01M118.85 127.58h0.01M121.64 128.82h0.01M124.42 130.07h0.01M127.21 131.31h0.01M129.99 132.56h0.01M132.78 133.81h0.01M135.56 135.05h0.01M138.34 136.3h0.01M141.13 137.54h0.01M143.91 138.79h0.01M146.7 140.03h0.01M149.48 141.28h0.01M152.27 142.52h0.01M155.05 143.77h0.01M157.84 145.02h0.01M160.62 146.26h0.01M163.41 147.51h0.01M166.19 148.75h0.01M168.98 150h0.01M171.76 151.24h0.01M174.55 152.49h0.01M67.23 107.27h0.01M70.02 108.54h0.01M72.8 109.81h0.01M75.59 111.08h0.01M78.38 112.35h0.01M81.16 113.62h0.01M83.95 114.9h0.01M86.74 116.17h0.01M89.53 117.44h0.01M92.31 118.71h0.01M95.1 119.98h0.01M97.89 121.26h0.01M100.68 122.53h0.01M103.46 123.8h0.01M106.25 125.07h0.01M109.04 126.34h0.01M111.83 127.61h0.01M114.61 128.89h0.01M117.4 130.16h0.01M120.19 131.43h0.01M122.97 132.7h0.01M125.76 133.97h0.01M128.55 135.25h0.01M131.34 136.52h0.01M134.12 137.79h0.01M136.91 139.06h0.01M139.7 140.33h0.01M142.49 141.6h0.01M145.27 142.88h0.01M148.06 144.15h0.01M150.85 145.42h0.01M153.64 146.69h0.01M156.42 147.96h0.01M159.21 149.23h0.01M162 150.51h0.01M164.78 151.78h0.01M167.57 153.05h0.01M170.36 154.32h0.01M173.15 155.59h0.01M65.74 109.4h0.01M68.53 110.7h0.01M71.32 112h0.01M74.11 113.29h0.01M76.9 114.59h0.01M79.68 115.89h0.01M82.47 117.19h0.01M85.26 118.49h0.01M88.05 119.78h0.01M90.84 121.08h0.01M93.63 122.38h0.01M96.42 123.68h0.01M99.21 124.98h0.01M102 126.27h0.01M104.79 127.57h0.01M107.58 128.87h0.01M110.37 130.17h0.01M113.16 131.47h0.01M115.95 132.76h0.01M118.74 134.06h0.01M121.53 135.36h0.01M124.32 136.66h0.01M127.11 137.96h0.01M129.9 139.25h0.01M132.69 140.55h0.01M135.48 141.85h0.01M138.27 143.15h0.01M141.06 144.45h0.01M143.85 145.74h0.01M146.64 147.04h0.01M149.43 148.34h0.01M152.22 149.64h0.01M155.01 150.94h0.01M157.8 152.23h0.01M160.59 153.53h0.01M163.38 154.83h0.01M166.17 156.13h0.01M168.96 157.43h0.01M61.45 110.24h0.01M64.25 111.56h0.01M67.04 112.89h0.01M69.83 114.21h0.01M72.62 115.53h0.01M75.42 116.86h0.01M78.21 118.18h0.01M81 119.51h0.01M83.79 120.83h0.01M86.58 122.16h0.01M89.38 123.48h0.01M92.17 124.8h0.01M94.96 126.13h0.01M97.75 127.45h0.01M100.54 128.78h0.01M103.34 130.1h0.01M106.13 131.42h0.01M108.92 132.75h0.01M111.71 134.07h0.01M114.51 135.4h0.01M117.3 136.72h0.01M120.09 138.05h0.01M122.88 139.37h0.01M125.67 140.69h0.01M128.47 142.02h0.01M131.26 143.34h0.01M134.05 144.67h0.01M136.84 145.99h0.01M139.64 147.32h0.01M142.43 148.64h0.01M145.22 149.96h0.01M148.01 151.29h0.01M150.8 152.61h0.01M153.6 153.94h0.01M156.39 155.26h0.01M159.18 156.58h0.01M161.97 157.91h0.01M164.77 159.23h0.01M167.56 160.56h0.01M59.96 112.4h0.01M62.76 113.75h0.01M65.55 115.1h0.01M68.35 116.45h0.01M71.14 117.8h0.01M73.94 119.15h0.01M76.73 120.5h0.01M79.53 121.85h0.01M82.32 123.2h0.01M85.12 124.55h0.01M87.91 125.9h0.01M90.71 127.25h0.01M93.5 128.6h0.01M96.29 129.95h0.01M99.09 131.3h0.01M101.88 132.65h0.01M104.68 134.01h0.01M107.47 135.36h0.01M110.27 136.71h0.01M113.06 138.06h0.01M115.86 139.41h0.01M118.65 140.76h0.01M121.45 142.11h0.01M124.24 143.46h0.01M127.04 144.81h0.01M129.83 146.16h0.01M132.62 147.51h0.01M135.42 148.86h0.01M138.21 150.21h0.01M141.01 151.56h0.01M143.8 152.91h0.01M146.6 154.26h0.01M149.39 155.61h0.01M152.19 156.96h0.01M154.98 158.31h0.01M157.78 159.66h0.01M160.57 161.01h0.01M163.37 162.36h0.01M55.68 113.21h0.01M58.48 114.59h0.01M61.27 115.96h0.01M64.07 117.34h0.01M66.87 118.72h0.01M69.67 120.09h0.01M72.46 121.47h0.01M75.26 122.85h0.01M78.06 124.22h0.01M80.85 125.6h0.01M83.65 126.98h0.01M86.45 128.35h0.01M89.25 129.73h0.01M92.04 131.11h0.01M94.84 132.48h0.01M97.64 133.86h0.01M100.43 135.24h0.01M103.23 136.61h0.01M106.03 137.99h0.01M108.82 139.37h0.01M111.62 140.74h0.01M114.42 142.12h0.01M117.22 143.5h0.01M120.01 144.87h0.01M122.81 146.25h0.01M125.61 147.62h0.01M128.4 149h0.01M131.2 150.38h0.01M134 151.75h0.01M136.79 153.13h0.01M139.59 154.51h0.01M142.39 155.88h0.01M145.19 157.26h0.01M147.98 158.64h0.01M150.78 160.01h0.01M153.58 161.39h0.01M156.37 162.77h0.01M159.17 164.14h0.01M161.97 165.52h0.01M54.19 115.4h0.01M56.99 116.8h0.01M59.79 118.2h0.01M62.59 119.6h0.01M65.39 121.01h0.01M68.19 122.41h0.01M70.99 123.81h0.01M73.79 125.22h0.01M76.59 126.62h0.01M79.39 128.02h0.01M82.19 129.42h0.01M84.99 130.83h0.01M87.79 132.23h0.01M90.59 133.63h0.01M93.39 135.04h0.01M96.19 136.44h0.01M98.99 137.84h0.01M101.78 139.24h0.01M104.58 140.65h0.01M107.38 142.05h0.01M110.18 143.45h0.01M112.98 144.86h0.01M115.78 146.26h0.01M118.58 147.66h0.01M121.38 149.06h0.01M124.18 150.47h0.01M126.98 151.87h0.01M129.78 153.27h0.01M132.58 154.68h0.01M135.38 156.08h0.01M138.18 157.48h0.01M140.98 158.88h0.01M143.78 160.29h0.01M146.58 161.69h0.01M149.38 163.09h0.01M152.18 164.5h0.01M154.97 165.9h0.01M157.77 167.3h0.01M49.91 116.18h0.01M52.71 117.61h0.01M55.51 119.04h0.01M58.31 120.47h0.01M61.11 121.9h0.01M63.92 123.33h0.01M66.72 124.75h0.01M69.52 126.18h0.01M72.32 127.61h0.01M75.12 129.04h0.01M77.93 130.47h0.01M80.73 131.9h0.01M83.53 133.33h0.01M86.33 134.76h0.01M89.13 136.19h0.01M91.94 137.62h0.01M94.74 139.05h0.01M97.54 140.47h0.01M100.34 141.9h0.01M103.14 143.33h0.01M105.94 144.76h0.01M108.75 146.19h0.01M111.55 147.62h0.01M114.35 149.05h0.01M117.15 150.48h0.01M119.95 151.91h0.01M122.76 153.34h0.01M125.56 154.77h0.01M128.36 156.19h0.01M131.16 157.62h0.01M133.96 159.05h0.01M136.77 160.48h0.01M139.57 161.91h0.01M142.37 163.34h0.01M145.17 164.77h0.01M147.97 166.2h0.01M150.78 167.63h0.01M153.58 169.06h0.01M156.38 170.49h0.01M48.42 118.39h0.01M51.23 119.85h0.01M54.03 121.3h0.01M56.84 122.76h0.01M59.64 124.21h0.01M62.44 125.67h0.01M65.25 127.13h0.01M68.05 128.58h0.01M70.86 130.04h0.01M73.66 131.49h0.01M76.47 132.95h0.01M79.27 134.4h0.01M82.07 135.86h0.01M84.88 137.31h0.01M87.68 138.77h0.01M90.49 140.22h0.01M93.29 141.68h0.01M96.1 143.13h0.01M98.9 144.59h0.01M101.7 146.04h0.01M104.51 147.5h0.01M107.31 148.95h0.01M110.12 150.41h0.01M112.92 151.87h0.01M115.73 153.32h0.01M118.53 154.78h0.01M121.33 156.23h0.01M124.14 157.69h0.01M126.94 159.14h0.01M129.75 160.6h0.01M132.55 162.05h0.01M135.36 163.51h0.01M138.16 164.96h0.01M140.97 166.42h0.01M143.77 167.87h0.01M146.57 169.33h0.01M149.38 170.78h0.01M152.18 172.24h0.01M44.13 119.15h0.01M46.94 120.63h0.01M49.75 122.11h0.01M52.55 123.6h0.01M55.36 125.08h0.01M58.17 126.56h0.01M60.97 128.04h0.01M63.78 129.52h0.01M66.59 131h0.01M69.39 132.49h0.01M72.2 133.97h0.01M75.01 135.45h0.01M77.81 136.93h0.01M80.62 138.41h0.01M83.43 139.89h0.01M86.23 141.37h0.01M89.04 142.86h0.01M91.85 144.34h0.01M94.65 145.82h0.01M97.46 147.3h0.01M100.27 148.78h0.01M103.08 150.26h0.01M105.88 151.74h0.01M108.69 153.23h0.01M111.5 154.71h0.01M114.3 156.19h0.01M117.11 157.67h0.01M119.92 159.15h0.01M122.72 160.63h0.01M125.53 162.12h0.01M128.34 163.6h0.01M131.14 165.08h0.01M133.95 166.56h0.01M136.76 168.04h0.01M139.56 169.52h0.01M142.37 171h0.01M145.18 172.49h0.01M147.98 173.97h0.01M150.79 175.45h0.01M42.65 121.39h0.01M45.46 122.9h0.01M48.27 124.41h0.01M51.08 125.91h0.01M53.89 127.42h0.01M56.7 128.93h0.01M59.51 130.44h0.01M62.32 131.95h0.01M65.12 133.45h0.01M67.93 134.96h0.01M70.74 136.47h0.01M73.55 137.98h0.01M76.36 139.48h0.01M79.17 140.99h0.01M81.98 142.5h0.01M84.79 144.01h0.01M87.6 145.51h0.01M90.41 147.02h0.01M93.22 148.53h0.01M96.03 150.04h0.01M98.83 151.55h0.01M101.64 153.05h0.01M104.45 154.56h0.01M107.26 156.07h0.01M110.07 157.58h0.01M112.88 159.08h0.01M115.69 160.59h0.01M118.5 162.1h0.01M121.31 163.61h0.01M124.12 165.12h0.01M126.93 166.62h0.01M129.74 168.13h0.01M132.55 169.64h0.01M135.35 171.15h0.01M138.16 172.65h0.01M140.97 174.16h0.01M143.78 175.67h0.01M146.59 177.18h0.01" stroke="#d2d2d2" stroke-width="2.15" stroke-linecap="round" fill="none"/>
<path d="M215.02 121.75h0.01M217.78 122.66h0.01M220.53 123.56h0.01M223.28 124.47h0.01M226.04 125.37h0.01M210.85 123.79h0.01M213.61 124.73h0.01M216.36 125.66h0.01M219.12 126.59h0.01M221.88 127.52h0.01M209.44 126.77h0.01M212.2 127.73h0.01M214.96 128.68h0.01M217.71 129.64h0.01M220.47 130.6h0.01M205.27 128.78h0.01M208.03 129.77h0.01M210.79 130.75h0.01M213.55 131.73h0.01M216.31 132.72h0.01M203.85 131.78h0.01M206.62 132.79h0.01M209.38 133.8h0.01M212.14 134.81h0.01M214.91 135.82h0.01M199.68 133.77h0.01M202.45 134.81h0.01M205.21 135.85h0.01M207.98 136.88h0.01M210.74 137.92h0.01M198.27 136.8h0.01M201.04 137.86h0.01M203.81 138.92h0.01M206.57 139.99h0.01M209.34 141.05h0.01M194.09 138.76h0.01M196.86 139.85h0.01M199.63 140.94h0.01M202.4 142.03h0.01M205.17 143.12h0.01M192.69 141.82h0.01M195.46 142.93h0.01M198.23 144.05h0.01M201 145.16h0.01M203.78 146.27h0.01M188.51 143.75h0.01M191.28 144.9h0.01M194.06 146.04h0.01M196.83 147.18h0.01M199.61 148.32h0.01M187.1 146.83h0.01M189.88 148h0.01M192.66 149.17h0.01M195.44 150.33h0.01M198.21 151.5h0.01M182.92 148.74h0.01M185.7 149.94h0.01M188.48 151.13h0.01M191.26 152.32h0.01M194.04 153.52h0.01M181.52 151.85h0.01M184.3 153.07h0.01M187.08 154.29h0.01M189.87 155.51h0.01M192.65 156.73h0.01M177.33 153.73h0.01M180.12 154.98h0.01M182.9 156.23h0.01M185.69 157.47h0.01M188.47 158.72h0.01M175.93 156.87h0.01M178.72 158.14h0.01M181.51 159.41h0.01M184.3 160.68h0.01M187.08 161.95h0.01M171.75 158.72h0.01M174.54 160.02h0.01M177.33 161.32h0.01M180.12 162.62h0.01M182.91 163.92h0.01M170.35 161.88h0.01M173.14 163.21h0.01M175.93 164.53h0.01M178.73 165.85h0.01M181.52 167.18h0.01M166.16 163.71h0.01M168.95 165.07h0.01M171.75 166.42h0.01M174.54 167.77h0.01M177.34 169.12h0.01M164.77 166.9h0.01M167.56 168.27h0.01M170.36 169.65h0.01M173.16 171.03h0.01M175.95 172.4h0.01M160.57 168.7h0.01M163.37 170.11h0.01M166.17 171.51h0.01M168.97 172.91h0.01M171.77 174.32h0.01M159.18 171.91h0.01M161.98 173.34h0.01M164.79 174.77h0.01M167.59 176.2h0.01M170.39 177.63h0.01M154.99 173.69h0.01M157.79 175.15h0.01M160.6 176.61h0.01M163.4 178.06h0.01M166.2 179.52h0.01M153.6 176.93h0.01M156.4 178.41h0.01M159.21 179.89h0.01M162.02 181.38h0.01M164.82 182.86h0.01M149.4 178.68h0.01M152.21 180.19h0.01M155.02 181.7h0.01M157.83 183.21h0.01M160.64 184.72h0.01" stroke="#e6e6e6" stroke-width="2.45" stroke-linecap="round" fill="none"/>
<ellipse cx="227.42" cy="127.6" rx="2.7" ry="2.1" fill="#f4f4f4" stroke="#686868" stroke-width="1.35"/>
<ellipse cx="221.86" cy="132.88" rx="2.7" ry="2.1" fill="#f4f4f4" stroke="#686868" stroke-width="1.35"/>
<ellipse cx="216.3" cy="138.16" rx="2.7" ry="2.1" fill="#f4f4f4" stroke="#686868" stroke-width="1.35"/>
<ellipse cx="210.74" cy="143.44" rx="2.7" ry="2.1" fill="#f4f4f4" stroke="#686868" stroke-width="1.35"/>
<ellipse cx="205.18" cy="148.72" rx="2.7" ry="2.1" fill="#f4f4f4" stroke="#686868" stroke-width="1.35"/>
<ellipse cx="199.62" cy="153.99" rx="2.7" ry="2.1" fill="#f4f4f4" stroke="#686868" stroke-width="1.35"/>
<ellipse cx="194.06" cy="159.27" rx="2.7" ry="2.1" fill="#f4f4f4" stroke="#686868" stroke-width="1.35"/>
<ellipse cx="188.5" cy="164.55" rx="2.7" ry="2.1" fill="#f4f4f4" stroke="#686868" stroke-width="1.35"/>
<ellipse cx="182.94" cy="169.83" rx="2.7" ry="2.1" fill="#f4f4f4" stroke="#686868" stroke-width="1.35"/>
<ellipse cx="177.38" cy="175.11" rx="2.7" ry="2.1" fill="#f4f4f4" stroke="#686868" stroke-width="1.35"/>
<ellipse cx="171.82" cy="180.39" rx="2.7" ry="2.1" fill="#f4f4f4" stroke="#686868" stroke-width="1.35"/>
<ellipse cx="166.26" cy="185.67" rx="2.7" ry="2.1" fill="#f4f4f4" stroke="#686868" stroke-width="1.35"/>
<ellipse cx="228.47" cy="131.55" rx="2.7" ry="2.1" fill="#f4f4f4" stroke="#686868" stroke-width="1.35"/>
<ellipse cx="222.92" cy="136.91" rx="2.7" ry="2.1" fill="#f4f4f4" stroke="#686868" stroke-width="1.35"/>
<ellipse cx="217.37" cy="142.26" rx="2.7" ry="2.1" fill="#f4f4f4" stroke="#686868" stroke-width="1.35"/>
<ellipse cx="211.81" cy="147.61" rx="2.7" ry="2.1" fill="#f4f4f4" stroke="#686868" stroke-width="1.35"/>
<ellipse cx="206.26" cy="152.96" rx="2.7" ry="2.1" fill="#f4f4f4" stroke="#686868" stroke-width="1.35"/>
<ellipse cx="200.71" cy="158.31" rx="2.7" ry="2.1" fill="#f4f4f4" stroke="#686868" stroke-width="1.35"/>
<ellipse cx="195.16" cy="163.66" rx="2.7" ry="2.1" fill="#f4f4f4" stroke="#686868" stroke-width="1.35"/>
<ellipse cx="189.6" cy="169.02" rx="2.7" ry="2.1" fill="#f4f4f4" stroke="#686868" stroke-width="1.35"/>
<ellipse cx="184.05" cy="174.37" rx="2.7" ry="2.1" fill="#f4f4f4" stroke="#686868" stroke-width="1.35"/>
<ellipse cx="178.5" cy="179.72" rx="2.7" ry="2.1" fill="#f4f4f4" stroke="#686868" stroke-width="1.35"/>
<ellipse cx="172.94" cy="185.07" rx="2.7" ry="2.1" fill="#f4f4f4" stroke="#686868" stroke-width="1.35"/>
<ellipse cx="235.08" cy="130.16" rx="2.7" ry="2.1" fill="#f4f4f4" stroke="#686868" stroke-width="1.35"/>
<ellipse cx="229.54" cy="135.58" rx="2.7" ry="2.1" fill="#f4f4f4" stroke="#686868" stroke-width="1.35"/>
<ellipse cx="223.99" cy="141.01" rx="2.7" ry="2.1" fill="#f4f4f4" stroke="#686868" stroke-width="1.35"/>
<ellipse cx="218.45" cy="146.43" rx="2.7" ry="2.1" fill="#f4f4f4" stroke="#686868" stroke-width="1.35"/>
<ellipse cx="212.9" cy="151.86" rx="2.7" ry="2.1" fill="#f4f4f4" stroke="#686868" stroke-width="1.35"/>
<ellipse cx="207.35" cy="157.28" rx="2.7" ry="2.1" fill="#f4f4f4" stroke="#686868" stroke-width="1.35"/>
<ellipse cx="201.81" cy="162.7" rx="2.7" ry="2.1" fill="#f4f4f4" stroke="#686868" stroke-width="1.35"/>
<ellipse cx="196.26" cy="168.13" rx="2.7" ry="2.1" fill="#f4f4f4" stroke="#686868" stroke-width="1.35"/>
<ellipse cx="190.71" cy="173.55" rx="2.7" ry="2.1" fill="#f4f4f4" stroke="#686868" stroke-width="1.35"/>
<ellipse cx="185.17" cy="178.98" rx="2.7" ry="2.1" fill="#f4f4f4" stroke="#686868" stroke-width="1.35"/>
<ellipse cx="179.62" cy="184.4" rx="2.7" ry="2.1" fill="#f4f4f4" stroke="#686868" stroke-width="1.35"/>
<ellipse cx="174.08" cy="189.83" rx="2.7" ry="2.1" fill="#f4f4f4" stroke="#686868" stroke-width="1.35"/>
<ellipse cx="236.15" cy="134.18" rx="2.7" ry="2.1" fill="#f4f4f4" stroke="#686868" stroke-width="1.35"/>
<ellipse cx="230.61" cy="139.68" rx="2.7" ry="2.1" fill="#f4f4f4" stroke="#686868" stroke-width="1.35"/>
<ellipse cx="225.07" cy="145.18" rx="2.7" ry="2.1" fill="#f4f4f4" stroke="#686868" stroke-width="1.35"/>
<ellipse cx="219.53" cy="150.68" rx="2.7" ry="2.1" fill="#f4f4f4" stroke="#686868" stroke-width="1.35"/>
<ellipse cx="213.99" cy="156.17" rx="2.7" ry="2.1" fill="#f4f4f4" stroke="#686868" stroke-width="1.35"/>
<ellipse cx="208.45" cy="161.67" rx="2.7" ry="2.1" fill="#f4f4f4" stroke="#686868" stroke-width="1.35"/>
<ellipse cx="202.91" cy="167.17" rx="2.7" ry="2.1" fill="#f4f4f4" stroke="#686868" stroke-width="1.35"/>
<ellipse cx="197.37" cy="172.67" rx="2.7" ry="2.1" fill="#f4f4f4" stroke="#686868" stroke-width="1.35"/>
<ellipse cx="191.83" cy="178.16" rx="2.7" ry="2.1" fill="#f4f4f4" stroke="#686868" stroke-width="1.35"/>
<ellipse cx="186.29" cy="183.66" rx="2.7" ry="2.1" fill="#f4f4f4" stroke="#686868" stroke-width="1.35"/>
<ellipse cx="180.75" cy="189.16" rx="2.7" ry="2.1" fill="#f4f4f4" stroke="#686868" stroke-width="1.35"/>
<ellipse cx="160.3" cy="101.9" rx="14.6" ry="10.2" fill="#4fa67c" fill-opacity="0.55" clip-path="url(#shc0)"/>
<path d="M109.52 81.42 q2.29 -1.14 2.67 0.76 q0 1.53 -1.91 2.1 q-1.14 1.14 1.53 2.48" fill="none" stroke="#b8425a" stroke-width="1.24" stroke-linecap="round" stroke-opacity="0.9"/>
<path d="M133.24 89.01 q2.36 -1.18 2.76 0.79 q0 1.58 -1.97 2.17 q-1.18 1.18 1.58 2.56" fill="none" stroke="#b8425a" stroke-width="1.28" stroke-linecap="round" stroke-opacity="0.9"/>
<path d="M159.61 97.45 q2.45 -1.22 2.86 0.82 q0 1.63 -2.04 2.24 q-1.22 1.22 1.63 2.65" fill="none" stroke="#b8425a" stroke-width="1.33" stroke-linecap="round" stroke-opacity="0.9"/>
<path d="M189.93 107.15 q2.54 -1.27 2.97 0.85 q0 1.7 -2.12 2.33 q-1.27 1.27 1.7 2.76" fill="none" stroke="#b8425a" stroke-width="1.38" stroke-linecap="round" stroke-opacity="0.9"/>
<path d="M89.06 92.22 q2.42 -1.21 2.82 0.81 q0 1.61 -2.01 2.21 q-1.21 1.21 1.61 2.62" fill="none" stroke="#b8425a" stroke-width="1.31" stroke-linecap="round" stroke-opacity="0.9"/>
<path d="M112.94 101.44 q2.49 -1.25 2.91 0.83 q0 1.66 -2.08 2.28 q-1.25 1.25 1.66 2.7" fill="none" stroke="#b8425a" stroke-width="1.35" stroke-linecap="round" stroke-opacity="0.9"/>
<path d="M139.47 111.69 q2.58 -1.29 3 0.86 q0 1.72 -2.15 2.36 q-1.29 1.29 1.72 2.79" fill="none" stroke="#b8425a" stroke-width="1.39" stroke-linecap="round" stroke-opacity="0.9"/>
<path d="M169.98 123.47 q2.67 -1.34 3.12 0.89 q0 1.78 -2.23 2.45 q-1.34 1.34 1.78 2.89" fill="none" stroke="#b8425a" stroke-width="1.45" stroke-linecap="round" stroke-opacity="0.9"/>
<path d="M65.19 104.88 q2.56 -1.28 2.99 0.85 q0 1.71 -2.14 2.35 q-1.28 1.28 1.71 2.78" fill="none" stroke="#b8425a" stroke-width="1.39" stroke-linecap="round" stroke-opacity="0.9"/>
<path d="M89.25 116.01 q2.64 -1.32 3.08 0.88 q0 1.76 -2.2 2.42 q-1.32 1.32 1.76 2.86" fill="none" stroke="#b8425a" stroke-width="1.43" stroke-linecap="round" stroke-opacity="0.9"/>
<path d="M115.98 128.37 q2.72 -1.36 3.18 0.91 q0 1.82 -2.27 2.5 q-1.36 1.36 1.82 2.95" fill="none" stroke="#b8425a" stroke-width="1.48" stroke-linecap="round" stroke-opacity="0.9"/>
<path d="M146.71 142.58 q2.82 -1.41 3.29 0.94 q0 1.88 -2.35 2.59 q-1.41 1.41 1.88 3.06" fill="none" stroke="#b8425a" stroke-width="1.53" stroke-linecap="round" stroke-opacity="0.9"/>
<ellipse cx="158.5" cy="283" rx="14.8" ry="10.6" fill="#b9d6c6" fill-opacity="0.9"/>
<clipPath id="shc1"><polygon points="108,266.6 240.5,308 173.6,373.2 39.6,300.7"/></clipPath>
<polygon points="108,266.6 227.91,304.07 160.87,366.31 39.6,300.7" fill="#7f7f7f"/>
<path d="M108 266.6L227.91 304.07M105.15 268.02L225.12 306.66M102.3 269.44L222.33 309.25M99.45 270.86L219.53 311.85M96.6 272.28L216.74 314.44M93.75 273.7L213.95 317.03M90.9 275.12L211.15 319.63M88.05 276.55L208.36 322.22M85.2 277.97L205.57 324.82M82.35 279.39L202.77 327.41M79.5 280.81L199.98 330M76.65 282.23L197.18 332.6M73.8 283.65L194.39 335.19M70.95 285.07L191.6 337.78M68.1 286.49L188.8 340.38M65.25 287.91L186.01 342.97M62.4 289.33L183.22 345.56M59.55 290.75L180.42 348.16M56.7 292.18L177.63 350.75M53.85 293.6L174.84 353.34M51 295.02L172.04 355.94M48.15 296.44L169.25 358.53M45.3 297.86L166.46 361.13M42.45 299.28L163.66 363.72M39.6 300.7L160.87 366.31" stroke="#686868" stroke-width="0.6" fill="none"/>
<path d="M107.27 267.53h0.01M110.03 268.41h0.01M112.79 269.28h0.01M115.55 270.16h0.01M118.31 271.03h0.01M121.07 271.91h0.01M123.83 272.79h0.01M126.59 273.66h0.01M129.35 274.54h0.01M132.11 275.41h0.01M134.88 276.29h0.01M137.64 277.17h0.01M140.4 278.04h0.01M143.16 278.92h0.01M145.92 279.79h0.01M148.68 280.67h0.01M151.44 281.55h0.01M154.2 282.42h0.01M156.96 283.3h0.01M159.73 284.17h0.01M162.49 285.05h0.01M165.25 285.93h0.01M168.01 286.8h0.01M170.77 287.68h0.01M173.53 288.55h0.01M176.29 289.43h0.01M179.05 290.31h0.01M181.81 291.18h0.01M184.58 292.06h0.01M187.34 292.93h0.01M190.1 293.81h0.01M192.86 294.69h0.01M195.62 295.56h0.01M198.38 296.44h0.01M201.14 297.31h0.01M203.9 298.19h0.01M206.66 299.07h0.01M209.42 299.94h0.01M212.19 300.82h0.01M105.8 269.41h0.01M108.56 270.31h0.01M111.32 271.21h0.01M114.08 272.12h0.01M116.85 273.02h0.01M119.61 273.92h0.01M122.37 274.83h0.01M125.13 275.73h0.01M127.9 276.63h0.01M130.66 277.54h0.01M133.42 278.44h0.01M136.18 279.34h0.01M138.95 280.24h0.01M141.71 281.15h0.01M144.47 282.05h0.01M147.23 282.95h0.01M149.99 283.86h0.01M152.76 284.76h0.01M155.52 285.66h0.01M158.28 286.57h0.01M161.04 287.47h0.01M163.81 288.37h0.01M166.57 289.27h0.01M169.33 290.18h0.01M172.09 291.08h0.01M174.86 291.98h0.01M177.62 292.89h0.01M180.38 293.79h0.01M183.14 294.69h0.01M185.91 295.6h0.01M188.67 296.5h0.01M191.43 297.4h0.01M194.19 298.3h0.01M196.95 299.21h0.01M199.72 300.11h0.01M202.48 301.01h0.01M205.24 301.92h0.01M208 302.82h0.01M101.57 270.38h0.01M104.33 271.31h0.01M107.09 272.24h0.01M109.86 273.17h0.01M112.62 274.1h0.01M115.38 275.03h0.01M118.15 275.96h0.01M120.91 276.89h0.01M123.68 277.82h0.01M126.44 278.75h0.01M129.2 279.68h0.01M131.97 280.61h0.01M134.73 281.54h0.01M137.49 282.47h0.01M140.26 283.4h0.01M143.02 284.33h0.01M145.78 285.26h0.01M148.55 286.19h0.01M151.31 287.12h0.01M154.08 288.05h0.01M156.84 288.98h0.01M159.6 289.91h0.01M162.37 290.84h0.01M165.13 291.77h0.01M167.89 292.7h0.01M170.66 293.63h0.01M173.42 294.56h0.01M176.19 295.49h0.01M178.95 296.42h0.01M181.71 297.35h0.01M184.48 298.28h0.01M187.24 299.21h0.01M190 300.14h0.01M192.77 301.07h0.01M195.53 302h0.01M198.29 302.93h0.01M201.06 303.86h0.01M203.82 304.79h0.01M206.59 305.72h0.01M100.1 272.29h0.01M102.86 273.25h0.01M105.63 274.2h0.01M108.39 275.16h0.01M111.16 276.12h0.01M113.92 277.08h0.01M116.69 278.03h0.01M119.45 278.99h0.01M122.22 279.95h0.01M124.98 280.9h0.01M127.75 281.86h0.01M130.51 282.82h0.01M133.28 283.77h0.01M136.04 284.73h0.01M138.81 285.69h0.01M141.57 286.65h0.01M144.34 287.6h0.01M147.1 288.56h0.01M149.87 289.52h0.01M152.63 290.47h0.01M155.4 291.43h0.01M158.16 292.39h0.01M160.93 293.34h0.01M163.69 294.3h0.01M166.46 295.26h0.01M169.22 296.22h0.01M171.99 297.17h0.01M174.75 298.13h0.01M177.52 299.09h0.01M180.28 300.04h0.01M183.05 301h0.01M185.81 301.96h0.01M188.58 302.91h0.01M191.34 303.87h0.01M194.11 304.83h0.01M196.87 305.79h0.01M199.64 306.74h0.01M202.4 307.7h0.01M95.87 273.24h0.01M98.63 274.22h0.01M101.4 275.21h0.01M104.17 276.19h0.01M106.93 277.18h0.01M109.7 278.16h0.01M112.46 279.14h0.01M115.23 280.13h0.01M118 281.11h0.01M120.76 282.1h0.01M123.53 283.08h0.01M126.3 284.06h0.01M129.06 285.05h0.01M131.83 286.03h0.01M134.59 287.02h0.01M137.36 288h0.01M140.13 288.98h0.01M142.89 289.97h0.01M145.66 290.95h0.01M148.43 291.94h0.01M151.19 292.92h0.01M153.96 293.9h0.01M156.72 294.89h0.01M159.49 295.87h0.01M162.26 296.86h0.01M165.02 297.84h0.01M167.79 298.82h0.01M170.56 299.81h0.01M173.32 300.79h0.01M176.09 301.78h0.01M178.85 302.76h0.01M181.62 303.74h0.01M184.39 304.73h0.01M187.15 305.71h0.01M189.92 306.7h0.01M192.69 307.68h0.01M195.45 308.66h0.01M198.22 309.65h0.01M200.99 310.63h0.01M94.4 275.17h0.01M97.17 276.18h0.01M99.94 277.19h0.01M102.7 278.21h0.01M105.47 279.22h0.01M108.24 280.23h0.01M111.01 281.24h0.01M113.77 282.25h0.01M116.54 283.26h0.01M119.31 284.27h0.01M122.08 285.28h0.01M124.84 286.29h0.01M127.61 287.3h0.01M130.38 288.32h0.01M133.15 289.33h0.01M135.91 290.34h0.01M138.68 291.35h0.01M141.45 292.36h0.01M144.22 293.37h0.01M146.98 294.38h0.01M149.75 295.39h0.01M152.52 296.4h0.01M155.29 297.41h0.01M158.05 298.43h0.01M160.82 299.44h0.01M163.59 300.45h0.01M166.36 301.46h0.01M169.13 302.47h0.01M171.89 303.48h0.01M174.66 304.49h0.01M177.43 305.5h0.01M180.2 306.51h0.01M182.96 307.52h0.01M185.73 308.54h0.01M188.5 309.55h0.01M191.27 310.56h0.01M194.03 311.57h0.01M196.8 312.58h0.01M90.17 276.09h0.01M92.94 277.13h0.01M95.7 278.17h0.01M98.47 279.21h0.01M101.24 280.25h0.01M104.01 281.28h0.01M106.78 282.32h0.01M109.55 283.36h0.01M112.32 284.4h0.01M115.09 285.44h0.01M117.86 286.47h0.01M120.62 287.51h0.01M123.39 288.55h0.01M126.16 289.59h0.01M128.93 290.63h0.01M131.7 291.66h0.01M134.47 292.7h0.01M137.24 293.74h0.01M140.01 294.78h0.01M142.78 295.82h0.01M145.54 296.85h0.01M148.31 297.89h0.01M151.08 298.93h0.01M153.85 299.97h0.01M156.62 301.01h0.01M159.39 302.04h0.01M162.16 303.08h0.01M164.93 304.12h0.01M167.7 305.16h0.01M170.46 306.2h0.01M173.23 307.23h0.01M176 308.27h0.01M178.77 309.31h0.01M181.54 310.35h0.01M184.31 311.39h0.01M187.08 312.42h0.01M189.85 313.46h0.01M192.62 314.5h0.01M195.38 315.54h0.01M88.7 278.05h0.01M91.47 279.12h0.01M94.24 280.18h0.01M97.01 281.25h0.01M99.78 282.31h0.01M102.55 283.38h0.01M105.32 284.44h0.01M108.09 285.51h0.01M110.86 286.57h0.01M113.63 287.64h0.01M116.4 288.7h0.01M119.17 289.77h0.01M121.94 290.83h0.01M124.72 291.9h0.01M127.49 292.96h0.01M130.26 294.03h0.01M133.03 295.09h0.01M135.8 296.16h0.01M138.57 297.22h0.01M141.34 298.29h0.01M144.11 299.35h0.01M146.88 300.42h0.01M149.65 301.48h0.01M152.42 302.55h0.01M155.19 303.61h0.01M157.96 304.68h0.01M160.73 305.74h0.01M163.5 306.81h0.01M166.27 307.87h0.01M169.04 308.94h0.01M171.81 310h0.01M174.58 311.07h0.01M177.35 312.13h0.01M180.12 313.2h0.01M182.89 314.26h0.01M185.66 315.33h0.01M188.43 316.39h0.01M191.2 317.46h0.01M84.47 278.95h0.01M87.24 280.04h0.01M90.01 281.13h0.01M92.78 282.23h0.01M95.55 283.32h0.01M98.33 284.41h0.01M101.1 285.5h0.01M103.87 286.59h0.01M106.64 287.69h0.01M109.41 288.78h0.01M112.18 289.87h0.01M114.95 290.96h0.01M117.73 292.05h0.01M120.5 293.15h0.01M123.27 294.24h0.01M126.04 295.33h0.01M128.81 296.42h0.01M131.58 297.51h0.01M134.35 298.61h0.01M137.13 299.7h0.01M139.9 300.79h0.01M142.67 301.88h0.01M145.44 302.97h0.01M148.21 304.07h0.01M150.98 305.16h0.01M153.75 306.25h0.01M156.53 307.34h0.01M159.3 308.43h0.01M162.07 309.53h0.01M164.84 310.62h0.01M167.61 311.71h0.01M170.38 312.8h0.01M173.16 313.89h0.01M175.93 314.99h0.01M178.7 316.08h0.01M181.47 317.17h0.01M184.24 318.26h0.01M187.01 319.35h0.01M189.78 320.44h0.01M83 280.94h0.01M85.78 282.06h0.01M88.55 283.18h0.01M91.32 284.29h0.01M94.1 285.41h0.01M96.87 286.53h0.01M99.64 287.65h0.01M102.41 288.77h0.01M105.19 289.89h0.01M107.96 291.01h0.01M110.73 292.13h0.01M113.51 293.25h0.01M116.28 294.36h0.01M119.05 295.48h0.01M121.82 296.6h0.01M124.6 297.72h0.01M127.37 298.84h0.01M130.14 299.96h0.01M132.91 301.08h0.01M135.69 302.2h0.01M138.46 303.32h0.01M141.23 304.44h0.01M144.01 305.55h0.01M146.78 306.67h0.01M149.55 307.79h0.01M152.32 308.91h0.01M155.1 310.03h0.01M157.87 311.15h0.01M160.64 312.27h0.01M163.42 313.39h0.01M166.19 314.51h0.01M168.96 315.63h0.01M171.73 316.74h0.01M174.51 317.86h0.01M177.28 318.98h0.01M180.05 320.1h0.01M182.82 321.22h0.01M185.6 322.34h0.01M78.77 281.81h0.01M81.54 282.95h0.01M84.32 284.1h0.01M87.09 285.24h0.01M89.86 286.39h0.01M92.64 287.54h0.01M95.41 288.68h0.01M98.19 289.83h0.01M100.96 290.97h0.01M103.74 292.12h0.01M106.51 293.26h0.01M109.28 294.41h0.01M112.06 295.56h0.01M114.83 296.7h0.01M117.61 297.85h0.01M120.38 298.99h0.01M123.15 300.14h0.01M125.93 301.29h0.01M128.7 302.43h0.01M131.48 303.58h0.01M134.25 304.72h0.01M137.02 305.87h0.01M139.8 307.02h0.01M142.57 308.16h0.01M145.35 309.31h0.01M148.12 310.45h0.01M150.89 311.6h0.01M153.67 312.75h0.01M156.44 313.89h0.01M159.22 315.04h0.01M161.99 316.18h0.01M164.77 317.33h0.01M167.54 318.48h0.01M170.31 319.62h0.01M173.09 320.77h0.01M175.86 321.91h0.01M178.64 323.06h0.01M181.41 324.21h0.01M184.18 325.35h0.01M77.31 283.82h0.01M80.08 284.99h0.01M82.86 286.17h0.01M85.63 287.34h0.01M88.41 288.51h0.01M91.18 289.68h0.01M93.96 290.86h0.01M96.73 292.03h0.01M99.51 293.2h0.01M102.29 294.38h0.01M105.06 295.55h0.01M107.84 296.72h0.01M110.61 297.89h0.01M113.39 299.07h0.01M116.16 300.24h0.01M118.94 301.41h0.01M121.71 302.59h0.01M124.49 303.76h0.01M127.26 304.93h0.01M130.04 306.11h0.01M132.81 307.28h0.01M135.59 308.45h0.01M138.37 309.62h0.01M141.14 310.8h0.01M143.92 311.97h0.01M146.69 313.14h0.01M149.47 314.32h0.01M152.24 315.49h0.01M155.02 316.66h0.01M157.79 317.84h0.01M160.57 319.01h0.01M163.34 320.18h0.01M166.12 321.35h0.01M168.89 322.53h0.01M171.67 323.7h0.01M174.45 324.87h0.01M177.22 326.05h0.01M180 327.22h0.01M73.07 284.66h0.01M75.85 285.86h0.01M78.62 287.06h0.01M81.4 288.26h0.01M84.18 289.46h0.01M86.95 290.66h0.01M89.73 291.86h0.01M92.51 293.06h0.01M95.28 294.26h0.01M98.06 295.46h0.01M100.84 296.66h0.01M103.61 297.86h0.01M106.39 299.06h0.01M109.17 300.26h0.01M111.94 301.46h0.01M114.72 302.66h0.01M117.5 303.86h0.01M120.27 305.06h0.01M123.05 306.26h0.01M125.83 307.46h0.01M128.6 308.66h0.01M131.38 309.86h0.01M134.16 311.06h0.01M136.93 312.26h0.01M139.71 313.46h0.01M142.49 314.66h0.01M145.26 315.86h0.01M148.04 317.06h0.01M150.82 318.26h0.01M153.59 319.46h0.01M156.37 320.66h0.01M159.15 321.86h0.01M161.92 323.06h0.01M164.7 324.26h0.01M167.48 325.46h0.01M170.25 326.66h0.01M173.03 327.86h0.01M175.81 329.06h0.01M178.58 330.26h0.01M71.61 286.7h0.01M74.39 287.93h0.01M77.16 289.16h0.01M79.94 290.38h0.01M82.72 291.61h0.01M85.5 292.84h0.01M88.28 294.06h0.01M91.05 295.29h0.01M93.83 296.52h0.01M96.61 297.74h0.01M99.39 298.97h0.01M102.17 300.2h0.01M104.94 301.42h0.01M107.72 302.65h0.01M110.5 303.88h0.01M113.28 305.11h0.01M116.06 306.33h0.01M118.83 307.56h0.01M121.61 308.79h0.01M124.39 310.01h0.01M127.17 311.24h0.01M129.95 312.47h0.01M132.72 313.69h0.01M135.5 314.92h0.01M138.28 316.15h0.01M141.06 317.38h0.01M143.84 318.6h0.01M146.61 319.83h0.01M149.39 321.06h0.01M152.17 322.28h0.01M154.95 323.51h0.01M157.73 324.74h0.01M160.5 325.96h0.01M163.28 327.19h0.01M166.06 328.42h0.01M168.84 329.64h0.01M171.62 330.87h0.01M174.39 332.1h0.01M67.37 287.52h0.01M70.15 288.77h0.01M72.93 290.02h0.01M75.71 291.28h0.01M78.49 292.53h0.01M81.27 293.79h0.01M84.05 295.04h0.01M86.82 296.29h0.01M89.6 297.55h0.01M92.38 298.8h0.01M95.16 300.06h0.01M97.94 301.31h0.01M100.72 302.56h0.01M103.5 303.82h0.01M106.28 305.07h0.01M109.06 306.32h0.01M111.84 307.58h0.01M114.62 308.83h0.01M117.4 310.09h0.01M120.18 311.34h0.01M122.96 312.59h0.01M125.74 313.85h0.01M128.51 315.1h0.01M131.29 316.36h0.01M134.07 317.61h0.01M136.85 318.86h0.01M139.63 320.12h0.01M142.41 321.37h0.01M145.19 322.63h0.01M147.97 323.88h0.01M150.75 325.13h0.01M153.53 326.39h0.01M156.31 327.64h0.01M159.09 328.9h0.01M161.87 330.15h0.01M164.65 331.4h0.01M167.42 332.66h0.01M170.2 333.91h0.01M172.98 335.17h0.01M65.91 289.58h0.01M68.69 290.86h0.01M71.47 292.15h0.01M74.25 293.43h0.01M77.03 294.71h0.01M79.81 295.99h0.01M82.59 297.27h0.01M85.37 298.55h0.01M88.16 299.83h0.01M90.94 301.11h0.01M93.72 302.39h0.01M96.5 303.67h0.01M99.28 304.95h0.01M102.06 306.24h0.01M104.84 307.52h0.01M107.62 308.8h0.01M110.4 310.08h0.01M113.18 311.36h0.01M115.96 312.64h0.01M118.74 313.92h0.01M121.52 315.2h0.01M124.3 316.48h0.01M127.08 317.76h0.01M129.86 319.05h0.01M132.64 320.33h0.01M135.43 321.61h0.01M138.21 322.89h0.01M140.99 324.17h0.01M143.77 325.45h0.01M146.55 326.73h0.01M149.33 328.01h0.01M152.11 329.29h0.01M154.89 330.57h0.01M157.67 331.85h0.01M160.45 333.14h0.01M163.23 334.42h0.01M166.01 335.7h0.01M168.79 336.98h0.01M61.67 290.37h0.01M64.45 291.68h0.01M67.23 292.99h0.01M70.02 294.29h0.01M72.8 295.6h0.01M75.58 296.91h0.01M78.36 298.22h0.01M81.14 299.53h0.01M83.93 300.83h0.01M86.71 302.14h0.01M89.49 303.45h0.01M92.27 304.76h0.01M95.05 306.07h0.01M97.84 307.37h0.01M100.62 308.68h0.01M103.4 309.99h0.01M106.18 311.3h0.01M108.96 312.61h0.01M111.74 313.91h0.01M114.53 315.22h0.01M117.31 316.53h0.01M120.09 317.84h0.01M122.87 319.15h0.01M125.65 320.45h0.01M128.44 321.76h0.01M131.22 323.07h0.01M134 324.38h0.01M136.78 325.69h0.01M139.56 326.99h0.01M142.35 328.3h0.01M145.13 329.61h0.01M147.91 330.92h0.01M150.69 332.22h0.01M153.47 333.53h0.01M156.26 334.84h0.01M159.04 336.15h0.01M161.82 337.46h0.01M164.6 338.76h0.01M167.38 340.07h0.01M60.21 292.47h0.01M63 293.8h0.01M65.78 295.14h0.01M68.56 296.47h0.01M71.35 297.81h0.01M74.13 299.14h0.01M76.91 300.48h0.01M79.69 301.81h0.01M82.48 303.15h0.01M85.26 304.48h0.01M88.04 305.82h0.01M90.83 307.15h0.01M93.61 308.49h0.01M96.39 309.82h0.01M99.18 311.15h0.01M101.96 312.49h0.01M104.74 313.82h0.01M107.53 315.16h0.01M110.31 316.49h0.01M113.09 317.83h0.01M115.88 319.16h0.01M118.66 320.5h0.01M121.44 321.83h0.01M124.23 323.17h0.01M127.01 324.5h0.01M129.79 325.84h0.01M132.58 327.17h0.01M135.36 328.51h0.01M138.14 329.84h0.01M140.93 331.18h0.01M143.71 332.51h0.01M146.49 333.85h0.01M149.27 335.18h0.01M152.06 336.52h0.01M154.84 337.85h0.01M157.62 339.19h0.01M160.41 340.52h0.01M163.19 341.86h0.01M55.97 293.23h0.01M58.76 294.59h0.01M61.54 295.95h0.01M64.32 297.31h0.01M67.11 298.67h0.01M69.89 300.04h0.01M72.68 301.4h0.01M75.46 302.76h0.01M78.25 304.12h0.01M81.03 305.48h0.01M83.82 306.85h0.01M86.6 308.21h0.01M89.39 309.57h0.01M92.17 310.93h0.01M94.95 312.29h0.01M97.74 313.65h0.01M100.52 315.02h0.01M103.31 316.38h0.01M106.09 317.74h0.01M108.88 319.1h0.01M111.66 320.46h0.01M114.45 321.83h0.01M117.23 323.19h0.01M120.01 324.55h0.01M122.8 325.91h0.01M125.58 327.27h0.01M128.37 328.64h0.01M131.15 330h0.01M133.94 331.36h0.01M136.72 332.72h0.01M139.51 334.08h0.01M142.29 335.45h0.01M145.08 336.81h0.01M147.86 338.17h0.01M150.64 339.53h0.01M153.43 340.89h0.01M156.21 342.26h0.01M159 343.62h0.01M161.78 344.98h0.01M54.51 295.35h0.01M57.3 296.74h0.01M60.09 298.13h0.01M62.87 299.51h0.01M65.66 300.9h0.01M68.44 302.29h0.01M71.23 303.68h0.01M74.02 305.07h0.01M76.8 306.46h0.01M79.59 307.85h0.01M82.37 309.24h0.01M85.16 310.63h0.01M87.94 312.02h0.01M90.73 313.4h0.01M93.52 314.79h0.01M96.3 316.18h0.01M99.09 317.57h0.01M101.87 318.96h0.01M104.66 320.35h0.01M107.44 321.74h0.01M110.23 323.13h0.01M113.02 324.52h0.01M115.8 325.9h0.01M118.59 327.29h0.01M121.37 328.68h0.01M124.16 330.07h0.01M126.95 331.46h0.01M129.73 332.85h0.01M132.52 334.24h0.01M135.3 335.63h0.01M138.09 337.02h0.01M140.87 338.4h0.01M143.66 339.79h0.01M146.45 341.18h0.01M149.23 342.57h0.01M152.02 343.96h0.01M154.8 345.35h0.01M157.59 346.74h0.01M50.27 296.08h0.01M53.06 297.5h0.01M55.85 298.91h0.01M58.63 300.33h0.01M61.42 301.74h0.01M64.21 303.16h0.01M66.99 304.58h0.01M69.78 305.99h0.01M72.57 307.41h0.01M75.36 308.82h0.01M78.14 310.24h0.01M80.93 311.66h0.01M83.72 313.07h0.01M86.5 314.49h0.01M89.29 315.9h0.01M92.08 317.32h0.01M94.87 318.74h0.01M97.65 320.15h0.01M100.44 321.57h0.01M103.23 322.98h0.01M106.01 324.4h0.01M108.8 325.82h0.01M111.59 327.23h0.01M114.38 328.65h0.01M117.16 330.06h0.01M119.95 331.48h0.01M122.74 332.9h0.01M125.52 334.31h0.01M128.31 335.73h0.01M131.1 337.14h0.01M133.89 338.56h0.01M136.67 339.97h0.01M139.46 341.39h0.01M142.25 342.81h0.01M145.03 344.22h0.01M147.82 345.64h0.01M150.61 347.05h0.01M153.39 348.47h0.01M156.18 349.89h0.01M48.82 298.23h0.01M51.6 299.67h0.01M54.39 301.12h0.01M57.18 302.56h0.01M59.97 304h0.01M62.76 305.44h0.01M65.55 306.89h0.01M68.34 308.33h0.01M71.12 309.77h0.01M73.91 311.22h0.01M76.7 312.66h0.01M79.49 314.1h0.01M82.28 315.55h0.01M85.07 316.99h0.01M87.85 318.43h0.01M90.64 319.87h0.01M93.43 321.32h0.01M96.22 322.76h0.01M99.01 324.2h0.01M101.8 325.65h0.01M104.58 327.09h0.01M107.37 328.53h0.01M110.16 329.97h0.01M112.95 331.42h0.01M115.74 332.86h0.01M118.53 334.3h0.01M121.32 335.75h0.01M124.1 337.19h0.01M126.89 338.63h0.01M129.68 340.07h0.01M132.47 341.52h0.01M135.26 342.96h0.01M138.05 344.4h0.01M140.83 345.85h0.01M143.62 347.29h0.01M146.41 348.73h0.01M149.2 350.18h0.01M151.99 351.62h0.01M44.57 298.94h0.01M47.36 300.41h0.01M50.15 301.88h0.01M52.94 303.35h0.01M55.73 304.82h0.01M58.52 306.29h0.01M61.31 307.76h0.01M64.1 309.23h0.01M66.89 310.7h0.01M69.68 312.17h0.01M72.47 313.64h0.01M75.26 315.11h0.01M78.05 316.58h0.01M80.84 318.05h0.01M83.63 319.52h0.01M86.42 320.99h0.01M89.21 322.45h0.01M92 323.92h0.01M94.79 325.39h0.01M97.58 326.86h0.01M100.37 328.33h0.01M103.16 329.8h0.01M105.95 331.27h0.01M108.74 332.74h0.01M111.53 334.21h0.01M114.32 335.68h0.01M117.1 337.15h0.01M119.89 338.62h0.01M122.68 340.09h0.01M125.47 341.56h0.01M128.26 343.03h0.01M131.05 344.5h0.01M133.84 345.97h0.01M136.63 347.44h0.01M139.42 348.91h0.01M142.21 350.38h0.01M145 351.85h0.01M147.79 353.32h0.01M150.58 354.79h0.01M43.12 301.11h0.01M45.91 302.61h0.01M48.7 304.11h0.01M51.49 305.6h0.01M54.28 307.1h0.01M57.07 308.6h0.01M59.86 310.09h0.01M62.66 311.59h0.01M65.45 313.09h0.01M68.24 314.58h0.01M71.03 316.08h0.01M73.82 317.58h0.01M76.61 319.08h0.01M79.4 320.57h0.01M82.19 322.07h0.01M84.98 323.57h0.01M87.77 325.06h0.01M90.57 326.56h0.01M93.36 328.06h0.01M96.15 329.55h0.01M98.94 331.05h0.01M101.73 332.55h0.01M104.52 334.04h0.01M107.31 335.54h0.01M110.1 337.04h0.01M112.89 338.54h0.01M115.68 340.03h0.01M118.48 341.53h0.01M121.27 343.03h0.01M124.06 344.52h0.01M126.85 346.02h0.01M129.64 347.52h0.01M132.43 349.01h0.01M135.22 350.51h0.01M138.01 352.01h0.01M140.8 353.5h0.01M143.59 355h0.01M146.39 356.5h0.01" stroke="#d2d2d2" stroke-width="2.15" stroke-linecap="round" fill="none"/>
<path d="M214.95 301.69h0.01M217.71 302.57h0.01M220.47 303.45h0.01M223.23 304.32h0.01M225.99 305.2h0.01M210.77 303.72h0.01M213.53 304.63h0.01M216.29 305.53h0.01M219.05 306.43h0.01M221.82 307.33h0.01M209.35 306.65h0.01M212.11 307.58h0.01M214.88 308.51h0.01M217.64 309.44h0.01M220.4 310.37h0.01M205.17 308.66h0.01M207.93 309.61h0.01M210.7 310.57h0.01M213.46 311.53h0.01M216.23 312.48h0.01M203.75 311.62h0.01M206.52 312.6h0.01M209.28 313.58h0.01M212.05 314.57h0.01M214.82 315.55h0.01M199.57 313.59h0.01M202.34 314.6h0.01M205.1 315.61h0.01M207.87 316.62h0.01M210.64 317.63h0.01M198.15 316.58h0.01M200.92 317.61h0.01M203.69 318.65h0.01M206.46 319.69h0.01M209.23 320.73h0.01M193.97 318.52h0.01M196.74 319.59h0.01M199.51 320.65h0.01M202.28 321.72h0.01M205.05 322.78h0.01M192.56 321.54h0.01M195.33 322.63h0.01M198.1 323.72h0.01M200.87 324.81h0.01M203.64 325.9h0.01M188.37 323.46h0.01M191.14 324.58h0.01M193.92 325.7h0.01M196.69 326.81h0.01M199.46 327.93h0.01M186.96 326.5h0.01M189.73 327.64h0.01M192.51 328.79h0.01M195.28 329.94h0.01M198.05 331.08h0.01M182.77 328.39h0.01M185.55 329.56h0.01M188.32 330.74h0.01M191.1 331.91h0.01M193.87 333.08h0.01M181.36 331.46h0.01M184.14 332.66h0.01M186.91 333.86h0.01M189.69 335.06h0.01M192.47 336.26h0.01M177.17 333.33h0.01M179.95 334.55h0.01M182.73 335.78h0.01M185.51 337.01h0.01M188.28 338.23h0.01M175.76 336.42h0.01M178.54 337.67h0.01M181.32 338.93h0.01M184.1 340.18h0.01M186.88 341.44h0.01M171.57 338.26h0.01M174.35 339.54h0.01M177.13 340.82h0.01M179.92 342.1h0.01M182.7 343.38h0.01M170.16 341.38h0.01M172.95 342.69h0.01M175.73 344h0.01M178.51 345.3h0.01M181.29 346.61h0.01M165.97 343.19h0.01M168.76 344.53h0.01M171.54 345.86h0.01M174.32 347.2h0.01M177.11 348.53h0.01M164.57 346.34h0.01M167.35 347.7h0.01M170.14 349.07h0.01M172.92 350.43h0.01M175.7 351.79h0.01M160.38 348.13h0.01M163.16 349.52h0.01M165.95 350.91h0.01M168.73 352.29h0.01M171.52 353.68h0.01M158.97 351.3h0.01M161.76 352.72h0.01M164.54 354.13h0.01M167.33 355.55h0.01M170.12 356.97h0.01M154.78 353.06h0.01M157.56 354.5h0.01M160.35 355.95h0.01M163.14 357.39h0.01M165.93 358.83h0.01M153.37 356.26h0.01M156.16 357.73h0.01M158.95 359.2h0.01M161.74 360.67h0.01M164.53 362.14h0.01M149.18 358h0.01M151.97 359.49h0.01M154.76 360.99h0.01M157.55 362.49h0.01M160.34 363.98h0.01" stroke="#e6e6e6" stroke-width="2.45" stroke-linecap="round" fill="none"/>
<ellipse cx="227.37" cy="307.39" rx="2.7" ry="2.1" fill="#f4f4f4" stroke="#686868" stroke-width="1.35"/>
<ellipse cx="221.79" cy="312.62" rx="2.7" ry="2.1" fill="#f4f4f4" stroke="#686868" stroke-width="1.35"/>
<ellipse cx="216.2" cy="317.85" rx="2.7" ry="2.1" fill="#f4f4f4" stroke="#686868" stroke-width="1.35"/>
<ellipse cx="210.62" cy="323.08" rx="2.7" ry="2.1" fill="#f4f4f4" stroke="#686868" stroke-width="1.35"/>
<ellipse cx="205.03" cy="328.31" rx="2.7" ry="2.1" fill="#f4f4f4" stroke="#686868" stroke-width="1.35"/>
<ellipse cx="199.45" cy="333.54" rx="2.7" ry="2.1" fill="#f4f4f4" stroke="#686868" stroke-width="1.35"/>
<ellipse cx="193.86" cy="338.77" rx="2.7" ry="2.1" fill="#f4f4f4" stroke="#686868" stroke-width="1.35"/>
<ellipse cx="188.28" cy="344" rx="2.7" ry="2.1" fill="#f4f4f4" stroke="#686868" stroke-width="1.35"/>
<ellipse cx="182.69" cy="349.24" rx="2.7" ry="2.1" fill="#f4f4f4" stroke="#686868" stroke-width="1.35"/>
<ellipse cx="177.11" cy="354.47" rx="2.7" ry="2.1" fill="#f4f4f4" stroke="#686868" stroke-width="1.35"/>
<ellipse cx="171.53" cy="359.7" rx="2.7" ry="2.1" fill="#f4f4f4" stroke="#686868" stroke-width="1.35"/>
<ellipse cx="165.94" cy="364.93" rx="2.7" ry="2.1" fill="#f4f4f4" stroke="#686868" stroke-width="1.35"/>
<ellipse cx="228.43" cy="311.28" rx="2.7" ry="2.1" fill="#f4f4f4" stroke="#686868" stroke-width="1.35"/>
<ellipse cx="222.85" cy="316.58" rx="2.7" ry="2.1" fill="#f4f4f4" stroke="#686868" stroke-width="1.35"/>
<ellipse cx="217.26" cy="321.89" rx="2.7" ry="2.1" fill="#f4f4f4" stroke="#686868" stroke-width="1.35"/>
<ellipse cx="211.68" cy="327.2" rx="2.7" ry="2.1" fill="#f4f4f4" stroke="#686868" stroke-width="1.35"/>
<ellipse cx="206.1" cy="332.5" rx="2.7" ry="2.1" fill="#f4f4f4" stroke="#686868" stroke-width="1.35"/>
<ellipse cx="200.52" cy="337.81" rx="2.7" ry="2.1" fill="#f4f4f4" stroke="#686868" stroke-width="1.35"/>
<ellipse cx="194.94" cy="343.12" rx="2.7" ry="2.1" fill="#f4f4f4" stroke="#686868" stroke-width="1.35"/>
<ellipse cx="189.36" cy="348.42" rx="2.7" ry="2.1" fill="#f4f4f4" stroke="#686868" stroke-width="1.35"/>
<ellipse cx="183.78" cy="353.73" rx="2.7" ry="2.1" fill="#f4f4f4" stroke="#686868" stroke-width="1.35"/>
<ellipse cx="178.2" cy="359.03" rx="2.7" ry="2.1" fill="#f4f4f4" stroke="#686868" stroke-width="1.35"/>
<ellipse cx="172.62" cy="364.34" rx="2.7" ry="2.1" fill="#f4f4f4" stroke="#686868" stroke-width="1.35"/>
<ellipse cx="235.06" cy="309.86" rx="2.7" ry="2.1" fill="#f4f4f4" stroke="#686868" stroke-width="1.35"/>
<ellipse cx="229.48" cy="315.24" rx="2.7" ry="2.1" fill="#f4f4f4" stroke="#686868" stroke-width="1.35"/>
<ellipse cx="223.91" cy="320.63" rx="2.7" ry="2.1" fill="#f4f4f4" stroke="#686868" stroke-width="1.35"/>
<ellipse cx="218.33" cy="326.01" rx="2.7" ry="2.1" fill="#f4f4f4" stroke="#686868" stroke-width="1.35"/>
<ellipse cx="212.75" cy="331.39" rx="2.7" ry="2.1" fill="#f4f4f4" stroke="#686868" stroke-width="1.35"/>
<ellipse cx="207.17" cy="336.77" rx="2.7" ry="2.1" fill="#f4f4f4" stroke="#686868" stroke-width="1.35"/>
<ellipse cx="201.6" cy="342.15" rx="2.7" ry="2.1" fill="#f4f4f4" stroke="#686868" stroke-width="1.35"/>
<ellipse cx="196.02" cy="347.53" rx="2.7" ry="2.1" fill="#f4f4f4" stroke="#686868" stroke-width="1.35"/>
<ellipse cx="190.44" cy="352.91" rx="2.7" ry="2.1" fill="#f4f4f4" stroke="#686868" stroke-width="1.35"/>
<ellipse cx="184.86" cy="358.3" rx="2.7" ry="2.1" fill="#f4f4f4" stroke="#686868" stroke-width="1.35"/>
<ellipse cx="179.29" cy="363.68" rx="2.7" ry="2.1" fill="#f4f4f4" stroke="#686868" stroke-width="1.35"/>
<ellipse cx="173.71" cy="369.06" rx="2.7" ry="2.1" fill="#f4f4f4" stroke="#686868" stroke-width="1.35"/>
<ellipse cx="236.12" cy="313.83" rx="2.7" ry="2.1" fill="#f4f4f4" stroke="#686868" stroke-width="1.35"/>
<ellipse cx="230.54" cy="319.29" rx="2.7" ry="2.1" fill="#f4f4f4" stroke="#686868" stroke-width="1.35"/>
<ellipse cx="224.97" cy="324.74" rx="2.7" ry="2.1" fill="#f4f4f4" stroke="#686868" stroke-width="1.35"/>
<ellipse cx="219.4" cy="330.2" rx="2.7" ry="2.1" fill="#f4f4f4" stroke="#686868" stroke-width="1.35"/>
<ellipse cx="213.82" cy="335.66" rx="2.7" ry="2.1" fill="#f4f4f4" stroke="#686868" stroke-width="1.35"/>
<ellipse cx="208.25" cy="341.11" rx="2.7" ry="2.1" fill="#f4f4f4" stroke="#686868" stroke-width="1.35"/>
<ellipse cx="202.68" cy="346.57" rx="2.7" ry="2.1" fill="#f4f4f4" stroke="#686868" stroke-width="1.35"/>
<ellipse cx="197.1" cy="352.03" rx="2.7" ry="2.1" fill="#f4f4f4" stroke="#686868" stroke-width="1.35"/>
<ellipse cx="191.53" cy="357.48" rx="2.7" ry="2.1" fill="#f4f4f4" stroke="#686868" stroke-width="1.35"/>
<ellipse cx="185.95" cy="362.94" rx="2.7" ry="2.1" fill="#f4f4f4" stroke="#686868" stroke-width="1.35"/>
<ellipse cx="180.38" cy="368.4" rx="2.7" ry="2.1" fill="#f4f4f4" stroke="#686868" stroke-width="1.35"/>
<ellipse cx="158.5" cy="283" rx="14.8" ry="10.6" fill="#4fa67c" fill-opacity="0.55" clip-path="url(#shc1)"/>
<path d="M109.12 262.5 q2.29 -1.14 2.67 0.76 q0 1.53 -1.91 2.1 q-1.14 1.14 1.53 2.48" fill="none" stroke="#b8425a" stroke-width="1.24" stroke-linecap="round" stroke-opacity="0.9"/>
<path d="M132.92 269.83 q2.36 -1.18 2.76 0.79 q0 1.58 -1.97 2.17 q-1.18 1.18 1.58 2.56" fill="none" stroke="#b8425a" stroke-width="1.28" stroke-linecap="round" stroke-opacity="0.9"/>
<path d="M159.37 277.99 q2.45 -1.22 2.86 0.82 q0 1.63 -2.04 2.24 q-1.22 1.22 1.63 2.65" fill="none" stroke="#b8425a" stroke-width="1.33" stroke-linecap="round" stroke-opacity="0.9"/>
<path d="M189.78 287.37 q2.54 -1.27 2.97 0.85 q0 1.7 -2.12 2.33 q-1.27 1.27 1.7 2.76" fill="none" stroke="#b8425a" stroke-width="1.38" stroke-linecap="round" stroke-opacity="0.9"/>
<path d="M88.93 272.87 q2.42 -1.21 2.82 0.81 q0 1.61 -2.01 2.21 q-1.21 1.21 1.61 2.62" fill="none" stroke="#b8425a" stroke-width="1.31" stroke-linecap="round" stroke-opacity="0.9"/>
<path d="M112.81 281.89 q2.49 -1.25 2.91 0.83 q0 1.66 -2.08 2.28 q-1.25 1.25 1.66 2.7" fill="none" stroke="#b8425a" stroke-width="1.35" stroke-linecap="round" stroke-opacity="0.9"/>
<path d="M139.34 291.91 q2.58 -1.29 3 0.86 q0 1.72 -2.15 2.36 q-1.29 1.29 1.72 2.79" fill="none" stroke="#b8425a" stroke-width="1.39" stroke-linecap="round" stroke-opacity="0.9"/>
<path d="M169.86 303.43 q2.67 -1.34 3.12 0.89 q0 1.78 -2.23 2.45 q-1.34 1.34 1.78 2.89" fill="none" stroke="#b8425a" stroke-width="1.45" stroke-linecap="round" stroke-opacity="0.9"/>
<path d="M65.37 285.05 q2.56 -1.28 2.99 0.85 q0 1.71 -2.14 2.35 q-1.28 1.28 1.71 2.78" fill="none" stroke="#b8425a" stroke-width="1.39" stroke-linecap="round" stroke-opacity="0.9"/>
<path d="M89.34 296.03 q2.64 -1.32 3.08 0.88 q0 1.76 -2.2 2.42 q-1.32 1.32 1.76 2.86" fill="none" stroke="#b8425a" stroke-width="1.43" stroke-linecap="round" stroke-opacity="0.9"/>
<path d="M115.98 308.23 q2.72 -1.36 3.18 0.91 q0 1.82 -2.27 2.5 q-1.36 1.36 1.82 2.95" fill="none" stroke="#b8425a" stroke-width="1.48" stroke-linecap="round" stroke-opacity="0.9"/>
<path d="M146.62 322.25 q2.82 -1.41 3.29 0.94 q0 1.88 -2.35 2.59 q-1.41 1.41 1.88 3.06" fill="none" stroke="#b8425a" stroke-width="1.53" stroke-linecap="round" stroke-opacity="0.9"/>
<ellipse cx="195.8" cy="451.5" rx="13.2" ry="10.6" fill="#b9d6c6" fill-opacity="0.9"/>
<clipPath id="shc2"><polygon points="99.6,423.4 248.5,469.1 179.4,539.4 29.3,462"/></clipPath>
<polygon points="99.6,423.4 234.35,464.76 165.14,532.05 29.3,462" fill="#7f7f7f"/>
<path d="M99.6 423.4L234.35 464.76M96.67 425.01L231.47 467.56M93.74 426.62L228.59 470.37M90.81 428.22L225.7 473.17M87.88 429.83L222.82 475.97M84.95 431.44L219.93 478.78M82.02 433.05L217.05 481.58M79.1 434.66L214.17 484.38M76.17 436.27L211.28 487.19M73.24 437.88L208.4 489.99M70.31 439.48L205.52 492.8M67.38 441.09L202.63 495.6M64.45 442.7L199.75 498.4M61.52 444.31L196.86 501.21M58.59 445.92L193.98 504.01M55.66 447.52L191.1 506.81M52.73 449.13L188.21 509.62M49.8 450.74L185.33 512.42M46.88 452.35L182.44 515.22M43.95 453.96L179.56 518.03M41.02 455.57L176.68 520.83M38.09 457.18L173.79 523.64M35.16 458.78L170.91 526.44M32.23 460.39L168.02 529.24M29.3 462L165.14 532.05" stroke="#686868" stroke-width="0.6" fill="none"/>
<path d="M98.91 424.45h0.01M102.01 425.41h0.01M105.12 426.38h0.01M108.22 427.34h0.01M111.32 428.31h0.01M114.42 429.27h0.01M117.53 430.24h0.01M120.63 431.21h0.01M123.73 432.17h0.01M126.83 433.14h0.01M129.94 434.1h0.01M133.04 435.07h0.01M136.14 436.04h0.01M139.24 437h0.01M142.35 437.97h0.01M145.45 438.93h0.01M148.55 439.9h0.01M151.66 440.86h0.01M154.76 441.83h0.01M157.86 442.8h0.01M160.96 443.76h0.01M164.07 444.73h0.01M167.17 445.69h0.01M170.27 446.66h0.01M173.37 447.63h0.01M176.48 448.59h0.01M179.58 449.56h0.01M182.68 450.52h0.01M185.78 451.49h0.01M188.89 452.46h0.01M191.99 453.42h0.01M195.09 454.39h0.01M198.19 455.35h0.01M201.3 456.32h0.01M204.4 457.28h0.01M207.5 458.25h0.01M210.6 459.22h0.01M213.71 460.18h0.01M216.81 461.15h0.01M97.53 426.56h0.01M100.64 427.55h0.01M103.74 428.54h0.01M106.84 429.54h0.01M109.95 430.53h0.01M113.05 431.52h0.01M116.16 432.52h0.01M119.26 433.51h0.01M122.36 434.5h0.01M125.47 435.5h0.01M128.57 436.49h0.01M131.67 437.48h0.01M134.78 438.48h0.01M137.88 439.47h0.01M140.99 440.46h0.01M144.09 441.46h0.01M147.19 442.45h0.01M150.3 443.44h0.01M153.4 444.44h0.01M156.5 445.43h0.01M159.61 446.42h0.01M162.71 447.42h0.01M165.81 448.41h0.01M168.92 449.4h0.01M172.02 450.4h0.01M175.13 451.39h0.01M178.23 452.38h0.01M181.33 453.38h0.01M184.44 454.37h0.01M187.54 455.36h0.01M190.64 456.36h0.01M193.75 457.35h0.01M196.85 458.35h0.01M199.95 459.34h0.01M203.06 460.33h0.01M206.16 461.33h0.01M209.27 462.32h0.01M212.37 463.31h0.01M93.05 427.68h0.01M96.16 428.7h0.01M99.26 429.72h0.01M102.37 430.74h0.01M105.47 431.76h0.01M108.58 432.78h0.01M111.68 433.8h0.01M114.79 434.82h0.01M117.89 435.84h0.01M121 436.86h0.01M124.1 437.88h0.01M127.2 438.91h0.01M130.31 439.93h0.01M133.41 440.95h0.01M136.52 441.97h0.01M139.62 442.99h0.01M142.73 444.01h0.01M145.83 445.03h0.01M148.94 446.05h0.01M152.04 447.07h0.01M155.15 448.09h0.01M158.25 449.11h0.01M161.36 450.14h0.01M164.46 451.16h0.01M167.57 452.18h0.01M170.67 453.2h0.01M173.78 454.22h0.01M176.88 455.24h0.01M179.98 456.26h0.01M183.09 457.28h0.01M186.19 458.3h0.01M189.3 459.32h0.01M192.4 460.34h0.01M195.51 461.36h0.01M198.61 462.39h0.01M201.72 463.41h0.01M204.82 464.43h0.01M207.93 465.45h0.01M211.03 466.47h0.01M91.68 429.82h0.01M94.78 430.86h0.01M97.89 431.91h0.01M100.99 432.96h0.01M104.1 434.01h0.01M107.21 435.06h0.01M110.31 436.11h0.01M113.42 437.15h0.01M116.52 438.2h0.01M119.63 439.25h0.01M122.73 440.3h0.01M125.84 441.35h0.01M128.95 442.4h0.01M132.05 443.44h0.01M135.16 444.49h0.01M138.26 445.54h0.01M141.37 446.59h0.01M144.47 447.64h0.01M147.58 448.69h0.01M150.69 449.73h0.01M153.79 450.78h0.01M156.9 451.83h0.01M160 452.88h0.01M163.11 453.93h0.01M166.21 454.98h0.01M169.32 456.03h0.01M172.43 457.07h0.01M175.53 458.12h0.01M178.64 459.17h0.01M181.74 460.22h0.01M184.85 461.27h0.01M187.95 462.32h0.01M191.06 463.36h0.01M194.17 464.41h0.01M197.27 465.46h0.01M200.38 466.51h0.01M203.48 467.56h0.01M206.59 468.61h0.01M87.2 430.91h0.01M90.3 431.98h0.01M93.41 433.06h0.01M96.52 434.13h0.01M99.62 435.21h0.01M102.73 436.29h0.01M105.84 437.36h0.01M108.94 438.44h0.01M112.05 439.51h0.01M115.16 440.59h0.01M118.26 441.67h0.01M121.37 442.74h0.01M124.48 443.82h0.01M127.58 444.89h0.01M130.69 445.97h0.01M133.8 447.05h0.01M136.9 448.12h0.01M140.01 449.2h0.01M143.12 450.27h0.01M146.22 451.35h0.01M149.33 452.42h0.01M152.44 453.5h0.01M155.54 454.58h0.01M158.65 455.65h0.01M161.76 456.73h0.01M164.86 457.8h0.01M167.97 458.88h0.01M171.08 459.96h0.01M174.19 461.03h0.01M177.29 462.11h0.01M180.4 463.18h0.01M183.51 464.26h0.01M186.61 465.34h0.01M189.72 466.41h0.01M192.83 467.49h0.01M195.93 468.56h0.01M199.04 469.64h0.01M202.15 470.72h0.01M205.25 471.79h0.01M85.82 433.07h0.01M88.93 434.18h0.01M92.04 435.28h0.01M95.14 436.38h0.01M98.25 437.49h0.01M101.36 438.59h0.01M104.47 439.69h0.01M107.58 440.8h0.01M110.68 441.9h0.01M113.79 443h0.01M116.9 444.11h0.01M120.01 445.21h0.01M123.11 446.31h0.01M126.22 447.42h0.01M129.33 448.52h0.01M132.44 449.62h0.01M135.55 450.73h0.01M138.65 451.83h0.01M141.76 452.94h0.01M144.87 454.04h0.01M147.98 455.14h0.01M151.08 456.25h0.01M154.19 457.35h0.01M157.3 458.45h0.01M160.41 459.56h0.01M163.52 460.66h0.01M166.62 461.76h0.01M169.73 462.87h0.01M172.84 463.97h0.01M175.95 465.07h0.01M179.05 466.18h0.01M182.16 467.28h0.01M185.27 468.38h0.01M188.38 469.49h0.01M191.49 470.59h0.01M194.59 471.69h0.01M197.7 472.8h0.01M200.81 473.9h0.01M81.34 434.14h0.01M84.45 435.27h0.01M87.56 436.4h0.01M90.66 437.53h0.01M93.77 438.66h0.01M96.88 439.79h0.01M99.99 440.92h0.01M103.1 442.05h0.01M106.21 443.18h0.01M109.32 444.32h0.01M112.43 445.45h0.01M115.54 446.58h0.01M118.64 447.71h0.01M121.75 448.84h0.01M124.86 449.97h0.01M127.97 451.1h0.01M131.08 452.23h0.01M134.19 453.36h0.01M137.3 454.49h0.01M140.41 455.62h0.01M143.51 456.76h0.01M146.62 457.89h0.01M149.73 459.02h0.01M152.84 460.15h0.01M155.95 461.28h0.01M159.06 462.41h0.01M162.17 463.54h0.01M165.28 464.67h0.01M168.39 465.8h0.01M171.49 466.93h0.01M174.6 468.07h0.01M177.71 469.2h0.01M180.82 470.33h0.01M183.93 471.46h0.01M187.04 472.59h0.01M190.15 473.72h0.01M193.26 474.85h0.01M196.37 475.98h0.01M199.47 477.11h0.01M79.96 436.33h0.01M83.07 437.49h0.01M86.18 438.65h0.01M89.29 439.81h0.01M92.4 440.97h0.01M95.51 442.12h0.01M98.62 443.28h0.01M101.73 444.44h0.01M104.84 445.6h0.01M107.95 446.76h0.01M111.06 447.92h0.01M114.17 449.07h0.01M117.28 450.23h0.01M120.39 451.39h0.01M123.5 452.55h0.01M126.61 453.71h0.01M129.72 454.87h0.01M132.83 456.03h0.01M135.94 457.18h0.01M139.05 458.34h0.01M142.16 459.5h0.01M145.27 460.66h0.01M148.38 461.82h0.01M151.49 462.98h0.01M154.6 464.13h0.01M157.71 465.29h0.01M160.82 466.45h0.01M163.93 467.61h0.01M167.04 468.77h0.01M170.15 469.93h0.01M173.26 471.09h0.01M176.37 472.24h0.01M179.48 473.4h0.01M182.59 474.56h0.01M185.7 475.72h0.01M188.81 476.88h0.01M191.92 478.04h0.01M195.03 479.19h0.01M75.48 437.37h0.01M78.59 438.55h0.01M81.7 439.74h0.01M84.81 440.93h0.01M87.92 442.11h0.01M91.03 443.3h0.01M94.15 444.48h0.01M97.26 445.67h0.01M100.37 446.86h0.01M103.48 448.04h0.01M106.59 449.23h0.01M109.7 450.41h0.01M112.81 451.6h0.01M115.92 452.79h0.01M119.03 453.97h0.01M122.14 455.16h0.01M125.25 456.34h0.01M128.37 457.53h0.01M131.48 458.71h0.01M134.59 459.9h0.01M137.7 461.09h0.01M140.81 462.27h0.01M143.92 463.46h0.01M147.03 464.64h0.01M150.14 465.83h0.01M153.25 467.02h0.01M156.36 468.2h0.01M159.48 469.39h0.01M162.59 470.57h0.01M165.7 471.76h0.01M168.81 472.95h0.01M171.92 474.13h0.01M175.03 475.32h0.01M178.14 476.5h0.01M181.25 477.69h0.01M184.36 478.88h0.01M187.47 480.06h0.01M190.58 481.25h0.01M193.7 482.43h0.01M74.11 439.59h0.01M77.22 440.8h0.01M80.33 442.02h0.01M83.44 443.23h0.01M86.55 444.44h0.01M89.67 445.66h0.01M92.78 446.87h0.01M95.89 448.08h0.01M99 449.3h0.01M102.11 450.51h0.01M105.23 451.72h0.01M108.34 452.94h0.01M111.45 454.15h0.01M114.56 455.36h0.01M117.67 456.58h0.01M120.79 457.79h0.01M123.9 459.01h0.01M127.01 460.22h0.01M130.12 461.43h0.01M133.23 462.65h0.01M136.35 463.86h0.01M139.46 465.07h0.01M142.57 466.29h0.01M145.68 467.5h0.01M148.79 468.71h0.01M151.91 469.93h0.01M155.02 471.14h0.01M158.13 472.35h0.01M161.24 473.57h0.01M164.35 474.78h0.01M167.47 475.99h0.01M170.58 477.21h0.01M173.69 478.42h0.01M176.8 479.63h0.01M179.91 480.85h0.01M183.03 482.06h0.01M186.14 483.28h0.01M189.25 484.49h0.01M69.62 440.6h0.01M72.74 441.84h0.01M75.85 443.08h0.01M78.96 444.32h0.01M82.07 445.56h0.01M85.19 446.8h0.01M88.3 448.04h0.01M91.41 449.28h0.01M94.53 450.53h0.01M97.64 451.77h0.01M100.75 453.01h0.01M103.87 454.25h0.01M106.98 455.49h0.01M110.09 456.73h0.01M113.2 457.97h0.01M116.32 459.21h0.01M119.43 460.45h0.01M122.54 461.7h0.01M125.66 462.94h0.01M128.77 464.18h0.01M131.88 465.42h0.01M135 466.66h0.01M138.11 467.9h0.01M141.22 469.14h0.01M144.33 470.38h0.01M147.45 471.62h0.01M150.56 472.86h0.01M153.67 474.11h0.01M156.79 475.35h0.01M159.9 476.59h0.01M163.01 477.83h0.01M166.13 479.07h0.01M169.24 480.31h0.01M172.35 481.55h0.01M175.46 482.79h0.01M178.58 484.03h0.01M181.69 485.27h0.01M184.8 486.52h0.01M187.92 487.76h0.01M68.25 442.85h0.01M71.36 444.12h0.01M74.48 445.38h0.01M77.59 446.65h0.01M80.71 447.92h0.01M83.82 449.19h0.01M86.93 450.46h0.01M90.05 451.73h0.01M93.16 453h0.01M96.28 454.26h0.01M99.39 455.53h0.01M102.5 456.8h0.01M105.62 458.07h0.01M108.73 459.34h0.01M111.85 460.61h0.01M114.96 461.88h0.01M118.08 463.14h0.01M121.19 464.41h0.01M124.3 465.68h0.01M127.42 466.95h0.01M130.53 468.22h0.01M133.65 469.49h0.01M136.76 470.75h0.01M139.87 472.02h0.01M142.99 473.29h0.01M146.1 474.56h0.01M149.22 475.83h0.01M152.33 477.1h0.01M155.44 478.37h0.01M158.56 479.63h0.01M161.67 480.9h0.01M164.79 482.17h0.01M167.9 483.44h0.01M171.01 484.71h0.01M174.13 485.98h0.01M177.24 487.25h0.01M180.36 488.51h0.01M183.47 489.78h0.01M63.76 443.83h0.01M66.88 445.12h0.01M69.99 446.42h0.01M73.11 447.72h0.01M76.22 449.01h0.01M79.34 450.31h0.01M82.45 451.6h0.01M85.57 452.9h0.01M88.69 454.2h0.01M91.8 455.49h0.01M94.92 456.79h0.01M98.03 458.08h0.01M101.15 459.38h0.01M104.26 460.68h0.01M107.38 461.97h0.01M110.49 463.27h0.01M113.61 464.56h0.01M116.72 465.86h0.01M119.84 467.16h0.01M122.95 468.45h0.01M126.07 469.75h0.01M129.18 471.05h0.01M132.3 472.34h0.01M135.41 473.64h0.01M138.53 474.93h0.01M141.64 476.23h0.01M144.76 477.53h0.01M147.87 478.82h0.01M150.99 480.12h0.01M154.1 481.41h0.01M157.22 482.71h0.01M160.33 484.01h0.01M163.45 485.3h0.01M166.56 486.6h0.01M169.68 487.89h0.01M172.79 489.19h0.01M175.91 490.49h0.01M179.02 491.78h0.01M182.14 493.08h0.01M62.39 446.11h0.01M65.51 447.43h0.01M68.63 448.75h0.01M71.74 450.08h0.01M74.86 451.4h0.01M77.97 452.72h0.01M81.09 454.05h0.01M84.21 455.37h0.01M87.32 456.69h0.01M90.44 458.02h0.01M93.55 459.34h0.01M96.67 460.66h0.01M99.79 461.99h0.01M102.9 463.31h0.01M106.02 464.64h0.01M109.14 465.96h0.01M112.25 467.28h0.01M115.37 468.61h0.01M118.48 469.93h0.01M121.6 471.25h0.01M124.72 472.58h0.01M127.83 473.9h0.01M130.95 475.22h0.01M134.06 476.55h0.01M137.18 477.87h0.01M140.3 479.19h0.01M143.41 480.52h0.01M146.53 481.84h0.01M149.65 483.17h0.01M152.76 484.49h0.01M155.88 485.81h0.01M158.99 487.14h0.01M162.11 488.46h0.01M165.23 489.78h0.01M168.34 491.11h0.01M171.46 492.43h0.01M174.57 493.75h0.01M177.69 495.08h0.01M57.91 447.06h0.01M61.02 448.41h0.01M64.14 449.76h0.01M67.26 451.11h0.01M70.38 452.46h0.01M73.49 453.81h0.01M76.61 455.17h0.01M79.73 456.52h0.01M82.84 457.87h0.01M85.96 459.22h0.01M89.08 460.57h0.01M92.2 461.92h0.01M95.31 463.27h0.01M98.43 464.62h0.01M101.55 465.97h0.01M104.66 467.32h0.01M107.78 468.68h0.01M110.9 470.03h0.01M114.02 471.38h0.01M117.13 472.73h0.01M120.25 474.08h0.01M123.37 475.43h0.01M126.48 476.78h0.01M129.6 478.13h0.01M132.72 479.48h0.01M135.84 480.84h0.01M138.95 482.19h0.01M142.07 483.54h0.01M145.19 484.89h0.01M148.3 486.24h0.01M151.42 487.59h0.01M154.54 488.94h0.01M157.66 490.29h0.01M160.77 491.64h0.01M163.89 493h0.01M167.01 494.35h0.01M170.13 495.7h0.01M173.24 497.05h0.01M176.36 498.4h0.01M56.54 449.36h0.01M59.65 450.74h0.01M62.77 452.12h0.01M65.89 453.5h0.01M69.01 454.88h0.01M72.13 456.26h0.01M75.25 457.63h0.01M78.36 459.01h0.01M81.48 460.39h0.01M84.6 461.77h0.01M87.72 463.15h0.01M90.84 464.53h0.01M93.96 465.91h0.01M97.07 467.28h0.01M100.19 468.66h0.01M103.31 470.04h0.01M106.43 471.42h0.01M109.55 472.8h0.01M112.66 474.18h0.01M115.78 475.56h0.01M118.9 476.94h0.01M122.02 478.31h0.01M125.14 479.69h0.01M128.26 481.07h0.01M131.37 482.45h0.01M134.49 483.83h0.01M137.61 485.21h0.01M140.73 486.59h0.01M143.85 487.96h0.01M146.97 489.34h0.01M150.08 490.72h0.01M153.2 492.1h0.01M156.32 493.48h0.01M159.44 494.86h0.01M162.56 496.24h0.01M165.67 497.61h0.01M168.79 498.99h0.01M171.91 500.37h0.01M52.05 450.29h0.01M55.17 451.7h0.01M58.29 453.1h0.01M61.41 454.51h0.01M64.53 455.91h0.01M67.64 457.32h0.01M70.76 458.73h0.01M73.88 460.13h0.01M77 461.54h0.01M80.12 462.94h0.01M83.24 464.35h0.01M86.36 465.76h0.01M89.48 467.16h0.01M92.6 468.57h0.01M95.72 469.97h0.01M98.84 471.38h0.01M101.96 472.79h0.01M105.08 474.19h0.01M108.2 475.6h0.01M111.31 477.01h0.01M114.43 478.41h0.01M117.55 479.82h0.01M120.67 481.22h0.01M123.79 482.63h0.01M126.91 484.04h0.01M130.03 485.44h0.01M133.15 486.85h0.01M136.27 488.25h0.01M139.39 489.66h0.01M142.51 491.07h0.01M145.63 492.47h0.01M148.75 493.88h0.01M151.87 495.28h0.01M154.98 496.69h0.01M158.1 498.1h0.01M161.22 499.5h0.01M164.34 500.91h0.01M167.46 502.32h0.01M170.58 503.72h0.01M50.68 452.62h0.01M53.8 454.05h0.01M56.92 455.49h0.01M60.04 456.92h0.01M63.16 458.36h0.01M66.28 459.79h0.01M69.4 461.22h0.01M72.52 462.66h0.01M75.64 464.09h0.01M78.76 465.52h0.01M81.88 466.96h0.01M85 468.39h0.01M88.12 469.82h0.01M91.24 471.26h0.01M94.36 472.69h0.01M97.48 474.13h0.01M100.6 475.56h0.01M103.73 476.99h0.01M106.85 478.43h0.01M109.97 479.86h0.01M113.09 481.29h0.01M116.21 482.73h0.01M119.33 484.16h0.01M122.45 485.59h0.01M125.57 487.03h0.01M128.69 488.46h0.01M131.81 489.9h0.01M134.93 491.33h0.01M138.05 492.76h0.01M141.17 494.2h0.01M144.29 495.63h0.01M147.41 497.06h0.01M150.53 498.5h0.01M153.65 499.93h0.01M156.77 501.36h0.01M159.89 502.8h0.01M163.01 504.23h0.01M166.13 505.67h0.01M46.19 453.52h0.01M49.31 454.98h0.01M52.43 456.44h0.01M55.55 457.9h0.01M58.68 459.36h0.01M61.8 460.83h0.01M64.92 462.29h0.01M68.04 463.75h0.01M71.16 465.21h0.01M74.28 466.67h0.01M77.4 468.13h0.01M80.53 469.59h0.01M83.65 471.05h0.01M86.77 472.51h0.01M89.89 473.98h0.01M93.01 475.44h0.01M96.13 476.9h0.01M99.25 478.36h0.01M102.38 479.82h0.01M105.5 481.28h0.01M108.62 482.74h0.01M111.74 484.2h0.01M114.86 485.66h0.01M117.98 487.13h0.01M121.1 488.59h0.01M124.22 490.05h0.01M127.35 491.51h0.01M130.47 492.97h0.01M133.59 494.43h0.01M136.71 495.89h0.01M139.83 497.35h0.01M142.95 498.82h0.01M146.07 500.28h0.01M149.2 501.74h0.01M152.32 503.2h0.01M155.44 504.66h0.01M158.56 506.12h0.01M161.68 507.58h0.01M164.8 509.04h0.01M44.82 455.88h0.01M47.95 457.37h0.01M51.07 458.86h0.01M54.19 460.35h0.01M57.31 461.83h0.01M60.44 463.32h0.01M63.56 464.81h0.01M66.68 466.3h0.01M69.8 467.79h0.01M72.92 469.28h0.01M76.05 470.77h0.01M79.17 472.25h0.01M82.29 473.74h0.01M85.41 475.23h0.01M88.54 476.72h0.01M91.66 478.21h0.01M94.78 479.7h0.01M97.9 481.19h0.01M101.03 482.68h0.01M104.15 484.16h0.01M107.27 485.65h0.01M110.39 487.14h0.01M113.52 488.63h0.01M116.64 490.12h0.01M119.76 491.61h0.01M122.88 493.1h0.01M126.01 494.58h0.01M129.13 496.07h0.01M132.25 497.56h0.01M135.37 499.05h0.01M138.49 500.54h0.01M141.62 502.03h0.01M144.74 503.52h0.01M147.86 505.01h0.01M150.98 506.49h0.01M154.11 507.98h0.01M157.23 509.47h0.01M160.35 510.96h0.01M40.33 456.75h0.01M43.46 458.27h0.01M46.58 459.78h0.01M49.7 461.3h0.01M52.83 462.81h0.01M55.95 464.33h0.01M59.07 465.85h0.01M62.2 467.36h0.01M65.32 468.88h0.01M68.44 470.4h0.01M71.57 471.91h0.01M74.69 473.43h0.01M77.81 474.94h0.01M80.94 476.46h0.01M84.06 477.98h0.01M87.18 479.49h0.01M90.31 481.01h0.01M93.43 482.53h0.01M96.55 484.04h0.01M99.68 485.56h0.01M102.8 487.07h0.01M105.93 488.59h0.01M109.05 490.11h0.01M112.17 491.62h0.01M115.3 493.14h0.01M118.42 494.65h0.01M121.54 496.17h0.01M124.67 497.69h0.01M127.79 499.2h0.01M130.91 500.72h0.01M134.04 502.24h0.01M137.16 503.75h0.01M140.28 505.27h0.01M143.41 506.78h0.01M146.53 508.3h0.01M149.65 509.82h0.01M152.78 511.33h0.01M155.9 512.85h0.01M159.02 514.37h0.01M38.97 459.14h0.01M42.09 460.68h0.01M45.22 462.22h0.01M48.34 463.77h0.01M51.46 465.31h0.01M54.59 466.86h0.01M57.71 468.4h0.01M60.84 469.94h0.01M63.96 471.49h0.01M67.09 473.03h0.01M70.21 474.57h0.01M73.34 476.12h0.01M76.46 477.66h0.01M79.58 479.21h0.01M82.71 480.75h0.01M85.83 482.29h0.01M88.96 483.84h0.01M92.08 485.38h0.01M95.21 486.92h0.01M98.33 488.47h0.01M101.46 490.01h0.01M104.58 491.55h0.01M107.7 493.1h0.01M110.83 494.64h0.01M113.95 496.19h0.01M117.08 497.73h0.01M120.2 499.27h0.01M123.33 500.82h0.01M126.45 502.36h0.01M129.58 503.9h0.01M132.7 505.45h0.01M135.83 506.99h0.01M138.95 508.54h0.01M142.07 510.08h0.01M145.2 511.62h0.01M148.32 513.17h0.01M151.45 514.71h0.01M154.57 516.25h0.01M34.48 459.98h0.01M37.6 461.55h0.01M40.73 463.12h0.01M43.85 464.69h0.01M46.98 466.27h0.01M50.1 467.84h0.01M53.23 469.41h0.01M56.35 470.98h0.01M59.48 472.55h0.01M62.6 474.12h0.01M65.73 475.69h0.01M68.86 477.26h0.01M71.98 478.83h0.01M75.11 480.41h0.01M78.23 481.98h0.01M81.36 483.55h0.01M84.48 485.12h0.01M87.61 486.69h0.01M90.73 488.26h0.01M93.86 489.83h0.01M96.99 491.4h0.01M100.11 492.98h0.01M103.24 494.55h0.01M106.36 496.12h0.01M109.49 497.69h0.01M112.61 499.26h0.01M115.74 500.83h0.01M118.86 502.4h0.01M121.99 503.97h0.01M125.12 505.55h0.01M128.24 507.12h0.01M131.37 508.69h0.01M134.49 510.26h0.01M137.62 511.83h0.01M140.74 513.4h0.01M143.87 514.97h0.01M146.99 516.54h0.01M150.12 518.12h0.01M153.24 519.69h0.01M33.11 462.39h0.01M36.24 463.99h0.01M39.36 465.59h0.01M42.49 467.19h0.01M45.62 468.79h0.01M48.74 470.39h0.01M51.87 471.99h0.01M55 473.59h0.01M58.12 475.18h0.01M61.25 476.78h0.01M64.38 478.38h0.01M67.5 479.98h0.01M70.63 481.58h0.01M73.75 483.18h0.01M76.88 484.78h0.01M80.01 486.38h0.01M83.13 487.97h0.01M86.26 489.57h0.01M89.39 491.17h0.01M92.51 492.77h0.01M95.64 494.37h0.01M98.77 495.97h0.01M101.89 497.57h0.01M105.02 499.17h0.01M108.15 500.76h0.01M111.27 502.36h0.01M114.4 503.96h0.01M117.53 505.56h0.01M120.65 507.16h0.01M123.78 508.76h0.01M126.91 510.36h0.01M130.03 511.96h0.01M133.16 513.55h0.01M136.29 515.15h0.01M139.41 516.75h0.01M142.54 518.35h0.01M145.67 519.95h0.01M148.79 521.55h0.01" stroke="#d2d2d2" stroke-width="2.15" stroke-linecap="round" fill="none"/>
<path d="M219.91 462.11h0.01M223.02 463.08h0.01M226.12 464.05h0.01M229.22 465.01h0.01M232.32 465.98h0.01M215.47 464.31h0.01M218.58 465.3h0.01M221.68 466.29h0.01M224.78 467.29h0.01M227.89 468.28h0.01M214.14 467.49h0.01M217.24 468.51h0.01M220.35 469.53h0.01M223.45 470.55h0.01M226.55 471.57h0.01M209.69 469.65h0.01M212.8 470.7h0.01M215.91 471.75h0.01M219.01 472.8h0.01M222.12 473.85h0.01M208.36 472.87h0.01M211.47 473.94h0.01M214.57 475.02h0.01M217.68 476.09h0.01M220.79 477.17h0.01M203.92 475h0.01M207.03 476.11h0.01M210.13 477.21h0.01M213.24 478.31h0.01M216.35 479.42h0.01M202.58 478.24h0.01M205.69 479.37h0.01M208.8 480.51h0.01M211.91 481.64h0.01M215.02 482.77h0.01M198.14 480.35h0.01M201.25 481.51h0.01M204.36 482.67h0.01M207.47 483.83h0.01M210.58 484.99h0.01M196.81 483.62h0.01M199.92 484.81h0.01M203.03 485.99h0.01M206.14 487.18h0.01M209.25 488.36h0.01M192.36 485.7h0.01M195.47 486.92h0.01M198.59 488.13h0.01M201.7 489.34h0.01M204.81 490.56h0.01M191.03 489h0.01M194.14 490.24h0.01M197.26 491.48h0.01M200.37 492.72h0.01M203.48 493.96h0.01M186.58 491.05h0.01M189.7 492.32h0.01M192.81 493.59h0.01M195.93 494.86h0.01M199.04 496.13h0.01M185.25 494.37h0.01M188.37 495.67h0.01M191.48 496.97h0.01M194.6 498.26h0.01M197.71 499.56h0.01M180.81 496.4h0.01M183.92 497.72h0.01M187.04 499.05h0.01M190.16 500.37h0.01M193.27 501.7h0.01M179.48 499.75h0.01M182.59 501.1h0.01M185.71 502.45h0.01M188.83 503.8h0.01M191.95 505.16h0.01M175.03 501.75h0.01M178.15 503.13h0.01M181.27 504.51h0.01M184.38 505.89h0.01M187.5 507.26h0.01M173.7 505.13h0.01M176.82 506.53h0.01M179.94 507.94h0.01M183.06 509.35h0.01M186.18 510.75h0.01M169.25 507.1h0.01M172.37 508.53h0.01M175.49 509.97h0.01M178.61 511.4h0.01M181.73 512.83h0.01M167.92 510.5h0.01M171.04 511.97h0.01M174.17 513.43h0.01M177.29 514.89h0.01M180.41 516.35h0.01M163.47 512.45h0.01M166.6 513.94h0.01M169.72 515.43h0.01M172.84 516.91h0.01M175.96 518.4h0.01M162.15 515.88h0.01M165.27 517.4h0.01M168.39 518.91h0.01M171.52 520.43h0.01M174.64 521.95h0.01M157.7 517.8h0.01M160.82 519.34h0.01M163.95 520.89h0.01M167.07 522.43h0.01M170.19 523.97h0.01M156.37 521.26h0.01M159.5 522.83h0.01M162.62 524.4h0.01M165.75 525.97h0.01M168.87 527.54h0.01M151.92 523.15h0.01M155.05 524.75h0.01M158.17 526.34h0.01M161.3 527.94h0.01M164.43 529.54h0.01" stroke="#e6e6e6" stroke-width="2.45" stroke-linecap="round" fill="none"/>
<ellipse cx="234" cy="468.36" rx="2.7" ry="2.1" fill="#f4f4f4" stroke="#686868" stroke-width="1.35"/>
<ellipse cx="228.24" cy="474.01" rx="2.7" ry="2.1" fill="#f4f4f4" stroke="#686868" stroke-width="1.35"/>
<ellipse cx="222.47" cy="479.67" rx="2.7" ry="2.1" fill="#f4f4f4" stroke="#686868" stroke-width="1.35"/>
<ellipse cx="216.7" cy="485.32" rx="2.7" ry="2.1" fill="#f4f4f4" stroke="#686868" stroke-width="1.35"/>
<ellipse cx="210.94" cy="490.97" rx="2.7" ry="2.1" fill="#f4f4f4" stroke="#686868" stroke-width="1.35"/>
<ellipse cx="205.17" cy="496.62" rx="2.7" ry="2.1" fill="#f4f4f4" stroke="#686868" stroke-width="1.35"/>
<ellipse cx="199.41" cy="502.28" rx="2.7" ry="2.1" fill="#f4f4f4" stroke="#686868" stroke-width="1.35"/>
<ellipse cx="193.64" cy="507.93" rx="2.7" ry="2.1" fill="#f4f4f4" stroke="#686868" stroke-width="1.35"/>
<ellipse cx="187.87" cy="513.58" rx="2.7" ry="2.1" fill="#f4f4f4" stroke="#686868" stroke-width="1.35"/>
<ellipse cx="182.11" cy="519.23" rx="2.7" ry="2.1" fill="#f4f4f4" stroke="#686868" stroke-width="1.35"/>
<ellipse cx="176.34" cy="524.88" rx="2.7" ry="2.1" fill="#f4f4f4" stroke="#686868" stroke-width="1.35"/>
<ellipse cx="170.58" cy="530.54" rx="2.7" ry="2.1" fill="#f4f4f4" stroke="#686868" stroke-width="1.35"/>
<ellipse cx="235.44" cy="472.59" rx="2.7" ry="2.1" fill="#f4f4f4" stroke="#686868" stroke-width="1.35"/>
<ellipse cx="229.68" cy="478.32" rx="2.7" ry="2.1" fill="#f4f4f4" stroke="#686868" stroke-width="1.35"/>
<ellipse cx="223.91" cy="484.05" rx="2.7" ry="2.1" fill="#f4f4f4" stroke="#686868" stroke-width="1.35"/>
<ellipse cx="218.15" cy="489.78" rx="2.7" ry="2.1" fill="#f4f4f4" stroke="#686868" stroke-width="1.35"/>
<ellipse cx="212.39" cy="495.51" rx="2.7" ry="2.1" fill="#f4f4f4" stroke="#686868" stroke-width="1.35"/>
<ellipse cx="206.62" cy="501.23" rx="2.7" ry="2.1" fill="#f4f4f4" stroke="#686868" stroke-width="1.35"/>
<ellipse cx="200.86" cy="506.96" rx="2.7" ry="2.1" fill="#f4f4f4" stroke="#686868" stroke-width="1.35"/>
<ellipse cx="195.1" cy="512.69" rx="2.7" ry="2.1" fill="#f4f4f4" stroke="#686868" stroke-width="1.35"/>
<ellipse cx="189.33" cy="518.42" rx="2.7" ry="2.1" fill="#f4f4f4" stroke="#686868" stroke-width="1.35"/>
<ellipse cx="183.57" cy="524.15" rx="2.7" ry="2.1" fill="#f4f4f4" stroke="#686868" stroke-width="1.35"/>
<ellipse cx="177.81" cy="529.88" rx="2.7" ry="2.1" fill="#f4f4f4" stroke="#686868" stroke-width="1.35"/>
<ellipse cx="242.64" cy="471.09" rx="2.7" ry="2.1" fill="#f4f4f4" stroke="#686868" stroke-width="1.35"/>
<ellipse cx="236.88" cy="476.89" rx="2.7" ry="2.1" fill="#f4f4f4" stroke="#686868" stroke-width="1.35"/>
<ellipse cx="231.12" cy="482.7" rx="2.7" ry="2.1" fill="#f4f4f4" stroke="#686868" stroke-width="1.35"/>
<ellipse cx="225.36" cy="488.51" rx="2.7" ry="2.1" fill="#f4f4f4" stroke="#686868" stroke-width="1.35"/>
<ellipse cx="219.6" cy="494.31" rx="2.7" ry="2.1" fill="#f4f4f4" stroke="#686868" stroke-width="1.35"/>
<ellipse cx="213.84" cy="500.12" rx="2.7" ry="2.1" fill="#f4f4f4" stroke="#686868" stroke-width="1.35"/>
<ellipse cx="208.08" cy="505.92" rx="2.7" ry="2.1" fill="#f4f4f4" stroke="#686868" stroke-width="1.35"/>
<ellipse cx="202.32" cy="511.73" rx="2.7" ry="2.1" fill="#f4f4f4" stroke="#686868" stroke-width="1.35"/>
<ellipse cx="196.56" cy="517.53" rx="2.7" ry="2.1" fill="#f4f4f4" stroke="#686868" stroke-width="1.35"/>
<ellipse cx="190.8" cy="523.34" rx="2.7" ry="2.1" fill="#f4f4f4" stroke="#686868" stroke-width="1.35"/>
<ellipse cx="185.04" cy="529.14" rx="2.7" ry="2.1" fill="#f4f4f4" stroke="#686868" stroke-width="1.35"/>
<ellipse cx="179.28" cy="534.95" rx="2.7" ry="2.1" fill="#f4f4f4" stroke="#686868" stroke-width="1.35"/>
<ellipse cx="244.08" cy="475.39" rx="2.7" ry="2.1" fill="#f4f4f4" stroke="#686868" stroke-width="1.35"/>
<ellipse cx="238.33" cy="481.28" rx="2.7" ry="2.1" fill="#f4f4f4" stroke="#686868" stroke-width="1.35"/>
<ellipse cx="232.57" cy="487.16" rx="2.7" ry="2.1" fill="#f4f4f4" stroke="#686868" stroke-width="1.35"/>
<ellipse cx="226.81" cy="493.04" rx="2.7" ry="2.1" fill="#f4f4f4" stroke="#686868" stroke-width="1.35"/>
<ellipse cx="221.05" cy="498.92" rx="2.7" ry="2.1" fill="#f4f4f4" stroke="#686868" stroke-width="1.35"/>
<ellipse cx="215.3" cy="504.8" rx="2.7" ry="2.1" fill="#f4f4f4" stroke="#686868" stroke-width="1.35"/>
<ellipse cx="209.54" cy="510.69" rx="2.7" ry="2.1" fill="#f4f4f4" stroke="#686868" stroke-width="1.35"/>
<ellipse cx="203.78" cy="516.57" rx="2.7" ry="2.1" fill="#f4f4f4" stroke="#686868" stroke-width="1.35"/>
<ellipse cx="198.02" cy="522.45" rx="2.7" ry="2.1" fill="#f4f4f4" stroke="#686868" stroke-width="1.35"/>
<ellipse cx="192.27" cy="528.33" rx="2.7" ry="2.1" fill="#f4f4f4" stroke="#686868" stroke-width="1.35"/>
<ellipse cx="186.51" cy="534.21" rx="2.7" ry="2.1" fill="#f4f4f4" stroke="#686868" stroke-width="1.35"/>
<ellipse cx="195.8" cy="451.5" rx="13.2" ry="10.6" fill="#4fa67c" fill-opacity="0.55" clip-path="url(#shc2)"/>
<path d="M102.96 420.78 q2.35 -1.18 2.74 0.78 q0 1.57 -1.96 2.15 q-1.18 1.18 1.57 2.55" fill="none" stroke="#b8425a" stroke-width="1.27" stroke-linecap="round" stroke-opacity="0.9"/>
<path d="M130 427.47 q2.4 -1.2 2.8 0.8 q0 1.6 -2 2.2 q-1.2 1.2 1.6 2.6" fill="none" stroke="#b8425a" stroke-width="1.3" stroke-linecap="round" stroke-opacity="0.9"/>
<path d="M159.56 436.67 q2.47 -1.24 2.88 0.82 q0 1.65 -2.06 2.27 q-1.24 1.24 1.65 2.68" fill="none" stroke="#b8425a" stroke-width="1.34" stroke-linecap="round" stroke-opacity="0.9"/>
<path d="M194.2 446.71 q2.55 -1.27 2.97 0.85 q0 1.7 -2.12 2.34 q-1.27 1.27 1.7 2.76" fill="none" stroke="#d88a4a" stroke-width="1.38" stroke-linecap="round" stroke-opacity="0.9"/>
<path d="M81.74 433.33 q2.45 -1.22 2.85 0.82 q0 1.63 -2.04 2.24 q-1.22 1.22 1.63 2.65" fill="none" stroke="#b8425a" stroke-width="1.33" stroke-linecap="round" stroke-opacity="0.9"/>
<path d="M106.27 435 q2.46 -1.23 2.87 0.82 q0 1.64 -2.05 2.25 q-1.23 1.23 1.64 2.67" fill="none" stroke="#b8425a" stroke-width="1.33" stroke-linecap="round" stroke-opacity="0.9"/>
<path d="M131.63 439.18 q2.49 -1.25 2.91 0.83 q0 1.66 -2.08 2.28 q-1.25 1.25 1.66 2.7" fill="none" stroke="#b8425a" stroke-width="1.35" stroke-linecap="round" stroke-opacity="0.9"/>
<path d="M164.56 450.89 q2.58 -1.29 3.01 0.86 q0 1.72 -2.15 2.37 q-1.29 1.29 1.72 2.8" fill="none" stroke="#b8425a" stroke-width="1.4" stroke-linecap="round" stroke-opacity="0.9"/>
<path d="M202.57 463.44 q2.68 -1.34 3.12 0.89 q0 1.79 -2.23 2.46 q-1.34 1.34 1.79 2.9" fill="none" stroke="#b8425a" stroke-width="1.45" stroke-linecap="round" stroke-opacity="0.9"/>
<path d="M54.6 446.71 q2.55 -1.27 2.97 0.85 q0 1.7 -2.12 2.34 q-1.27 1.27 1.7 2.76" fill="none" stroke="#b8425a" stroke-width="1.38" stroke-linecap="round" stroke-opacity="0.9"/>
<path d="M81.69 444.2 q2.53 -1.27 2.95 0.84 q0 1.69 -2.11 2.32 q-1.27 1.27 1.69 2.74" fill="none" stroke="#b8425a" stroke-width="1.37" stroke-linecap="round" stroke-opacity="0.9"/>
<path d="M107.02 453.4 q2.6 -1.3 3.03 0.87 q0 1.73 -2.17 2.38 q-1.3 1.3 1.73 2.82" fill="none" stroke="#b8425a" stroke-width="1.41" stroke-linecap="round" stroke-opacity="0.9"/>
<path d="M137.48 452.56 q2.6 -1.3 3.03 0.87 q0 1.73 -2.16 2.38 q-1.3 1.3 1.73 2.81" fill="none" stroke="#b8425a" stroke-width="1.41" stroke-linecap="round" stroke-opacity="0.9"/>
<path d="M172.11 465.11 q2.69 -1.35 3.14 0.9 q0 1.79 -2.24 2.47 q-1.35 1.35 1.79 2.92" fill="none" stroke="#b8425a" stroke-width="1.46" stroke-linecap="round" stroke-opacity="0.9"/>
<path d="M54.54 458.42 q2.64 -1.32 3.08 0.88 q0 1.76 -2.2 2.42 q-1.32 1.32 1.76 2.86" fill="none" stroke="#b8425a" stroke-width="1.43" stroke-linecap="round" stroke-opacity="0.9"/>
<path d="M81.62 456.74 q2.63 -1.31 3.06 0.88 q0 1.75 -2.19 2.41 q-1.31 1.31 1.75 2.85" fill="none" stroke="#b8425a" stroke-width="1.42" stroke-linecap="round" stroke-opacity="0.9"/>
<path d="M111.18 468.45 q2.72 -1.36 3.17 0.91 q0 1.81 -2.26 2.49 q-1.36 1.36 1.81 2.94" fill="none" stroke="#b8425a" stroke-width="1.47" stroke-linecap="round" stroke-opacity="0.9"/>
<path d="M140.79 466.78 q2.7 -1.35 3.15 0.9 q0 1.8 -2.25 2.48 q-1.35 1.35 1.8 2.93" fill="none" stroke="#b8425a" stroke-width="1.46" stroke-linecap="round" stroke-opacity="0.9"/>
<path d="M178.8 480.16 q2.81 -1.4 3.27 0.94 q0 1.87 -2.34 2.57 q-1.4 1.4 1.87 3.04" fill="none" stroke="#b8425a" stroke-width="1.52" stroke-linecap="round" stroke-opacity="0.9"/>
<path d="M81.55 471.8 q2.74 -1.37 3.2 0.91 q0 1.83 -2.29 2.51 q-1.37 1.37 1.83 2.97" fill="none" stroke="#b8425a" stroke-width="1.49" stroke-linecap="round" stroke-opacity="0.9"/>
<path d="M113.62 486.85 q2.86 -1.43 3.33 0.95 q0 1.91 -2.38 2.62 q-1.43 1.43 1.91 3.1" fill="none" stroke="#b8425a" stroke-width="1.55" stroke-linecap="round" stroke-opacity="0.9"/>
<path d="M146.63 483.51 q2.83 -1.42 3.3 0.94 q0 1.89 -2.36 2.6 q-1.42 1.42 1.89 3.07" fill="none" stroke="#b8425a" stroke-width="1.53" stroke-linecap="round" stroke-opacity="0.9"/>
<path d="M151.6 504.42 q2.99 -1.5 3.49 1 q0 2 -2.49 2.74 q-1.5 1.5 2 3.24" fill="none" stroke="#b8425a" stroke-width="1.62" stroke-linecap="round" stroke-opacity="0.9"/>
<path d="M202.57 463.44 q2.68 -1.34 3.12 0.89 q0 1.79 -2.23 2.46 q-1.34 1.34 1.79 2.9" fill="none" stroke="#b8425a" stroke-width="1.45" stroke-linecap="round" stroke-opacity="0.9"/>
<ellipse cx="211" cy="615.7" rx="13.2" ry="10.2" fill="#b9d6c6" fill-opacity="0.9"/>
<clipPath id="shc3"><polygon points="103.2,584 245.5,629.7 177,698.9 34.7,621"/></clipPath>
<polygon points="103.2,584 231.98,625.36 163.48,691.5 34.7,621" fill="#7f7f7f"/>
<path d="M103.2 584L231.98 625.36M100.35 585.54L229.13 628.11M97.49 587.08L226.27 630.87M94.64 588.62L223.42 633.63M91.78 590.17L220.56 636.38M88.93 591.71L217.71 639.14M86.08 593.25L214.86 641.89M83.22 594.79L212 644.65M80.37 596.33L209.15 647.41M77.51 597.88L206.29 650.16M74.66 599.42L203.44 652.92M71.8 600.96L200.59 655.67M68.95 602.5L197.73 658.43M66.1 604.04L194.88 661.18M63.24 605.58L192.02 663.94M60.39 607.12L189.17 666.7M57.53 608.67L186.31 669.45M54.68 610.21L183.46 672.21M51.83 611.75L180.61 674.96M48.97 613.29L177.75 677.72M46.12 614.83L174.9 680.48M43.26 616.38L172.04 683.23M40.41 617.92L169.19 685.99M37.55 619.46L166.34 688.74M34.7 621L163.48 691.5" stroke="#686868" stroke-width="0.6" fill="none"/>
<path d="M102.51 585.01h0.01M105.48 585.98h0.01M108.44 586.94h0.01M111.41 587.91h0.01M114.37 588.88h0.01M117.34 589.84h0.01M120.3 590.81h0.01M123.27 591.77h0.01M126.23 592.74h0.01M129.2 593.71h0.01M132.16 594.67h0.01M135.12 595.64h0.01M138.09 596.61h0.01M141.05 597.57h0.01M144.02 598.54h0.01M146.98 599.5h0.01M149.95 600.47h0.01M152.91 601.44h0.01M155.88 602.4h0.01M158.84 603.37h0.01M161.81 604.33h0.01M164.77 605.3h0.01M167.73 606.27h0.01M170.7 607.23h0.01M173.66 608.2h0.01M176.63 609.16h0.01M179.59 610.13h0.01M182.56 611.1h0.01M185.52 612.06h0.01M188.49 613.03h0.01M191.45 613.99h0.01M194.42 614.96h0.01M197.38 615.93h0.01M200.35 616.89h0.01M203.31 617.86h0.01M206.27 618.82h0.01M209.24 619.79h0.01M212.2 620.76h0.01M215.17 621.72h0.01M101.14 587.06h0.01M104.11 588.05h0.01M107.07 589.05h0.01M110.04 590.04h0.01M113 591.03h0.01M115.97 592.03h0.01M118.93 593.02h0.01M121.89 594.02h0.01M124.86 595.01h0.01M127.82 596h0.01M130.79 597h0.01M133.75 597.99h0.01M136.72 598.99h0.01M139.68 599.98h0.01M142.65 600.97h0.01M145.61 601.97h0.01M148.58 602.96h0.01M151.54 603.96h0.01M154.5 604.95h0.01M157.47 605.94h0.01M160.43 606.94h0.01M163.4 607.93h0.01M166.36 608.93h0.01M169.33 609.92h0.01M172.29 610.91h0.01M175.26 611.91h0.01M178.22 612.9h0.01M181.19 613.9h0.01M184.15 614.89h0.01M187.12 615.88h0.01M190.08 616.88h0.01M193.04 617.87h0.01M196.01 618.87h0.01M198.97 619.86h0.01M201.94 620.85h0.01M204.9 621.85h0.01M207.87 622.84h0.01M210.83 623.84h0.01M96.81 588.11h0.01M99.77 589.13h0.01M102.73 590.15h0.01M105.7 591.18h0.01M108.66 592.2h0.01M111.63 593.22h0.01M114.59 594.24h0.01M117.56 595.26h0.01M120.52 596.29h0.01M123.49 597.31h0.01M126.45 598.33h0.01M129.42 599.35h0.01M132.38 600.37h0.01M135.35 601.4h0.01M138.31 602.42h0.01M141.27 603.44h0.01M144.24 604.46h0.01M147.2 605.48h0.01M150.17 606.5h0.01M153.13 607.53h0.01M156.1 608.55h0.01M159.06 609.57h0.01M162.03 610.59h0.01M164.99 611.61h0.01M167.96 612.64h0.01M170.92 613.66h0.01M173.88 614.68h0.01M176.85 615.7h0.01M179.81 616.72h0.01M182.78 617.75h0.01M185.74 618.77h0.01M188.71 619.79h0.01M191.67 620.81h0.01M194.64 621.83h0.01M197.6 622.86h0.01M200.57 623.88h0.01M203.53 624.9h0.01M206.5 625.92h0.01M209.46 626.94h0.01M95.43 590.18h0.01M98.4 591.23h0.01M101.36 592.28h0.01M104.33 593.33h0.01M107.29 594.38h0.01M110.26 595.43h0.01M113.22 596.48h0.01M116.19 597.53h0.01M119.15 598.58h0.01M122.12 599.63h0.01M125.08 600.68h0.01M128.04 601.73h0.01M131.01 602.78h0.01M133.97 603.83h0.01M136.94 604.88h0.01M139.9 605.93h0.01M142.87 606.98h0.01M145.83 608.03h0.01M148.8 609.08h0.01M151.76 610.13h0.01M154.73 611.18h0.01M157.69 612.23h0.01M160.65 613.28h0.01M163.62 614.33h0.01M166.58 615.38h0.01M169.55 616.43h0.01M172.51 617.48h0.01M175.48 618.53h0.01M178.44 619.58h0.01M181.41 620.63h0.01M184.37 621.68h0.01M187.34 622.73h0.01M190.3 623.78h0.01M193.27 624.83h0.01M196.23 625.88h0.01M199.19 626.93h0.01M202.16 627.98h0.01M205.12 629.03h0.01M91.1 591.21h0.01M94.06 592.28h0.01M97.03 593.36h0.01M99.99 594.44h0.01M102.96 595.52h0.01M105.92 596.6h0.01M108.88 597.67h0.01M111.85 598.75h0.01M114.81 599.83h0.01M117.78 600.91h0.01M120.74 601.99h0.01M123.71 603.06h0.01M126.67 604.14h0.01M129.64 605.22h0.01M132.6 606.3h0.01M135.57 607.37h0.01M138.53 608.45h0.01M141.5 609.53h0.01M144.46 610.61h0.01M147.42 611.69h0.01M150.39 612.76h0.01M153.35 613.84h0.01M156.32 614.92h0.01M159.28 616h0.01M162.25 617.08h0.01M165.21 618.15h0.01M168.18 619.23h0.01M171.14 620.31h0.01M174.11 621.39h0.01M177.07 622.47h0.01M180.03 623.54h0.01M183 624.62h0.01M185.96 625.7h0.01M188.93 626.78h0.01M191.89 627.85h0.01M194.86 628.93h0.01M197.82 630.01h0.01M200.79 631.09h0.01M203.75 632.17h0.01M89.73 593.31h0.01M92.69 594.41h0.01M95.65 595.52h0.01M98.62 596.63h0.01M101.58 597.73h0.01M104.55 598.84h0.01M107.51 599.94h0.01M110.48 601.05h0.01M113.44 602.16h0.01M116.41 603.26h0.01M119.37 604.37h0.01M122.34 605.47h0.01M125.3 606.58h0.01M128.27 607.68h0.01M131.23 608.79h0.01M134.19 609.9h0.01M137.16 611h0.01M140.12 612.11h0.01M143.09 613.21h0.01M146.05 614.32h0.01M149.02 615.42h0.01M151.98 616.53h0.01M154.95 617.64h0.01M157.91 618.74h0.01M160.88 619.85h0.01M163.84 620.95h0.01M166.8 622.06h0.01M169.77 623.17h0.01M172.73 624.27h0.01M175.7 625.38h0.01M178.66 626.48h0.01M181.63 627.59h0.01M184.59 628.69h0.01M187.56 629.8h0.01M190.52 630.91h0.01M193.49 632.01h0.01M196.45 633.12h0.01M199.42 634.22h0.01M85.39 594.3h0.01M88.35 595.44h0.01M91.32 596.57h0.01M94.28 597.71h0.01M97.25 598.84h0.01M100.21 599.97h0.01M103.18 601.11h0.01M106.14 602.24h0.01M109.11 603.37h0.01M112.07 604.51h0.01M115.03 605.64h0.01M118 606.78h0.01M120.96 607.91h0.01M123.93 609.04h0.01M126.89 610.18h0.01M129.86 611.31h0.01M132.82 612.44h0.01M135.79 613.58h0.01M138.75 614.71h0.01M141.72 615.85h0.01M144.68 616.98h0.01M147.65 618.11h0.01M150.61 619.25h0.01M153.57 620.38h0.01M156.54 621.51h0.01M159.5 622.65h0.01M162.47 623.78h0.01M165.43 624.92h0.01M168.4 626.05h0.01M171.36 627.18h0.01M174.33 628.32h0.01M177.29 629.45h0.01M180.26 630.58h0.01M183.22 631.72h0.01M186.18 632.85h0.01M189.15 633.99h0.01M192.11 635.12h0.01M195.08 636.25h0.01M198.04 637.39h0.01M84.02 596.43h0.01M86.98 597.6h0.01M89.95 598.76h0.01M92.91 599.92h0.01M95.88 601.08h0.01M98.84 602.24h0.01M101.8 603.4h0.01M104.77 604.57h0.01M107.73 605.73h0.01M110.7 606.89h0.01M113.66 608.05h0.01M116.63 609.21h0.01M119.59 610.37h0.01M122.56 611.54h0.01M125.52 612.7h0.01M128.49 613.86h0.01M131.45 615.02h0.01M134.42 616.18h0.01M137.38 617.34h0.01M140.34 618.51h0.01M143.31 619.67h0.01M146.27 620.83h0.01M149.24 621.99h0.01M152.2 623.15h0.01M155.17 624.32h0.01M158.13 625.48h0.01M161.1 626.64h0.01M164.06 627.8h0.01M167.03 628.96h0.01M169.99 630.12h0.01M172.95 631.29h0.01M175.92 632.45h0.01M178.88 633.61h0.01M181.85 634.77h0.01M184.81 635.93h0.01M187.78 637.09h0.01M190.74 638.26h0.01M193.71 639.42h0.01M79.68 597.4h0.01M82.65 598.59h0.01M85.61 599.78h0.01M88.57 600.97h0.01M91.54 602.16h0.01M94.5 603.35h0.01M97.47 604.54h0.01M100.43 605.73h0.01M103.4 606.92h0.01M106.36 608.11h0.01M109.33 609.3h0.01M112.29 610.49h0.01M115.26 611.68h0.01M118.22 612.87h0.01M121.18 614.06h0.01M124.15 615.25h0.01M127.11 616.44h0.01M130.08 617.63h0.01M133.04 618.82h0.01M136.01 620.01h0.01M138.97 621.19h0.01M141.94 622.38h0.01M144.9 623.57h0.01M147.87 624.76h0.01M150.83 625.95h0.01M153.8 627.14h0.01M156.76 628.33h0.01M159.72 629.52h0.01M162.69 630.71h0.01M165.65 631.9h0.01M168.62 633.09h0.01M171.58 634.28h0.01M174.55 635.47h0.01M177.51 636.66h0.01M180.48 637.85h0.01M183.44 639.04h0.01M186.41 640.23h0.01M189.37 641.42h0.01M192.33 642.61h0.01M78.31 599.56h0.01M81.27 600.78h0.01M84.24 601.99h0.01M87.2 603.21h0.01M90.17 604.43h0.01M93.13 605.65h0.01M96.1 606.86h0.01M99.06 608.08h0.01M102.03 609.3h0.01M104.99 610.52h0.01M107.95 611.74h0.01M110.92 612.95h0.01M113.88 614.17h0.01M116.85 615.39h0.01M119.81 616.61h0.01M122.78 617.82h0.01M125.74 619.04h0.01M128.71 620.26h0.01M131.67 621.48h0.01M134.64 622.69h0.01M137.6 623.91h0.01M140.57 625.13h0.01M143.53 626.35h0.01M146.49 627.56h0.01M149.46 628.78h0.01M152.42 630h0.01M155.39 631.22h0.01M158.35 632.43h0.01M161.32 633.65h0.01M164.28 634.87h0.01M167.25 636.09h0.01M170.21 637.31h0.01M173.18 638.52h0.01M176.14 639.74h0.01M179.1 640.96h0.01M182.07 642.18h0.01M185.03 643.39h0.01M188 644.61h0.01M73.97 600.5h0.01M76.94 601.74h0.01M79.9 602.99h0.01M82.87 604.24h0.01M85.83 605.48h0.01M88.8 606.73h0.01M91.76 607.97h0.01M94.72 609.22h0.01M97.69 610.46h0.01M100.65 611.71h0.01M103.62 612.95h0.01M106.58 614.2h0.01M109.55 615.45h0.01M112.51 616.69h0.01M115.48 617.94h0.01M118.44 619.18h0.01M121.41 620.43h0.01M124.37 621.67h0.01M127.33 622.92h0.01M130.3 624.16h0.01M133.26 625.41h0.01M136.23 626.66h0.01M139.19 627.9h0.01M142.16 629.15h0.01M145.12 630.39h0.01M148.09 631.64h0.01M151.05 632.88h0.01M154.02 634.13h0.01M156.98 635.37h0.01M159.95 636.62h0.01M162.91 637.87h0.01M165.87 639.11h0.01M168.84 640.36h0.01M171.8 641.6h0.01M174.77 642.85h0.01M177.73 644.09h0.01M180.7 645.34h0.01M183.66 646.59h0.01M186.63 647.83h0.01M72.6 602.68h0.01M75.57 603.96h0.01M78.53 605.23h0.01M81.49 606.5h0.01M84.46 607.78h0.01M87.42 609.05h0.01M90.39 610.33h0.01M93.35 611.6h0.01M96.32 612.87h0.01M99.28 614.15h0.01M102.25 615.42h0.01M105.21 616.69h0.01M108.18 617.97h0.01M111.14 619.24h0.01M114.1 620.51h0.01M117.07 621.79h0.01M120.03 623.06h0.01M123 624.33h0.01M125.96 625.61h0.01M128.93 626.88h0.01M131.89 628.15h0.01M134.86 629.43h0.01M137.82 630.7h0.01M140.79 631.98h0.01M143.75 633.25h0.01M146.72 634.52h0.01M149.68 635.8h0.01M152.64 637.07h0.01M155.61 638.34h0.01M158.57 639.62h0.01M161.54 640.89h0.01M164.5 642.16h0.01M167.47 643.44h0.01M170.43 644.71h0.01M173.4 645.98h0.01M176.36 647.26h0.01M179.33 648.53h0.01M182.29 649.8h0.01M68.26 603.6h0.01M71.23 604.9h0.01M74.19 606.2h0.01M77.16 607.5h0.01M80.12 608.8h0.01M83.09 610.1h0.01M86.05 611.41h0.01M89.02 612.71h0.01M91.98 614.01h0.01M94.95 615.31h0.01M97.91 616.61h0.01M100.87 617.91h0.01M103.84 619.21h0.01M106.8 620.52h0.01M109.77 621.82h0.01M112.73 623.12h0.01M115.7 624.42h0.01M118.66 625.72h0.01M121.63 627.02h0.01M124.59 628.32h0.01M127.56 629.63h0.01M130.52 630.93h0.01M133.48 632.23h0.01M136.45 633.53h0.01M139.41 634.83h0.01M142.38 636.13h0.01M145.34 637.43h0.01M148.31 638.74h0.01M151.27 640.04h0.01M154.24 641.34h0.01M157.2 642.64h0.01M160.17 643.94h0.01M163.13 645.24h0.01M166.1 646.54h0.01M169.06 647.85h0.01M172.02 649.15h0.01M174.99 650.45h0.01M177.95 651.75h0.01M180.92 653.05h0.01M66.89 605.81h0.01M69.86 607.14h0.01M72.82 608.47h0.01M75.79 609.8h0.01M78.75 611.13h0.01M81.72 612.46h0.01M84.68 613.79h0.01M87.64 615.12h0.01M90.61 616.44h0.01M93.57 617.77h0.01M96.54 619.1h0.01M99.5 620.43h0.01M102.47 621.76h0.01M105.43 623.09h0.01M108.4 624.42h0.01M111.36 625.75h0.01M114.33 627.08h0.01M117.29 628.41h0.01M120.25 629.74h0.01M123.22 631.07h0.01M126.18 632.4h0.01M129.15 633.73h0.01M132.11 635.06h0.01M135.08 636.39h0.01M138.04 637.72h0.01M141.01 639.05h0.01M143.97 640.37h0.01M146.94 641.7h0.01M149.9 643.03h0.01M152.87 644.36h0.01M155.83 645.69h0.01M158.79 647.02h0.01M161.76 648.35h0.01M164.72 649.68h0.01M167.69 651.01h0.01M170.65 652.34h0.01M173.62 653.67h0.01M176.58 655h0.01M62.56 606.69h0.01M65.52 608.05h0.01M68.48 609.41h0.01M71.45 610.77h0.01M74.41 612.12h0.01M77.38 613.48h0.01M80.34 614.84h0.01M83.31 616.2h0.01M86.27 617.55h0.01M89.24 618.91h0.01M92.2 620.27h0.01M95.17 621.62h0.01M98.13 622.98h0.01M101.1 624.34h0.01M104.06 625.7h0.01M107.02 627.05h0.01M109.99 628.41h0.01M112.95 629.77h0.01M115.92 631.13h0.01M118.88 632.48h0.01M121.85 633.84h0.01M124.81 635.2h0.01M127.78 636.56h0.01M130.74 637.91h0.01M133.71 639.27h0.01M136.67 640.63h0.01M139.63 641.99h0.01M142.6 643.34h0.01M145.56 644.7h0.01M148.53 646.06h0.01M151.49 647.41h0.01M154.46 648.77h0.01M157.42 650.13h0.01M160.39 651.49h0.01M163.35 652.84h0.01M166.32 654.2h0.01M169.28 655.56h0.01M172.25 656.92h0.01M175.21 658.27h0.01M61.18 608.93h0.01M64.15 610.32h0.01M67.11 611.71h0.01M70.08 613.09h0.01M73.04 614.48h0.01M76.01 615.86h0.01M78.97 617.25h0.01M81.94 618.63h0.01M84.9 620.02h0.01M87.87 621.4h0.01M90.83 622.79h0.01M93.79 624.17h0.01M96.76 625.56h0.01M99.72 626.94h0.01M102.69 628.33h0.01M105.65 629.71h0.01M108.62 631.1h0.01M111.58 632.49h0.01M114.55 633.87h0.01M117.51 635.26h0.01M120.48 636.64h0.01M123.44 638.03h0.01M126.4 639.41h0.01M129.37 640.8h0.01M132.33 642.18h0.01M135.3 643.57h0.01M138.26 644.95h0.01M141.23 646.34h0.01M144.19 647.72h0.01M147.16 649.11h0.01M150.12 650.49h0.01M153.09 651.88h0.01M156.05 653.27h0.01M159.02 654.65h0.01M161.98 656.04h0.01M164.94 657.42h0.01M167.91 658.81h0.01M170.87 660.19h0.01M56.85 609.79h0.01M59.81 611.2h0.01M62.78 612.62h0.01M65.74 614.03h0.01M68.71 615.44h0.01M71.67 616.86h0.01M74.63 618.27h0.01M77.6 619.68h0.01M80.56 621.1h0.01M83.53 622.51h0.01M86.49 623.92h0.01M89.46 625.34h0.01M92.42 626.75h0.01M95.39 628.16h0.01M98.35 629.58h0.01M101.32 630.99h0.01M104.28 632.4h0.01M107.25 633.82h0.01M110.21 635.23h0.01M113.17 636.64h0.01M116.14 638.06h0.01M119.1 639.47h0.01M122.07 640.88h0.01M125.03 642.3h0.01M128 643.71h0.01M130.96 645.12h0.01M133.93 646.54h0.01M136.89 647.95h0.01M139.86 649.36h0.01M142.82 650.78h0.01M145.78 652.19h0.01M148.75 653.6h0.01M151.71 655.02h0.01M154.68 656.43h0.01M157.64 657.84h0.01M160.61 659.26h0.01M163.57 660.67h0.01M166.54 662.08h0.01M169.5 663.5h0.01M55.48 612.06h0.01M58.44 613.5h0.01M61.4 614.94h0.01M64.37 616.38h0.01M67.33 617.83h0.01M70.3 619.27h0.01M73.26 620.71h0.01M76.23 622.15h0.01M79.19 623.59h0.01M82.16 625.03h0.01M85.12 626.47h0.01M88.09 627.91h0.01M91.05 629.35h0.01M94.02 630.8h0.01M96.98 632.24h0.01M99.94 633.68h0.01M102.91 635.12h0.01M105.87 636.56h0.01M108.84 638h0.01M111.8 639.44h0.01M114.77 640.88h0.01M117.73 642.33h0.01M120.7 643.77h0.01M123.66 645.21h0.01M126.63 646.65h0.01M129.59 648.09h0.01M132.55 649.53h0.01M135.52 650.97h0.01M138.48 652.41h0.01M141.45 653.86h0.01M144.41 655.3h0.01M147.38 656.74h0.01M150.34 658.18h0.01M153.31 659.62h0.01M156.27 661.06h0.01M159.24 662.5h0.01M162.2 663.94h0.01M165.17 665.39h0.01M51.14 612.89h0.01M54.1 614.36h0.01M57.07 615.83h0.01M60.03 617.3h0.01M63 618.76h0.01M65.96 620.23h0.01M68.93 621.7h0.01M71.89 623.17h0.01M74.86 624.64h0.01M77.82 626.11h0.01M80.78 627.58h0.01M83.75 629.05h0.01M86.71 630.52h0.01M89.68 631.99h0.01M92.64 633.46h0.01M95.61 634.93h0.01M98.57 636.4h0.01M101.54 637.86h0.01M104.5 639.33h0.01M107.47 640.8h0.01M110.43 642.27h0.01M113.4 643.74h0.01M116.36 645.21h0.01M119.32 646.68h0.01M122.29 648.15h0.01M125.25 649.62h0.01M128.22 651.09h0.01M131.18 652.56h0.01M134.15 654.03h0.01M137.11 655.49h0.01M140.08 656.96h0.01M143.04 658.43h0.01M146.01 659.9h0.01M148.97 661.37h0.01M151.93 662.84h0.01M154.9 664.31h0.01M157.86 665.78h0.01M160.83 667.25h0.01M163.79 668.72h0.01M49.77 615.19h0.01M52.73 616.68h0.01M55.7 618.18h0.01M58.66 619.68h0.01M61.63 621.17h0.01M64.59 622.67h0.01M67.55 624.17h0.01M70.52 625.67h0.01M73.48 627.16h0.01M76.45 628.66h0.01M79.41 630.16h0.01M82.38 631.65h0.01M85.34 633.15h0.01M88.31 634.65h0.01M91.27 636.15h0.01M94.24 637.64h0.01M97.2 639.14h0.01M100.17 640.64h0.01M103.13 642.13h0.01M106.09 643.63h0.01M109.06 645.13h0.01M112.02 646.63h0.01M114.99 648.12h0.01M117.95 649.62h0.01M120.92 651.12h0.01M123.88 652.61h0.01M126.85 654.11h0.01M129.81 655.61h0.01M132.78 657.11h0.01M135.74 658.6h0.01M138.7 660.1h0.01M141.67 661.6h0.01M144.63 663.09h0.01M147.6 664.59h0.01M150.56 666.09h0.01M153.53 667.59h0.01M156.49 669.08h0.01M159.46 670.58h0.01M45.43 615.99h0.01M48.4 617.51h0.01M51.36 619.04h0.01M54.32 620.56h0.01M57.29 622.09h0.01M60.25 623.61h0.01M63.22 625.14h0.01M66.18 626.66h0.01M69.15 628.19h0.01M72.11 629.71h0.01M75.08 631.24h0.01M78.04 632.76h0.01M81.01 634.29h0.01M83.97 635.81h0.01M86.93 637.34h0.01M89.9 638.86h0.01M92.86 640.39h0.01M95.83 641.91h0.01M98.79 643.44h0.01M101.76 644.96h0.01M104.72 646.49h0.01M107.69 648.01h0.01M110.65 649.54h0.01M113.62 651.06h0.01M116.58 652.59h0.01M119.55 654.11h0.01M122.51 655.64h0.01M125.47 657.16h0.01M128.44 658.69h0.01M131.4 660.21h0.01M134.37 661.74h0.01M137.33 663.26h0.01M140.3 664.79h0.01M143.26 666.31h0.01M146.23 667.84h0.01M149.19 669.36h0.01M152.16 670.89h0.01M155.12 672.41h0.01M158.08 673.94h0.01M44.06 618.31h0.01M47.02 619.86h0.01M49.99 621.42h0.01M52.95 622.97h0.01M55.92 624.52h0.01M58.88 626.08h0.01M61.85 627.63h0.01M64.81 629.18h0.01M67.78 630.73h0.01M70.74 632.29h0.01M73.7 633.84h0.01M76.67 635.39h0.01M79.63 636.95h0.01M82.6 638.5h0.01M85.56 640.05h0.01M88.53 641.61h0.01M91.49 643.16h0.01M94.46 644.71h0.01M97.42 646.27h0.01M100.39 647.82h0.01M103.35 649.37h0.01M106.32 650.92h0.01M109.28 652.48h0.01M112.24 654.03h0.01M115.21 655.58h0.01M118.17 657.14h0.01M121.14 658.69h0.01M124.1 660.24h0.01M127.07 661.8h0.01M130.03 663.35h0.01M133 664.9h0.01M135.96 666.45h0.01M138.93 668.01h0.01M141.89 669.56h0.01M144.85 671.11h0.01M147.82 672.67h0.01M150.78 674.22h0.01M153.75 675.77h0.01M39.72 619.08h0.01M42.69 620.66h0.01M45.65 622.24h0.01M48.62 623.83h0.01M51.58 625.41h0.01M54.55 626.99h0.01M57.51 628.57h0.01M60.47 630.15h0.01M63.44 631.73h0.01M66.4 633.31h0.01M69.37 634.89h0.01M72.33 636.47h0.01M75.3 638.05h0.01M78.26 639.64h0.01M81.23 641.22h0.01M84.19 642.8h0.01M87.16 644.38h0.01M90.12 645.96h0.01M93.08 647.54h0.01M96.05 649.12h0.01M99.01 650.7h0.01M101.98 652.28h0.01M104.94 653.86h0.01M107.91 655.45h0.01M110.87 657.03h0.01M113.84 658.61h0.01M116.8 660.19h0.01M119.77 661.77h0.01M122.73 663.35h0.01M125.7 664.93h0.01M128.66 666.51h0.01M131.62 668.09h0.01M134.59 669.67h0.01M137.55 671.26h0.01M140.52 672.84h0.01M143.48 674.42h0.01M146.45 676h0.01M149.41 677.58h0.01M152.38 679.16h0.01M38.35 621.44h0.01M41.32 623.04h0.01M44.28 624.65h0.01M47.24 626.26h0.01M50.21 627.87h0.01M53.17 629.48h0.01M56.14 631.09h0.01M59.1 632.7h0.01M62.07 634.31h0.01M65.03 635.92h0.01M68 637.53h0.01M70.96 639.13h0.01M73.93 640.74h0.01M76.89 642.35h0.01M79.85 643.96h0.01M82.82 645.57h0.01M85.78 647.18h0.01M88.75 648.79h0.01M91.71 650.4h0.01M94.68 652.01h0.01M97.64 653.61h0.01M100.61 655.22h0.01M103.57 656.83h0.01M106.54 658.44h0.01M109.5 660.05h0.01M112.47 661.66h0.01M115.43 663.27h0.01M118.39 664.88h0.01M121.36 666.49h0.01M124.32 668.1h0.01M127.29 669.7h0.01M130.25 671.31h0.01M133.22 672.92h0.01M136.18 674.53h0.01M139.15 676.14h0.01M142.11 677.75h0.01M145.08 679.36h0.01M148.04 680.97h0.01" stroke="#d2d2d2" stroke-width="2.15" stroke-linecap="round" fill="none"/>
<path d="M218.13 622.69h0.01M221.1 623.65h0.01M224.06 624.62h0.01M227.03 625.59h0.01M229.99 626.55h0.01M213.8 624.83h0.01M216.76 625.82h0.01M219.73 626.82h0.01M222.69 627.81h0.01M225.65 628.81h0.01M212.42 627.97h0.01M215.39 628.99h0.01M218.35 630.01h0.01M221.32 631.03h0.01M224.28 632.05h0.01M208.09 630.08h0.01M211.05 631.13h0.01M214.02 632.18h0.01M216.98 633.23h0.01M219.95 634.28h0.01M206.72 633.24h0.01M209.68 634.32h0.01M212.65 635.4h0.01M215.61 636.48h0.01M218.57 637.56h0.01M202.38 635.33h0.01M205.34 636.44h0.01M208.31 637.54h0.01M211.27 638.65h0.01M214.24 639.75h0.01M201.01 638.52h0.01M203.97 639.65h0.01M206.94 640.79h0.01M209.9 641.92h0.01M212.87 643.06h0.01M196.67 640.58h0.01M199.64 641.74h0.01M202.6 642.9h0.01M205.57 644.06h0.01M208.53 645.23h0.01M195.3 643.8h0.01M198.26 644.99h0.01M201.23 646.18h0.01M204.19 647.37h0.01M207.16 648.56h0.01M190.96 645.83h0.01M193.93 647.05h0.01M196.89 648.26h0.01M199.86 649.48h0.01M202.82 650.7h0.01M189.59 649.08h0.01M192.56 650.32h0.01M195.52 651.57h0.01M198.48 652.81h0.01M201.45 654.06h0.01M185.25 651.08h0.01M188.22 652.35h0.01M191.18 653.63h0.01M194.15 654.9h0.01M197.11 656.17h0.01M183.88 654.35h0.01M186.85 655.66h0.01M189.81 656.96h0.01M192.78 658.26h0.01M195.74 659.56h0.01M179.55 656.33h0.01M182.51 657.66h0.01M185.48 658.99h0.01M188.44 660.32h0.01M191.4 661.65h0.01M178.17 659.63h0.01M181.14 660.99h0.01M184.1 662.35h0.01M187.07 663.7h0.01M190.03 665.06h0.01M173.84 661.58h0.01M176.8 662.96h0.01M179.77 664.35h0.01M182.73 665.73h0.01M185.7 667.12h0.01M172.47 664.91h0.01M175.43 666.32h0.01M178.4 667.74h0.01M181.36 669.15h0.01M184.32 670.56h0.01M168.13 666.83h0.01M171.09 668.27h0.01M174.06 669.71h0.01M177.02 671.15h0.01M179.99 672.59h0.01M166.76 670.19h0.01M169.72 671.66h0.01M172.69 673.12h0.01M175.65 674.59h0.01M178.62 676.06h0.01M162.42 672.08h0.01M165.39 673.57h0.01M168.35 675.07h0.01M171.32 676.57h0.01M174.28 678.07h0.01M161.05 675.46h0.01M164.01 676.99h0.01M166.98 678.51h0.01M169.94 680.04h0.01M172.91 681.56h0.01M156.71 677.33h0.01M159.68 678.88h0.01M162.64 680.43h0.01M165.61 681.99h0.01M168.57 683.54h0.01M155.34 680.74h0.01M158.31 682.32h0.01M161.27 683.9h0.01M164.23 685.48h0.01M167.2 687.07h0.01M151 682.58h0.01M153.97 684.18h0.01M156.93 685.79h0.01M159.9 687.4h0.01M162.86 689.01h0.01" stroke="#e6e6e6" stroke-width="2.45" stroke-linecap="round" fill="none"/>
<ellipse cx="231.55" cy="628.91" rx="2.7" ry="2.1" fill="#f4f4f4" stroke="#686868" stroke-width="1.35"/>
<ellipse cx="225.84" cy="634.47" rx="2.7" ry="2.1" fill="#f4f4f4" stroke="#686868" stroke-width="1.35"/>
<ellipse cx="220.13" cy="640.03" rx="2.7" ry="2.1" fill="#f4f4f4" stroke="#686868" stroke-width="1.35"/>
<ellipse cx="214.42" cy="645.59" rx="2.7" ry="2.1" fill="#f4f4f4" stroke="#686868" stroke-width="1.35"/>
<ellipse cx="208.71" cy="651.14" rx="2.7" ry="2.1" fill="#f4f4f4" stroke="#686868" stroke-width="1.35"/>
<ellipse cx="203" cy="656.7" rx="2.7" ry="2.1" fill="#f4f4f4" stroke="#686868" stroke-width="1.35"/>
<ellipse cx="197.3" cy="662.26" rx="2.7" ry="2.1" fill="#f4f4f4" stroke="#686868" stroke-width="1.35"/>
<ellipse cx="191.59" cy="667.82" rx="2.7" ry="2.1" fill="#f4f4f4" stroke="#686868" stroke-width="1.35"/>
<ellipse cx="185.88" cy="673.37" rx="2.7" ry="2.1" fill="#f4f4f4" stroke="#686868" stroke-width="1.35"/>
<ellipse cx="180.17" cy="678.93" rx="2.7" ry="2.1" fill="#f4f4f4" stroke="#686868" stroke-width="1.35"/>
<ellipse cx="174.46" cy="684.49" rx="2.7" ry="2.1" fill="#f4f4f4" stroke="#686868" stroke-width="1.35"/>
<ellipse cx="168.75" cy="690.05" rx="2.7" ry="2.1" fill="#f4f4f4" stroke="#686868" stroke-width="1.35"/>
<ellipse cx="232.82" cy="633.1" rx="2.7" ry="2.1" fill="#f4f4f4" stroke="#686868" stroke-width="1.35"/>
<ellipse cx="227.11" cy="638.73" rx="2.7" ry="2.1" fill="#f4f4f4" stroke="#686868" stroke-width="1.35"/>
<ellipse cx="221.4" cy="644.37" rx="2.7" ry="2.1" fill="#f4f4f4" stroke="#686868" stroke-width="1.35"/>
<ellipse cx="215.69" cy="650" rx="2.7" ry="2.1" fill="#f4f4f4" stroke="#686868" stroke-width="1.35"/>
<ellipse cx="209.99" cy="655.64" rx="2.7" ry="2.1" fill="#f4f4f4" stroke="#686868" stroke-width="1.35"/>
<ellipse cx="204.28" cy="661.27" rx="2.7" ry="2.1" fill="#f4f4f4" stroke="#686868" stroke-width="1.35"/>
<ellipse cx="198.57" cy="666.91" rx="2.7" ry="2.1" fill="#f4f4f4" stroke="#686868" stroke-width="1.35"/>
<ellipse cx="192.86" cy="672.54" rx="2.7" ry="2.1" fill="#f4f4f4" stroke="#686868" stroke-width="1.35"/>
<ellipse cx="187.15" cy="678.18" rx="2.7" ry="2.1" fill="#f4f4f4" stroke="#686868" stroke-width="1.35"/>
<ellipse cx="181.44" cy="683.81" rx="2.7" ry="2.1" fill="#f4f4f4" stroke="#686868" stroke-width="1.35"/>
<ellipse cx="175.74" cy="689.45" rx="2.7" ry="2.1" fill="#f4f4f4" stroke="#686868" stroke-width="1.35"/>
<ellipse cx="239.8" cy="631.64" rx="2.7" ry="2.1" fill="#f4f4f4" stroke="#686868" stroke-width="1.35"/>
<ellipse cx="234.09" cy="637.36" rx="2.7" ry="2.1" fill="#f4f4f4" stroke="#686868" stroke-width="1.35"/>
<ellipse cx="228.38" cy="643.07" rx="2.7" ry="2.1" fill="#f4f4f4" stroke="#686868" stroke-width="1.35"/>
<ellipse cx="222.67" cy="648.78" rx="2.7" ry="2.1" fill="#f4f4f4" stroke="#686868" stroke-width="1.35"/>
<ellipse cx="216.97" cy="654.49" rx="2.7" ry="2.1" fill="#f4f4f4" stroke="#686868" stroke-width="1.35"/>
<ellipse cx="211.26" cy="660.21" rx="2.7" ry="2.1" fill="#f4f4f4" stroke="#686868" stroke-width="1.35"/>
<ellipse cx="205.55" cy="665.92" rx="2.7" ry="2.1" fill="#f4f4f4" stroke="#686868" stroke-width="1.35"/>
<ellipse cx="199.84" cy="671.63" rx="2.7" ry="2.1" fill="#f4f4f4" stroke="#686868" stroke-width="1.35"/>
<ellipse cx="194.13" cy="677.35" rx="2.7" ry="2.1" fill="#f4f4f4" stroke="#686868" stroke-width="1.35"/>
<ellipse cx="188.42" cy="683.06" rx="2.7" ry="2.1" fill="#f4f4f4" stroke="#686868" stroke-width="1.35"/>
<ellipse cx="182.72" cy="688.77" rx="2.7" ry="2.1" fill="#f4f4f4" stroke="#686868" stroke-width="1.35"/>
<ellipse cx="177.01" cy="694.49" rx="2.7" ry="2.1" fill="#f4f4f4" stroke="#686868" stroke-width="1.35"/>
<ellipse cx="241.07" cy="635.9" rx="2.7" ry="2.1" fill="#f4f4f4" stroke="#686868" stroke-width="1.35"/>
<ellipse cx="235.36" cy="641.69" rx="2.7" ry="2.1" fill="#f4f4f4" stroke="#686868" stroke-width="1.35"/>
<ellipse cx="229.66" cy="647.48" rx="2.7" ry="2.1" fill="#f4f4f4" stroke="#686868" stroke-width="1.35"/>
<ellipse cx="223.95" cy="653.27" rx="2.7" ry="2.1" fill="#f4f4f4" stroke="#686868" stroke-width="1.35"/>
<ellipse cx="218.24" cy="659.07" rx="2.7" ry="2.1" fill="#f4f4f4" stroke="#686868" stroke-width="1.35"/>
<ellipse cx="212.53" cy="664.86" rx="2.7" ry="2.1" fill="#f4f4f4" stroke="#686868" stroke-width="1.35"/>
<ellipse cx="206.82" cy="670.65" rx="2.7" ry="2.1" fill="#f4f4f4" stroke="#686868" stroke-width="1.35"/>
<ellipse cx="201.11" cy="676.44" rx="2.7" ry="2.1" fill="#f4f4f4" stroke="#686868" stroke-width="1.35"/>
<ellipse cx="195.41" cy="682.23" rx="2.7" ry="2.1" fill="#f4f4f4" stroke="#686868" stroke-width="1.35"/>
<ellipse cx="189.7" cy="688.02" rx="2.7" ry="2.1" fill="#f4f4f4" stroke="#686868" stroke-width="1.35"/>
<ellipse cx="183.99" cy="693.81" rx="2.7" ry="2.1" fill="#f4f4f4" stroke="#686868" stroke-width="1.35"/>
<ellipse cx="211" cy="615.7" rx="13.2" ry="10.2" fill="#4fa67c" fill-opacity="0.55" clip-path="url(#shc3)"/>
<path d="M103.76 578.56 q2.28 -1.14 2.66 0.76 q0 1.52 -1.9 2.09 q-1.14 1.14 1.52 2.47" fill="none" stroke="#b8425a" stroke-width="1.24" stroke-linecap="round" stroke-opacity="0.9"/>
<path d="M120.23 583.72 q2.33 -1.17 2.72 0.78 q0 1.55 -1.94 2.14 q-1.17 1.17 1.55 2.53" fill="none" stroke="#b8425a" stroke-width="1.26" stroke-linecap="round" stroke-opacity="0.9"/>
<path d="M132.87 587.67 q2.37 -1.18 2.76 0.79 q0 1.58 -1.97 2.17 q-1.18 1.18 1.58 2.57" fill="none" stroke="#b8425a" stroke-width="1.28" stroke-linecap="round" stroke-opacity="0.9"/>
<path d="M146.37 591.89 q2.41 -1.2 2.81 0.8 q0 1.61 -2.01 2.21 q-1.2 1.2 1.61 2.61" fill="none" stroke="#b8425a" stroke-width="1.3" stroke-linecap="round" stroke-opacity="0.9"/>
<path d="M160.57 596.33 q2.45 -1.23 2.86 0.82 q0 1.63 -2.04 2.25 q-1.23 1.23 1.63 2.65" fill="none" stroke="#b8425a" stroke-width="1.33" stroke-linecap="round" stroke-opacity="0.9"/>
<path d="M176.76 601.4 q2.5 -1.25 2.91 0.83 q0 1.67 -2.08 2.29 q-1.25 1.25 1.67 2.71" fill="none" stroke="#b8425a" stroke-width="1.35" stroke-linecap="round" stroke-opacity="0.9"/>
<path d="M193.66 606.68 q2.55 -1.27 2.97 0.85 q0 1.7 -2.12 2.34 q-1.27 1.27 1.7 2.76" fill="none" stroke="#b8425a" stroke-width="1.38" stroke-linecap="round" stroke-opacity="0.9"/>
<path d="M212.26 612.5 q2.6 -1.3 3.04 0.87 q0 1.74 -2.17 2.39 q-1.3 1.3 1.74 2.82" fill="none" stroke="#b8425a" stroke-width="1.41" stroke-linecap="round" stroke-opacity="0.9"/>
<path d="M94.14 583.69 q2.33 -1.17 2.72 0.78 q0 1.55 -1.94 2.14 q-1.17 1.17 1.55 2.53" fill="none" stroke="#b8425a" stroke-width="1.26" stroke-linecap="round" stroke-opacity="0.9"/>
<path d="M110.61 589.37 q2.38 -1.19 2.78 0.79 q0 1.59 -1.98 2.18 q-1.19 1.19 1.59 2.58" fill="none" stroke="#b8425a" stroke-width="1.29" stroke-linecap="round" stroke-opacity="0.9"/>
<path d="M123.25 593.72 q2.42 -1.21 2.82 0.81 q0 1.61 -2.02 2.22 q-1.21 1.21 1.61 2.62" fill="none" stroke="#b8425a" stroke-width="1.31" stroke-linecap="round" stroke-opacity="0.9"/>
<path d="M136.74 598.37 q2.46 -1.23 2.87 0.82 q0 1.64 -2.05 2.25 q-1.23 1.23 1.64 2.66" fill="none" stroke="#b8425a" stroke-width="1.33" stroke-linecap="round" stroke-opacity="0.9"/>
<path d="M150.94 603.26 q2.5 -1.25 2.92 0.83 q0 1.67 -2.08 2.29 q-1.25 1.25 1.67 2.71" fill="none" stroke="#b8425a" stroke-width="1.35" stroke-linecap="round" stroke-opacity="0.9"/>
<path d="M167.13 608.84 q2.55 -1.27 2.97 0.85 q0 1.7 -2.12 2.34 q-1.27 1.27 1.7 2.76" fill="none" stroke="#b8425a" stroke-width="1.38" stroke-linecap="round" stroke-opacity="0.9"/>
<path d="M184.04 614.66 q2.6 -1.3 3.03 0.87 q0 1.73 -2.17 2.38 q-1.3 1.3 1.73 2.81" fill="none" stroke="#b8425a" stroke-width="1.41" stroke-linecap="round" stroke-opacity="0.9"/>
<path d="M202.64 621.07 q2.65 -1.33 3.1 0.88 q0 1.77 -2.21 2.43 q-1.33 1.33 1.77 2.87" fill="none" stroke="#b8425a" stroke-width="1.44" stroke-linecap="round" stroke-opacity="0.9"/>
<path d="M82.44 589.9 q2.4 -1.2 2.8 0.8 q0 1.6 -2 2.2 q-1.2 1.2 1.6 2.6" fill="none" stroke="#b8425a" stroke-width="1.3" stroke-linecap="round" stroke-opacity="0.9"/>
<path d="M98.92 596.21 q2.45 -1.23 2.86 0.82 q0 1.64 -2.04 2.25 q-1.23 1.23 1.64 2.66" fill="none" stroke="#b8425a" stroke-width="1.33" stroke-linecap="round" stroke-opacity="0.9"/>
<path d="M111.56 601.05 q2.49 -1.24 2.9 0.83 q0 1.66 -2.07 2.28 q-1.24 1.24 1.66 2.7" fill="none" stroke="#b8425a" stroke-width="1.35" stroke-linecap="round" stroke-opacity="0.9"/>
<path d="M125.05 606.22 q2.53 -1.26 2.95 0.84 q0 1.69 -2.11 2.32 q-1.26 1.26 1.69 2.74" fill="none" stroke="#b8425a" stroke-width="1.37" stroke-linecap="round" stroke-opacity="0.9"/>
<path d="M139.25 611.66 q2.57 -1.29 3 0.86 q0 1.71 -2.14 2.36 q-1.29 1.29 1.71 2.79" fill="none" stroke="#b8425a" stroke-width="1.39" stroke-linecap="round" stroke-opacity="0.9"/>
<path d="M155.44 617.87 q2.62 -1.31 3.06 0.87 q0 1.75 -2.18 2.4 q-1.31 1.31 1.75 2.84" fill="none" stroke="#b8425a" stroke-width="1.42" stroke-linecap="round" stroke-opacity="0.9"/>
<path d="M172.34 624.34 q2.67 -1.33 3.11 0.89 q0 1.78 -2.22 2.45 q-1.33 1.33 1.78 2.89" fill="none" stroke="#b8425a" stroke-width="1.45" stroke-linecap="round" stroke-opacity="0.9"/>
<path d="M190.95 631.47 q2.72 -1.36 3.18 0.91 q0 1.82 -2.27 2.5 q-1.36 1.36 1.82 2.95" fill="none" stroke="#b8425a" stroke-width="1.48" stroke-linecap="round" stroke-opacity="0.9"/>
<path d="M70.75 596.11 q2.48 -1.24 2.89 0.83 q0 1.65 -2.06 2.27 q-1.24 1.24 1.65 2.68" fill="none" stroke="#b8425a" stroke-width="1.34" stroke-linecap="round" stroke-opacity="0.9"/>
<path d="M87.23 603.06 q2.52 -1.26 2.94 0.84 q0 1.68 -2.1 2.31 q-1.26 1.26 1.68 2.73" fill="none" stroke="#b8425a" stroke-width="1.37" stroke-linecap="round" stroke-opacity="0.9"/>
<path d="M99.87 608.39 q2.56 -1.28 2.99 0.85 q0 1.71 -2.13 2.35 q-1.28 1.28 1.71 2.77" fill="none" stroke="#b8425a" stroke-width="1.39" stroke-linecap="round" stroke-opacity="0.9"/>
<path d="M113.36 614.07 q2.6 -1.3 3.03 0.87 q0 1.73 -2.17 2.38 q-1.3 1.3 1.73 2.82" fill="none" stroke="#b8425a" stroke-width="1.41" stroke-linecap="round" stroke-opacity="0.9"/>
<path d="M127.56 620.06 q2.64 -1.32 3.08 0.88 q0 1.76 -2.2 2.42 q-1.32 1.32 1.76 2.86" fill="none" stroke="#b8425a" stroke-width="1.43" stroke-linecap="round" stroke-opacity="0.9"/>
<path d="M143.75 626.89 q2.69 -1.35 3.14 0.9 q0 1.79 -2.24 2.47 q-1.35 1.35 1.79 2.92" fill="none" stroke="#b8425a" stroke-width="1.46" stroke-linecap="round" stroke-opacity="0.9"/>
<path d="M160.65 634.01 q2.74 -1.37 3.2 0.91 q0 1.83 -2.28 2.51 q-1.37 1.37 1.83 2.97" fill="none" stroke="#b8425a" stroke-width="1.48" stroke-linecap="round" stroke-opacity="0.9"/>
<path d="M179.25 641.86 q2.8 -1.4 3.26 0.93 q0 1.86 -2.33 2.56 q-1.4 1.4 1.86 3.03" fill="none" stroke="#b8425a" stroke-width="1.51" stroke-linecap="round" stroke-opacity="0.9"/>
<path d="M58.37 602.69 q2.55 -1.28 2.98 0.85 q0 1.7 -2.13 2.34 q-1.28 1.28 1.7 2.76" fill="none" stroke="#b8425a" stroke-width="1.38" stroke-linecap="round" stroke-opacity="0.9"/>
<path d="M74.85 610.3 q2.6 -1.3 3.03 0.87 q0 1.73 -2.17 2.38 q-1.3 1.3 1.73 2.82" fill="none" stroke="#b8425a" stroke-width="1.41" stroke-linecap="round" stroke-opacity="0.9"/>
<path d="M87.48 616.15 q2.64 -1.32 3.08 0.88 q0 1.76 -2.2 2.42 q-1.32 1.32 1.76 2.86" fill="none" stroke="#b8425a" stroke-width="1.43" stroke-linecap="round" stroke-opacity="0.9"/>
<path d="M100.98 622.39 q2.68 -1.34 3.12 0.89 q0 1.78 -2.23 2.45 q-1.34 1.34 1.78 2.9" fill="none" stroke="#b8425a" stroke-width="1.45" stroke-linecap="round" stroke-opacity="0.9"/>
<path d="M115.18 628.96 q2.72 -1.36 3.17 0.91 q0 1.81 -2.27 2.49 q-1.36 1.36 1.81 2.95" fill="none" stroke="#b8425a" stroke-width="1.47" stroke-linecap="round" stroke-opacity="0.9"/>
<path d="M131.37 636.44 q2.77 -1.38 3.23 0.92 q0 1.84 -2.31 2.54 q-1.38 1.38 1.84 3" fill="none" stroke="#b8425a" stroke-width="1.5" stroke-linecap="round" stroke-opacity="0.9"/>
<path d="M148.27 644.26 q2.82 -1.41 3.29 0.94 q0 1.88 -2.35 2.58 q-1.41 1.41 1.88 3.05" fill="none" stroke="#b8425a" stroke-width="1.53" stroke-linecap="round" stroke-opacity="0.9"/>
<path d="M166.87 652.86 q2.87 -1.44 3.35 0.96 q0 1.91 -2.39 2.63 q-1.44 1.44 1.91 3.11" fill="none" stroke="#b8425a" stroke-width="1.56" stroke-linecap="round" stroke-opacity="0.9"/>
<path d="M45.99 609.26 q2.63 -1.31 3.06 0.88 q0 1.75 -2.19 2.41 q-1.31 1.31 1.75 2.85" fill="none" stroke="#b8425a" stroke-width="1.42" stroke-linecap="round" stroke-opacity="0.9"/>
<path d="M62.46 617.55 q2.68 -1.34 3.12 0.89 q0 1.78 -2.23 2.45 q-1.34 1.34 1.78 2.9" fill="none" stroke="#b8425a" stroke-width="1.45" stroke-linecap="round" stroke-opacity="0.9"/>
<path d="M75.1 623.91 q2.71 -1.36 3.16 0.9 q0 1.81 -2.26 2.49 q-1.36 1.36 1.81 2.94" fill="none" stroke="#b8425a" stroke-width="1.47" stroke-linecap="round" stroke-opacity="0.9"/>
<path d="M88.6 630.7 q2.75 -1.38 3.21 0.92 q0 1.83 -2.29 2.52 q-1.38 1.38 1.83 2.98" fill="none" stroke="#b8425a" stroke-width="1.49" stroke-linecap="round" stroke-opacity="0.9"/>
<path d="M102.8 637.85 q2.79 -1.4 3.26 0.93 q0 1.86 -2.33 2.56 q-1.4 1.4 1.86 3.03" fill="none" stroke="#b8425a" stroke-width="1.51" stroke-linecap="round" stroke-opacity="0.9"/>
<path d="M118.99 646 q2.84 -1.42 3.32 0.95 q0 1.89 -2.37 2.61 q-1.42 1.42 1.89 3.08" fill="none" stroke="#b8425a" stroke-width="1.54" stroke-linecap="round" stroke-opacity="0.9"/>
<path d="M135.89 654.5 q2.89 -1.45 3.37 0.96 q0 1.93 -2.41 2.65 q-1.45 1.45 1.93 3.13" fill="none" stroke="#b8425a" stroke-width="1.57" stroke-linecap="round" stroke-opacity="0.9"/>
<path d="M154.49 663.87 q2.95 -1.47 3.44 0.98 q0 1.96 -2.46 2.7 q-1.47 1.47 1.96 3.19" fill="none" stroke="#b8425a" stroke-width="1.6" stroke-linecap="round" stroke-opacity="0.9"/>
<path d="M222.6 276 V453.2 H211" fill="none" stroke="#7fa394" stroke-width="1.1" stroke-opacity="0.9"/>
<path d="M237.6 268.5 V618 H225" fill="none" stroke="#7fa394" stroke-width="1.1" stroke-opacity="0.9"/>
<clipPath id="inc0"><ellipse cx="203.6" cy="58.2" rx="49.2" ry="36.4"/></clipPath>
<ellipse cx="203.6" cy="58.2" rx="50" ry="37.2" fill="#fff"/>
<g clip-path="url(#inc0)">
<line x1="153.6" y1="28.5" x2="253.6" y2="28.5" stroke="#cfd1d1" stroke-width="0.8" />
<line x1="153.6" y1="31.8" x2="253.6" y2="31.8" stroke="#cfd1d1" stroke-width="0.8" />
<line x1="153.6" y1="38.3" x2="253.6" y2="38.3" stroke="#cfd1d1" stroke-width="0.8" />
<line x1="153.6" y1="41.6" x2="253.6" y2="41.6" stroke="#cfd1d1" stroke-width="0.8" />
<line x1="153.6" y1="48.8" x2="253.6" y2="48.8" stroke="#cfd1d1" stroke-width="0.8" />
<line x1="153.6" y1="52.1" x2="253.6" y2="52.1" stroke="#cfd1d1" stroke-width="0.8" />
<line x1="153.6" y1="58.6" x2="253.6" y2="58.6" stroke="#cfd1d1" stroke-width="0.8" />
<line x1="153.6" y1="61.9" x2="253.6" y2="61.9" stroke="#cfd1d1" stroke-width="0.8" />
<line x1="153.6" y1="68.4" x2="253.6" y2="68.4" stroke="#cfd1d1" stroke-width="0.8" />
<line x1="153.6" y1="71.7" x2="253.6" y2="71.7" stroke="#cfd1d1" stroke-width="0.8" />
<line x1="153.6" y1="78.2" x2="253.6" y2="78.2" stroke="#cfd1d1" stroke-width="0.8" />
<line x1="153.6" y1="81.5" x2="253.6" y2="81.5" stroke="#cfd1d1" stroke-width="0.8" />
<line x1="153.6" y1="88.7" x2="253.6" y2="88.7" stroke="#cfd1d1" stroke-width="0.8" />
<line x1="153.6" y1="92" x2="253.6" y2="92" stroke="#cfd1d1" stroke-width="0.8" />
<line x1="169.1" y1="31.8" x2="169.1" y2="38.3" stroke="#c6c8c8" stroke-width="0.8" />
<line x1="169.1" y1="52.1" x2="169.1" y2="58.6" stroke="#c6c8c8" stroke-width="0.8" />
<line x1="169.1" y1="71.7" x2="169.1" y2="78.2" stroke="#c6c8c8" stroke-width="0.8" />
<line x1="191.2" y1="41.6" x2="191.2" y2="48.8" stroke="#c6c8c8" stroke-width="0.8" />
<line x1="191.2" y1="61.9" x2="191.2" y2="68.4" stroke="#c6c8c8" stroke-width="0.8" />
<line x1="191.2" y1="81.5" x2="191.2" y2="88.7" stroke="#c6c8c8" stroke-width="0.8" />
<line x1="215.9" y1="31.8" x2="215.9" y2="38.3" stroke="#c6c8c8" stroke-width="0.8" />
<line x1="215.9" y1="52.1" x2="215.9" y2="58.6" stroke="#c6c8c8" stroke-width="0.8" />
<line x1="215.9" y1="71.7" x2="215.9" y2="78.2" stroke="#c6c8c8" stroke-width="0.8" />
<line x1="238.6" y1="41.6" x2="238.6" y2="48.8" stroke="#c6c8c8" stroke-width="0.8" />
<line x1="238.6" y1="61.9" x2="238.6" y2="68.4" stroke="#c6c8c8" stroke-width="0.8" />
<line x1="238.6" y1="81.5" x2="238.6" y2="88.7" stroke="#c6c8c8" stroke-width="0.8" />
</g>
<path d="M203.5 50.4 L214.6 51 L214.6 58.2 L191.8 58.2 L191.8 70.5 L204.2 70.5" fill="none" stroke="#3f9474" stroke-width="1.7" stroke-linejoin="round" stroke-linecap="round"/>
<ellipse cx="203.5" cy="50.2" rx="4.6" ry="3.6" fill="#e2683c" fill-opacity="0.95"/>
<line x1="203.5" y1="50.2" x2="213.2" y2="37.8" stroke="#9c1f3c" stroke-width="1.6" stroke-linecap="round"/>
<polygon points="215.14,35.25 209.89,37.76 213.99,40.95" fill="#9c1f3c"/>
<ellipse cx="203.6" cy="58.2" rx="50" ry="37.2" fill="none" stroke="#7c9088" stroke-width="1.3"/>
<clipPath id="inc1"><ellipse cx="203.9" cy="240.6" rx="48.8" ry="36.5"/></clipPath>
<ellipse cx="203.9" cy="240.6" rx="49.6" ry="37.3" fill="#fff"/>
<g clip-path="url(#inc1)">
<line x1="154.3" y1="210.8" x2="253.5" y2="210.8" stroke="#cfd1d1" stroke-width="0.8" />
<line x1="154.3" y1="214.1" x2="253.5" y2="214.1" stroke="#cfd1d1" stroke-width="0.8" />
<line x1="154.3" y1="220.6" x2="253.5" y2="220.6" stroke="#cfd1d1" stroke-width="0.8" />
<line x1="154.3" y1="223.9" x2="253.5" y2="223.9" stroke="#cfd1d1" stroke-width="0.8" />
<line x1="154.3" y1="231.1" x2="253.5" y2="231.1" stroke="#cfd1d1" stroke-width="0.8" />
<line x1="154.3" y1="234.4" x2="253.5" y2="234.4" stroke="#cfd1d1" stroke-width="0.8" />
<line x1="154.3" y1="240.9" x2="253.5" y2="240.9" stroke="#cfd1d1" stroke-width="0.8" />
<line x1="154.3" y1="244.2" x2="253.5" y2="244.2" stroke="#cfd1d1" stroke-width="0.8" />
<line x1="154.3" y1="250.7" x2="253.5" y2="250.7" stroke="#cfd1d1" stroke-width="0.8" />
<line x1="154.3" y1="254" x2="253.5" y2="254" stroke="#cfd1d1" stroke-width="0.8" />
<line x1="154.3" y1="260.5" x2="253.5" y2="260.5" stroke="#cfd1d1" stroke-width="0.8" />
<line x1="154.3" y1="263.8" x2="253.5" y2="263.8" stroke="#cfd1d1" stroke-width="0.8" />
<line x1="154.3" y1="271" x2="253.5" y2="271" stroke="#cfd1d1" stroke-width="0.8" />
<line x1="154.3" y1="274.3" x2="253.5" y2="274.3" stroke="#cfd1d1" stroke-width="0.8" />
<line x1="169.4" y1="214.1" x2="169.4" y2="220.6" stroke="#c6c8c8" stroke-width="0.8" />
<line x1="169.4" y1="234.4" x2="169.4" y2="240.9" stroke="#c6c8c8" stroke-width="0.8" />
<line x1="169.4" y1="254" x2="169.4" y2="260.5" stroke="#c6c8c8" stroke-width="0.8" />
<line x1="191.5" y1="223.9" x2="191.5" y2="231.1" stroke="#c6c8c8" stroke-width="0.8" />
<line x1="191.5" y1="244.2" x2="191.5" y2="250.7" stroke="#c6c8c8" stroke-width="0.8" />
<line x1="191.5" y1="263.8" x2="191.5" y2="271" stroke="#c6c8c8" stroke-width="0.8" />
<line x1="216.2" y1="214.1" x2="216.2" y2="220.6" stroke="#c6c8c8" stroke-width="0.8" />
<line x1="216.2" y1="234.4" x2="216.2" y2="240.9" stroke="#c6c8c8" stroke-width="0.8" />
<line x1="216.2" y1="254" x2="216.2" y2="260.5" stroke="#c6c8c8" stroke-width="0.8" />
<line x1="238.9" y1="223.9" x2="238.9" y2="231.1" stroke="#c6c8c8" stroke-width="0.8" />
<line x1="238.9" y1="244.2" x2="238.9" y2="250.7" stroke="#c6c8c8" stroke-width="0.8" />
<line x1="238.9" y1="263.8" x2="238.9" y2="271" stroke="#c6c8c8" stroke-width="0.8" />
</g>
<path d="M202.6 232.8 L213.6 233.2 L213.6 239.9 L191.6 239.9 L191.6 251.8 L213.6 252.4 L213.6 259.4 L191.6 259.7 L191.6 272.1 L205.2 272.6" fill="none" stroke="#3f9474" stroke-width="1.7" stroke-linejoin="round" stroke-linecap="round"/>
<ellipse cx="202.6" cy="232.6" rx="4.6" ry="3.6" fill="#e2683c" fill-opacity="0.95"/>
<line x1="202.6" y1="232.6" x2="213.1" y2="219" stroke="#9c1f3c" stroke-width="1.6" stroke-linecap="round"/>
<polygon points="215.03,216.45 209.8,218.98 213.92,222.16" fill="#9c1f3c"/>
<ellipse cx="203.9" cy="240.6" rx="49.6" ry="37.3" fill="none" stroke="#7c9088" stroke-width="1.3"/>
<ellipse cx="173.8" cy="89" rx="2.64" ry="2.3" fill="#fff" stroke="#7fa394" stroke-width="1"/>
<ellipse cx="167.7" cy="93.6" rx="2.64" ry="2.3" fill="#fff" stroke="#7fa394" stroke-width="1"/>
<ellipse cx="173.9" cy="269" rx="2.64" ry="2.3" fill="#fff" stroke="#7fa394" stroke-width="1"/>
<ellipse cx="167.6" cy="273.8" rx="2.64" ry="2.3" fill="#fff" stroke="#7fa394" stroke-width="1"/>
<ellipse cx="222.6" cy="275.6" rx="2.64" ry="2.3" fill="#fff" stroke="#7fa394" stroke-width="1"/>
<ellipse cx="237.6" cy="268" rx="2.64" ry="2.3" fill="#fff" stroke="#7fa394" stroke-width="1"/>
<ellipse cx="210.3" cy="453.2" rx="2.64" ry="2.3" fill="#fff" stroke="#7fa394" stroke-width="1"/>
<ellipse cx="224.4" cy="618" rx="2.64" ry="2.3" fill="#fff" stroke="#7fa394" stroke-width="1"/>
<text x="106.3" y="62.6" font-size="13.6" fill="#3a8666" textLength="40.8" lengthAdjust="spacingAndGlyphs" stroke="#3a8666" stroke-width="0.55">32 nt</text>
<text x="106.4" y="244.4" font-size="13.6" fill="#3a8666" textLength="40.9" lengthAdjust="spacingAndGlyphs" stroke="#3a8666" stroke-width="0.55">64 nt</text>
</svg>
</body></html>
